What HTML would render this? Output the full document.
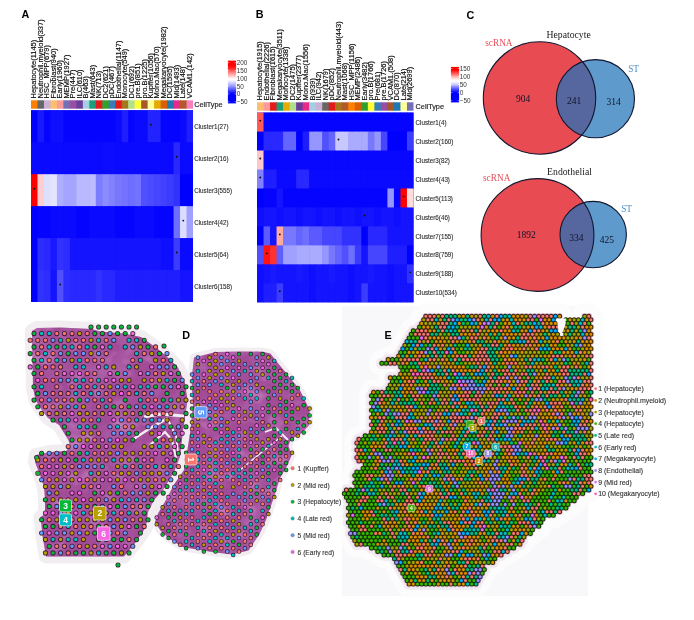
<!DOCTYPE html>
<html><head><meta charset="utf-8"><title>Figure</title><style>
html,body{margin:0;padding:0;background:#fff;}
body{width:694px;height:620px;overflow:hidden;}
svg{display:block;}
text{font-family:'Liberation Sans',Arial,sans-serif;}
.pl{font-size:10.8px;font-weight:bold;fill:#000;}
.cl{font-size:7.45px;fill:#111;stroke:#111;stroke-width:0.18px;}
.rl{font-size:6.8px;fill:#2a2a2a;stroke:#2a2a2a;stroke-width:0.1px;}
.ct{font-size:7.3px;fill:#222;stroke:#222;stroke-width:0.15px;}
.lg{font-size:6.4px;fill:#333;}
.vt{font-family:'Liberation Serif','Times New Roman',serif;font-size:10.8px;fill:#1a1a1a;}
.vs{font-family:'Liberation Serif','Times New Roman',serif;font-size:9.3px;fill:#e8505a;}
.vst{font-family:'Liberation Serif','Times New Roman',serif;font-size:9.3px;fill:#4f8fc6;}
.vn{font-family:'Liberation Serif','Times New Roman',serif;font-size:10.6px;fill:#10142a;}
.bx{font-weight:bold;fill:#fff;}
.lgd{font-size:7.4px;fill:#333;stroke:#333;stroke-width:0.12px;}
.lge{font-size:7.4px;fill:#333;stroke:#333;stroke-width:0.12px;}
</style></head>
<body><svg width="694" height="620" viewBox="0 0 694 620">
<rect width="694" height="620" fill="#fff"/>
<text x="21.6" y="18.4" class="pl">A</text>
<text transform="translate(36.34 98.40) rotate(-90) scale(1 0.93)" class="cl">Hepatocyte(1145)</text>
<text transform="translate(42.82 98.40) rotate(-90) scale(1 0.93)" class="cl">Neutrophil.myeloid(337)</text>
<text transform="translate(49.30 98.40) rotate(-90) scale(1 0.93)" class="cl">HSC_MPP(679)</text>
<text transform="translate(55.78 98.40) rotate(-90) scale(1 0.93)" class="cl">Fibroblast(940)</text>
<text transform="translate(62.26 98.40) rotate(-90) scale(1 0.93)" class="cl">Early(1960)</text>
<text transform="translate(68.74 98.40) rotate(-90) scale(1 0.93)" class="cl">MEMP(1927)</text>
<text transform="translate(75.22 98.40) rotate(-90) scale(1 0.93)" class="cl">Pre(447)</text>
<text transform="translate(81.70 98.40) rotate(-90) scale(1 0.93)" class="cl">ILC(610)</text>
<text transform="translate(88.18 98.40) rotate(-90) scale(1 0.93)" class="cl">B(463)</text>
<text transform="translate(94.66 98.40) rotate(-90) scale(1 0.93)" class="cl">Mast(643)</text>
<text transform="translate(101.14 98.40) rotate(-90) scale(1 0.93)" class="cl">NK(713)</text>
<text transform="translate(107.62 98.40) rotate(-90) scale(1 0.93)" class="cl">DC2(621)</text>
<text transform="translate(114.10 98.40) rotate(-90) scale(1 0.93)" class="cl">pDC(467)</text>
<text transform="translate(120.58 98.40) rotate(-90) scale(1 0.93)" class="cl">Endothelial(1147)</text>
<text transform="translate(127.06 98.40) rotate(-90) scale(1 0.93)" class="cl">Monocyte(549)</text>
<text transform="translate(133.54 98.40) rotate(-90) scale(1 0.93)" class="cl">DC1(692)</text>
<text transform="translate(140.02 98.40) rotate(-90) scale(1 0.93)" class="cl">pre.B(851)</text>
<text transform="translate(146.50 98.40) rotate(-90) scale(1 0.93)" class="cl">pro.B(1225)</text>
<text transform="translate(152.98 98.40) rotate(-90) scale(1 0.93)" class="cl">Kupffer(1056)</text>
<text transform="translate(159.46 98.40) rotate(-90) scale(1 0.93)" class="cl">Mono.Mac(570)</text>
<text transform="translate(165.94 98.40) rotate(-90) scale(1 0.93)" class="cl">Megakaryocyte(1982)</text>
<text transform="translate(172.42 98.40) rotate(-90) scale(1 0.93)" class="cl">DC(1595)</text>
<text transform="translate(178.90 98.40) rotate(-90) scale(1 0.93)" class="cl">Mid(1493)</text>
<text transform="translate(185.38 98.40) rotate(-90) scale(1 0.93)" class="cl">Late(148)</text>
<text transform="translate(191.86 98.40) rotate(-90) scale(1 0.93)" class="cl">VCAM1.(142)</text>
<rect x="31.00" y="100.30" width="7.08" height="8.40" fill="#FF7F00"/>
<rect x="37.48" y="100.30" width="7.08" height="8.40" fill="#666666"/>
<rect x="43.96" y="100.30" width="7.08" height="8.40" fill="#CAB2D6"/>
<rect x="50.44" y="100.30" width="7.08" height="8.40" fill="#FDBF6F"/>
<rect x="56.92" y="100.30" width="7.08" height="8.40" fill="#FB9A99"/>
<rect x="63.40" y="100.30" width="7.08" height="8.40" fill="#7570B3"/>
<rect x="69.88" y="100.30" width="7.08" height="8.40" fill="#984EA3"/>
<rect x="76.36" y="100.30" width="7.08" height="8.40" fill="#6A3D9A"/>
<rect x="82.84" y="100.30" width="7.08" height="8.40" fill="#A6CEE3"/>
<rect x="89.32" y="100.30" width="7.08" height="8.40" fill="#1B9E77"/>
<rect x="95.80" y="100.30" width="7.08" height="8.40" fill="#E31A1C"/>
<rect x="102.28" y="100.30" width="7.08" height="8.40" fill="#33A02C"/>
<rect x="108.76" y="100.30" width="7.08" height="8.40" fill="#377EB8"/>
<rect x="115.24" y="100.30" width="7.08" height="8.40" fill="#E31A1C"/>
<rect x="121.72" y="100.30" width="7.08" height="8.40" fill="#A6761D"/>
<rect x="128.20" y="100.30" width="7.08" height="8.40" fill="#B2DF8A"/>
<rect x="134.68" y="100.30" width="7.08" height="8.40" fill="#FFFF33"/>
<rect x="141.16" y="100.30" width="7.08" height="8.40" fill="#A65628"/>
<rect x="147.64" y="100.30" width="7.08" height="8.40" fill="#FFFF99"/>
<rect x="154.12" y="100.30" width="7.08" height="8.40" fill="#E6AB02"/>
<rect x="160.60" y="100.30" width="7.08" height="8.40" fill="#D95F02"/>
<rect x="167.08" y="100.30" width="7.08" height="8.40" fill="#1F78B4"/>
<rect x="173.56" y="100.30" width="7.08" height="8.40" fill="#E7298A"/>
<rect x="180.04" y="100.30" width="7.08" height="8.40" fill="#B15928"/>
<rect x="186.52" y="100.30" width="6.48" height="8.40" fill="#F781BF"/>
<rect x="31.00" y="110.30" width="162.00" height="191.70" fill="#0000ff"/>
<rect x="31.00" y="110.30" width="7.08" height="32.55" fill="#0000ff"/>
<rect x="37.48" y="110.30" width="7.08" height="32.55" fill="#1919ff"/>
<rect x="43.96" y="110.30" width="7.08" height="32.55" fill="#0505ff"/>
<rect x="50.44" y="110.30" width="7.08" height="32.55" fill="#0f0fff"/>
<rect x="56.92" y="110.30" width="7.08" height="32.55" fill="#0f0fff"/>
<rect x="63.40" y="110.30" width="7.08" height="32.55" fill="#0505ff"/>
<rect x="69.88" y="110.30" width="7.08" height="32.55" fill="#0505ff"/>
<rect x="76.36" y="110.30" width="7.08" height="32.55" fill="#0505ff"/>
<rect x="82.84" y="110.30" width="7.08" height="32.55" fill="#0505ff"/>
<rect x="89.32" y="110.30" width="7.08" height="32.55" fill="#0505ff"/>
<rect x="95.80" y="110.30" width="7.08" height="32.55" fill="#0505ff"/>
<rect x="102.28" y="110.30" width="7.08" height="32.55" fill="#0505ff"/>
<rect x="108.76" y="110.30" width="7.08" height="32.55" fill="#0505ff"/>
<rect x="115.24" y="110.30" width="7.08" height="32.55" fill="#0a0aff"/>
<rect x="121.72" y="110.30" width="7.08" height="32.55" fill="#1e1eff"/>
<rect x="128.20" y="110.30" width="7.08" height="32.55" fill="#0505ff"/>
<rect x="134.68" y="110.30" width="7.08" height="32.55" fill="#0a0aff"/>
<rect x="141.16" y="110.30" width="7.08" height="32.55" fill="#0a0aff"/>
<rect x="147.64" y="110.30" width="7.08" height="32.55" fill="#2323ff"/>
<rect x="154.12" y="110.30" width="7.08" height="32.55" fill="#2323ff"/>
<rect x="160.60" y="110.30" width="7.08" height="32.55" fill="#0505ff"/>
<rect x="167.08" y="110.30" width="7.08" height="32.55" fill="#0505ff"/>
<rect x="173.56" y="110.30" width="7.08" height="32.55" fill="#0505ff"/>
<rect x="180.04" y="110.30" width="7.08" height="32.55" fill="#0a0aff"/>
<rect x="186.52" y="110.30" width="6.48" height="32.55" fill="#1e1eff"/>
<rect x="31.00" y="142.25" width="7.08" height="32.55" fill="#0a0aff"/>
<rect x="37.48" y="142.25" width="7.08" height="32.55" fill="#0a0aff"/>
<rect x="43.96" y="142.25" width="7.08" height="32.55" fill="#0a0aff"/>
<rect x="50.44" y="142.25" width="7.08" height="32.55" fill="#0a0aff"/>
<rect x="56.92" y="142.25" width="7.08" height="32.55" fill="#0a0aff"/>
<rect x="63.40" y="142.25" width="7.08" height="32.55" fill="#0a0aff"/>
<rect x="69.88" y="142.25" width="7.08" height="32.55" fill="#0a0aff"/>
<rect x="76.36" y="142.25" width="7.08" height="32.55" fill="#0a0aff"/>
<rect x="82.84" y="142.25" width="7.08" height="32.55" fill="#0a0aff"/>
<rect x="89.32" y="142.25" width="7.08" height="32.55" fill="#0a0aff"/>
<rect x="95.80" y="142.25" width="7.08" height="32.55" fill="#0a0aff"/>
<rect x="102.28" y="142.25" width="7.08" height="32.55" fill="#0c0cff"/>
<rect x="108.76" y="142.25" width="7.08" height="32.55" fill="#0c0cff"/>
<rect x="115.24" y="142.25" width="7.08" height="32.55" fill="#0a0aff"/>
<rect x="121.72" y="142.25" width="7.08" height="32.55" fill="#0a0aff"/>
<rect x="128.20" y="142.25" width="7.08" height="32.55" fill="#0a0aff"/>
<rect x="134.68" y="142.25" width="7.08" height="32.55" fill="#0a0aff"/>
<rect x="141.16" y="142.25" width="7.08" height="32.55" fill="#0a0aff"/>
<rect x="147.64" y="142.25" width="7.08" height="32.55" fill="#0a0aff"/>
<rect x="154.12" y="142.25" width="7.08" height="32.55" fill="#0a0aff"/>
<rect x="160.60" y="142.25" width="7.08" height="32.55" fill="#0a0aff"/>
<rect x="167.08" y="142.25" width="7.08" height="32.55" fill="#0a0aff"/>
<rect x="173.56" y="142.25" width="7.08" height="32.55" fill="#2828ff"/>
<rect x="180.04" y="142.25" width="7.08" height="32.55" fill="#0a0aff"/>
<rect x="186.52" y="142.25" width="6.48" height="32.55" fill="#0a0aff"/>
<rect x="31.00" y="174.20" width="7.08" height="32.55" fill="#ff0000"/>
<rect x="37.48" y="174.20" width="7.08" height="32.55" fill="#ffcdcd"/>
<rect x="43.96" y="174.20" width="7.08" height="32.55" fill="#dedeff"/>
<rect x="50.44" y="174.20" width="7.08" height="32.55" fill="#e4e4ff"/>
<rect x="56.92" y="174.20" width="7.08" height="32.55" fill="#afafff"/>
<rect x="63.40" y="174.20" width="7.08" height="32.55" fill="#a5a5ff"/>
<rect x="69.88" y="174.20" width="7.08" height="32.55" fill="#a5a5ff"/>
<rect x="76.36" y="174.20" width="7.08" height="32.55" fill="#b9b9ff"/>
<rect x="82.84" y="174.20" width="7.08" height="32.55" fill="#b9b9ff"/>
<rect x="89.32" y="174.20" width="7.08" height="32.55" fill="#bcbcff"/>
<rect x="95.80" y="174.20" width="7.08" height="32.55" fill="#7d7dff"/>
<rect x="102.28" y="174.20" width="7.08" height="32.55" fill="#8c8cff"/>
<rect x="108.76" y="174.20" width="7.08" height="32.55" fill="#8282ff"/>
<rect x="115.24" y="174.20" width="7.08" height="32.55" fill="#7878ff"/>
<rect x="121.72" y="174.20" width="7.08" height="32.55" fill="#7373ff"/>
<rect x="128.20" y="174.20" width="7.08" height="32.55" fill="#6e6eff"/>
<rect x="134.68" y="174.20" width="7.08" height="32.55" fill="#7373ff"/>
<rect x="141.16" y="174.20" width="7.08" height="32.55" fill="#5050ff"/>
<rect x="147.64" y="174.20" width="7.08" height="32.55" fill="#4b4bff"/>
<rect x="154.12" y="174.20" width="7.08" height="32.55" fill="#4646ff"/>
<rect x="160.60" y="174.20" width="7.08" height="32.55" fill="#4141ff"/>
<rect x="167.08" y="174.20" width="7.08" height="32.55" fill="#3c3cff"/>
<rect x="173.56" y="174.20" width="7.08" height="32.55" fill="#3232ff"/>
<rect x="180.04" y="174.20" width="7.08" height="32.55" fill="#0000ff"/>
<rect x="186.52" y="174.20" width="6.48" height="32.55" fill="#0000ff"/>
<rect x="31.00" y="206.15" width="7.08" height="32.55" fill="#0000ff"/>
<rect x="37.48" y="206.15" width="7.08" height="32.55" fill="#0505ff"/>
<rect x="43.96" y="206.15" width="7.08" height="32.55" fill="#0505ff"/>
<rect x="50.44" y="206.15" width="7.08" height="32.55" fill="#0a0aff"/>
<rect x="56.92" y="206.15" width="7.08" height="32.55" fill="#0a0aff"/>
<rect x="63.40" y="206.15" width="7.08" height="32.55" fill="#0a0aff"/>
<rect x="69.88" y="206.15" width="7.08" height="32.55" fill="#0a0aff"/>
<rect x="76.36" y="206.15" width="7.08" height="32.55" fill="#0505ff"/>
<rect x="82.84" y="206.15" width="7.08" height="32.55" fill="#0505ff"/>
<rect x="89.32" y="206.15" width="7.08" height="32.55" fill="#0a0aff"/>
<rect x="95.80" y="206.15" width="7.08" height="32.55" fill="#0a0aff"/>
<rect x="102.28" y="206.15" width="7.08" height="32.55" fill="#0a0aff"/>
<rect x="108.76" y="206.15" width="7.08" height="32.55" fill="#0a0aff"/>
<rect x="115.24" y="206.15" width="7.08" height="32.55" fill="#0505ff"/>
<rect x="121.72" y="206.15" width="7.08" height="32.55" fill="#0505ff"/>
<rect x="128.20" y="206.15" width="7.08" height="32.55" fill="#0505ff"/>
<rect x="134.68" y="206.15" width="7.08" height="32.55" fill="#0a0aff"/>
<rect x="141.16" y="206.15" width="7.08" height="32.55" fill="#0a0aff"/>
<rect x="147.64" y="206.15" width="7.08" height="32.55" fill="#0a0aff"/>
<rect x="154.12" y="206.15" width="7.08" height="32.55" fill="#0505ff"/>
<rect x="160.60" y="206.15" width="7.08" height="32.55" fill="#0505ff"/>
<rect x="167.08" y="206.15" width="7.08" height="32.55" fill="#0505ff"/>
<rect x="173.56" y="206.15" width="7.08" height="32.55" fill="#6e6eff"/>
<rect x="180.04" y="206.15" width="7.08" height="32.55" fill="#dcdcff"/>
<rect x="186.52" y="206.15" width="6.48" height="32.55" fill="#a0a0ff"/>
<rect x="31.00" y="238.10" width="7.08" height="32.55" fill="#0000ff"/>
<rect x="37.48" y="238.10" width="7.08" height="32.55" fill="#2d2dff"/>
<rect x="43.96" y="238.10" width="7.08" height="32.55" fill="#2828ff"/>
<rect x="50.44" y="238.10" width="7.08" height="32.55" fill="#1919ff"/>
<rect x="56.92" y="238.10" width="7.08" height="32.55" fill="#3232ff"/>
<rect x="63.40" y="238.10" width="7.08" height="32.55" fill="#2d2dff"/>
<rect x="69.88" y="238.10" width="7.08" height="32.55" fill="#1414ff"/>
<rect x="76.36" y="238.10" width="7.08" height="32.55" fill="#1414ff"/>
<rect x="82.84" y="238.10" width="7.08" height="32.55" fill="#1414ff"/>
<rect x="89.32" y="238.10" width="7.08" height="32.55" fill="#1414ff"/>
<rect x="95.80" y="238.10" width="7.08" height="32.55" fill="#1414ff"/>
<rect x="102.28" y="238.10" width="7.08" height="32.55" fill="#1414ff"/>
<rect x="108.76" y="238.10" width="7.08" height="32.55" fill="#1414ff"/>
<rect x="115.24" y="238.10" width="7.08" height="32.55" fill="#1414ff"/>
<rect x="121.72" y="238.10" width="7.08" height="32.55" fill="#1414ff"/>
<rect x="128.20" y="238.10" width="7.08" height="32.55" fill="#1414ff"/>
<rect x="134.68" y="238.10" width="7.08" height="32.55" fill="#1414ff"/>
<rect x="141.16" y="238.10" width="7.08" height="32.55" fill="#1414ff"/>
<rect x="147.64" y="238.10" width="7.08" height="32.55" fill="#1414ff"/>
<rect x="154.12" y="238.10" width="7.08" height="32.55" fill="#1414ff"/>
<rect x="160.60" y="238.10" width="7.08" height="32.55" fill="#0f0fff"/>
<rect x="167.08" y="238.10" width="7.08" height="32.55" fill="#0f0fff"/>
<rect x="173.56" y="238.10" width="7.08" height="32.55" fill="#3c3cff"/>
<rect x="180.04" y="238.10" width="7.08" height="32.55" fill="#0a0aff"/>
<rect x="186.52" y="238.10" width="6.48" height="32.55" fill="#0a0aff"/>
<rect x="31.00" y="270.05" width="7.08" height="31.95" fill="#0000ff"/>
<rect x="37.48" y="270.05" width="7.08" height="31.95" fill="#3232ff"/>
<rect x="43.96" y="270.05" width="7.08" height="31.95" fill="#2d2dff"/>
<rect x="50.44" y="270.05" width="7.08" height="31.95" fill="#1414ff"/>
<rect x="56.92" y="270.05" width="7.08" height="31.95" fill="#5050ff"/>
<rect x="63.40" y="270.05" width="7.08" height="31.95" fill="#2d2dff"/>
<rect x="69.88" y="270.05" width="7.08" height="31.95" fill="#2828ff"/>
<rect x="76.36" y="270.05" width="7.08" height="31.95" fill="#2828ff"/>
<rect x="82.84" y="270.05" width="7.08" height="31.95" fill="#2828ff"/>
<rect x="89.32" y="270.05" width="7.08" height="31.95" fill="#2828ff"/>
<rect x="95.80" y="270.05" width="7.08" height="31.95" fill="#3232ff"/>
<rect x="102.28" y="270.05" width="7.08" height="31.95" fill="#2828ff"/>
<rect x="108.76" y="270.05" width="7.08" height="31.95" fill="#2828ff"/>
<rect x="115.24" y="270.05" width="7.08" height="31.95" fill="#1e1eff"/>
<rect x="121.72" y="270.05" width="7.08" height="31.95" fill="#1e1eff"/>
<rect x="128.20" y="270.05" width="7.08" height="31.95" fill="#1e1eff"/>
<rect x="134.68" y="270.05" width="7.08" height="31.95" fill="#1e1eff"/>
<rect x="141.16" y="270.05" width="7.08" height="31.95" fill="#1e1eff"/>
<rect x="147.64" y="270.05" width="7.08" height="31.95" fill="#1e1eff"/>
<rect x="154.12" y="270.05" width="7.08" height="31.95" fill="#1e1eff"/>
<rect x="160.60" y="270.05" width="7.08" height="31.95" fill="#1e1eff"/>
<rect x="167.08" y="270.05" width="7.08" height="31.95" fill="#1e1eff"/>
<rect x="173.56" y="270.05" width="7.08" height="31.95" fill="#1e1eff"/>
<rect x="180.04" y="270.05" width="7.08" height="31.95" fill="#1414ff"/>
<rect x="186.52" y="270.05" width="6.48" height="31.95" fill="#1414ff"/>
<circle cx="150.88" cy="124.77" r="0.95" fill="#111"/>
<circle cx="176.80" cy="156.72" r="0.95" fill="#111"/>
<circle cx="34.24" cy="188.68" r="0.95" fill="#111"/>
<circle cx="183.28" cy="220.62" r="0.95" fill="#111"/>
<circle cx="176.80" cy="252.57" r="0.95" fill="#111"/>
<circle cx="60.16" cy="284.52" r="0.95" fill="#111"/>
<text transform="translate(194.20 128.88) scale(0.92 1)" class="rl">Cluster1(27)</text>
<text transform="translate(194.20 160.82) scale(0.92 1)" class="rl">Cluster2(16)</text>
<text transform="translate(194.20 192.78) scale(0.92 1)" class="rl">Cluster3(555)</text>
<text transform="translate(194.20 224.72) scale(0.92 1)" class="rl">Cluster4(42)</text>
<text transform="translate(194.20 256.68) scale(0.92 1)" class="rl">Cluster5(64)</text>
<text transform="translate(194.20 288.62) scale(0.92 1)" class="rl">Cluster6(158)</text>
<text x="194.2" y="106.9" class="ct">CellType</text>
<text x="255.8" y="18.4" class="pl">B</text>
<text transform="translate(262.36 100.40) rotate(-90) scale(1 0.93)" class="cl">Hepatocyte(1915)</text>
<text transform="translate(268.88 100.40) rotate(-90) scale(1 0.93)" class="cl">Endothelial(2226)</text>
<text transform="translate(275.40 100.40) rotate(-90) scale(1 0.93)" class="cl">Fibroblast(1615)</text>
<text transform="translate(281.92 100.40) rotate(-90) scale(1 0.93)" class="cl">Megakaryocyte(3511)</text>
<text transform="translate(288.44 100.40) rotate(-90) scale(1 0.93)" class="cl">Monocyte(1338)</text>
<text transform="translate(294.96 100.40) rotate(-90) scale(1 0.93)" class="cl">DC2(1475)</text>
<text transform="translate(301.48 100.40) rotate(-90) scale(1 0.93)" class="cl">Kupffer(2377)</text>
<text transform="translate(308.00 100.40) rotate(-90) scale(1 0.93)" class="cl">Mono.Mac(1556)</text>
<text transform="translate(314.52 100.40) rotate(-90) scale(1 0.93)" class="cl">B(939)</text>
<text transform="translate(321.04 100.40) rotate(-90) scale(1 0.93)" class="cl">ILC(942)</text>
<text transform="translate(327.56 100.40) rotate(-90) scale(1 0.93)" class="cl">NK(1679)</text>
<text transform="translate(334.08 100.40) rotate(-90) scale(1 0.93)" class="cl">pDC(852)</text>
<text transform="translate(340.60 100.40) rotate(-90) scale(1 0.93)" class="cl">Neutrophil.myeloid(443)</text>
<text transform="translate(347.12 100.40) rotate(-90) scale(1 0.93)" class="cl">Mast(1068)</text>
<text transform="translate(353.64 100.40) rotate(-90) scale(1 0.93)" class="cl">HSC_MPP(1156)</text>
<text transform="translate(360.16 100.40) rotate(-90) scale(1 0.93)" class="cl">MEMP(2486)</text>
<text transform="translate(366.68 100.40) rotate(-90) scale(1 0.93)" class="cl">Early(3482)</text>
<text transform="translate(373.20 100.40) rotate(-90) scale(1 0.93)" class="cl">pro.B(1766)</text>
<text transform="translate(379.72 100.40) rotate(-90) scale(1 0.93)" class="cl">Pre(681)</text>
<text transform="translate(386.24 100.40) rotate(-90) scale(1 0.93)" class="cl">pre.B(1726)</text>
<text transform="translate(392.76 100.40) rotate(-90) scale(1 0.93)" class="cl">VCAM1.(508)</text>
<text transform="translate(399.28 100.40) rotate(-90) scale(1 0.93)" class="cl">DC(870)</text>
<text transform="translate(405.80 100.40) rotate(-90) scale(1 0.93)" class="cl">Late(214)</text>
<text transform="translate(412.32 100.40) rotate(-90) scale(1 0.93)" class="cl">Mid(2699)</text>
<rect x="257.00" y="102.30" width="7.12" height="8.40" fill="#FDBF6F"/>
<rect x="263.52" y="102.30" width="7.12" height="8.40" fill="#FB9A99"/>
<rect x="270.04" y="102.30" width="7.12" height="8.40" fill="#E31A1C"/>
<rect x="276.56" y="102.30" width="7.12" height="8.40" fill="#1B9E77"/>
<rect x="283.08" y="102.30" width="7.12" height="8.40" fill="#E6AB02"/>
<rect x="289.60" y="102.30" width="7.12" height="8.40" fill="#B2DF8A"/>
<rect x="296.12" y="102.30" width="7.12" height="8.40" fill="#6A3D9A"/>
<rect x="302.64" y="102.30" width="7.12" height="8.40" fill="#E7298A"/>
<rect x="309.16" y="102.30" width="7.12" height="8.40" fill="#A6CEE3"/>
<rect x="315.68" y="102.30" width="7.12" height="8.40" fill="#CAB2D6"/>
<rect x="322.20" y="102.30" width="7.12" height="8.40" fill="#666666"/>
<rect x="328.72" y="102.30" width="7.12" height="8.40" fill="#E31A1C"/>
<rect x="335.24" y="102.30" width="7.12" height="8.40" fill="#A6761D"/>
<rect x="341.76" y="102.30" width="7.12" height="8.40" fill="#B15928"/>
<rect x="348.28" y="102.30" width="7.12" height="8.40" fill="#FF7F00"/>
<rect x="354.80" y="102.30" width="7.12" height="8.40" fill="#D95F02"/>
<rect x="361.32" y="102.30" width="7.12" height="8.40" fill="#33A02C"/>
<rect x="367.84" y="102.30" width="7.12" height="8.40" fill="#FFFF33"/>
<rect x="374.36" y="102.30" width="7.12" height="8.40" fill="#377EB8"/>
<rect x="380.88" y="102.30" width="7.12" height="8.40" fill="#984EA3"/>
<rect x="387.40" y="102.30" width="7.12" height="8.40" fill="#A65628"/>
<rect x="393.92" y="102.30" width="7.12" height="8.40" fill="#1F78B4"/>
<rect x="400.44" y="102.30" width="7.12" height="8.40" fill="#FFFF99"/>
<rect x="406.96" y="102.30" width="6.52" height="8.40" fill="#7570B3"/>
<rect x="257.00" y="112.60" width="156.48" height="189.70" fill="#0000ff"/>
<rect x="257.00" y="112.60" width="7.12" height="19.57" fill="#ff5a5a"/>
<rect x="263.52" y="112.60" width="7.12" height="19.57" fill="#0505ff"/>
<rect x="270.04" y="112.60" width="7.12" height="19.57" fill="#0505ff"/>
<rect x="276.56" y="112.60" width="7.12" height="19.57" fill="#0505ff"/>
<rect x="283.08" y="112.60" width="7.12" height="19.57" fill="#0505ff"/>
<rect x="289.60" y="112.60" width="7.12" height="19.57" fill="#0505ff"/>
<rect x="296.12" y="112.60" width="7.12" height="19.57" fill="#0505ff"/>
<rect x="302.64" y="112.60" width="7.12" height="19.57" fill="#0505ff"/>
<rect x="309.16" y="112.60" width="7.12" height="19.57" fill="#0505ff"/>
<rect x="315.68" y="112.60" width="7.12" height="19.57" fill="#0505ff"/>
<rect x="322.20" y="112.60" width="7.12" height="19.57" fill="#0505ff"/>
<rect x="328.72" y="112.60" width="7.12" height="19.57" fill="#0505ff"/>
<rect x="335.24" y="112.60" width="7.12" height="19.57" fill="#0505ff"/>
<rect x="341.76" y="112.60" width="7.12" height="19.57" fill="#0505ff"/>
<rect x="348.28" y="112.60" width="7.12" height="19.57" fill="#0505ff"/>
<rect x="354.80" y="112.60" width="7.12" height="19.57" fill="#0505ff"/>
<rect x="361.32" y="112.60" width="7.12" height="19.57" fill="#0505ff"/>
<rect x="367.84" y="112.60" width="7.12" height="19.57" fill="#0505ff"/>
<rect x="374.36" y="112.60" width="7.12" height="19.57" fill="#0505ff"/>
<rect x="380.88" y="112.60" width="7.12" height="19.57" fill="#0505ff"/>
<rect x="387.40" y="112.60" width="7.12" height="19.57" fill="#0505ff"/>
<rect x="393.92" y="112.60" width="7.12" height="19.57" fill="#0505ff"/>
<rect x="400.44" y="112.60" width="7.12" height="19.57" fill="#0505ff"/>
<rect x="406.96" y="112.60" width="6.52" height="19.57" fill="#0505ff"/>
<rect x="257.00" y="131.57" width="7.12" height="19.57" fill="#0000ff"/>
<rect x="263.52" y="131.57" width="7.12" height="19.57" fill="#2828ff"/>
<rect x="270.04" y="131.57" width="7.12" height="19.57" fill="#2828ff"/>
<rect x="276.56" y="131.57" width="7.12" height="19.57" fill="#2828ff"/>
<rect x="283.08" y="131.57" width="7.12" height="19.57" fill="#6464ff"/>
<rect x="289.60" y="131.57" width="7.12" height="19.57" fill="#6464ff"/>
<rect x="296.12" y="131.57" width="7.12" height="19.57" fill="#0000ff"/>
<rect x="302.64" y="131.57" width="7.12" height="19.57" fill="#1e1eff"/>
<rect x="309.16" y="131.57" width="7.12" height="19.57" fill="#9696ff"/>
<rect x="315.68" y="131.57" width="7.12" height="19.57" fill="#9696ff"/>
<rect x="322.20" y="131.57" width="7.12" height="19.57" fill="#5050ff"/>
<rect x="328.72" y="131.57" width="7.12" height="19.57" fill="#6464ff"/>
<rect x="335.24" y="131.57" width="7.12" height="19.57" fill="#c8c8ff"/>
<rect x="341.76" y="131.57" width="7.12" height="19.57" fill="#c8c8ff"/>
<rect x="348.28" y="131.57" width="7.12" height="19.57" fill="#aaaaff"/>
<rect x="354.80" y="131.57" width="7.12" height="19.57" fill="#aaaaff"/>
<rect x="361.32" y="131.57" width="7.12" height="19.57" fill="#aaaaff"/>
<rect x="367.84" y="131.57" width="7.12" height="19.57" fill="#7878ff"/>
<rect x="374.36" y="131.57" width="7.12" height="19.57" fill="#9696ff"/>
<rect x="380.88" y="131.57" width="7.12" height="19.57" fill="#4646ff"/>
<rect x="387.40" y="131.57" width="7.12" height="19.57" fill="#0000ff"/>
<rect x="393.92" y="131.57" width="7.12" height="19.57" fill="#0000ff"/>
<rect x="400.44" y="131.57" width="7.12" height="19.57" fill="#0000ff"/>
<rect x="406.96" y="131.57" width="6.52" height="19.57" fill="#3c3cff"/>
<rect x="257.00" y="150.54" width="7.12" height="19.57" fill="#ffc8c8"/>
<rect x="263.52" y="150.54" width="7.12" height="19.57" fill="#0808ff"/>
<rect x="270.04" y="150.54" width="7.12" height="19.57" fill="#0808ff"/>
<rect x="276.56" y="150.54" width="7.12" height="19.57" fill="#0808ff"/>
<rect x="283.08" y="150.54" width="7.12" height="19.57" fill="#0808ff"/>
<rect x="289.60" y="150.54" width="7.12" height="19.57" fill="#0808ff"/>
<rect x="296.12" y="150.54" width="7.12" height="19.57" fill="#0808ff"/>
<rect x="302.64" y="150.54" width="7.12" height="19.57" fill="#0808ff"/>
<rect x="309.16" y="150.54" width="7.12" height="19.57" fill="#0808ff"/>
<rect x="315.68" y="150.54" width="7.12" height="19.57" fill="#0808ff"/>
<rect x="322.20" y="150.54" width="7.12" height="19.57" fill="#0808ff"/>
<rect x="328.72" y="150.54" width="7.12" height="19.57" fill="#0808ff"/>
<rect x="335.24" y="150.54" width="7.12" height="19.57" fill="#0808ff"/>
<rect x="341.76" y="150.54" width="7.12" height="19.57" fill="#0808ff"/>
<rect x="348.28" y="150.54" width="7.12" height="19.57" fill="#0808ff"/>
<rect x="354.80" y="150.54" width="7.12" height="19.57" fill="#0808ff"/>
<rect x="361.32" y="150.54" width="7.12" height="19.57" fill="#0808ff"/>
<rect x="367.84" y="150.54" width="7.12" height="19.57" fill="#0808ff"/>
<rect x="374.36" y="150.54" width="7.12" height="19.57" fill="#0808ff"/>
<rect x="380.88" y="150.54" width="7.12" height="19.57" fill="#0808ff"/>
<rect x="387.40" y="150.54" width="7.12" height="19.57" fill="#0808ff"/>
<rect x="393.92" y="150.54" width="7.12" height="19.57" fill="#0808ff"/>
<rect x="400.44" y="150.54" width="7.12" height="19.57" fill="#0808ff"/>
<rect x="406.96" y="150.54" width="6.52" height="19.57" fill="#0808ff"/>
<rect x="257.00" y="169.51" width="7.12" height="19.57" fill="#8282ff"/>
<rect x="263.52" y="169.51" width="7.12" height="19.57" fill="#1e1eff"/>
<rect x="270.04" y="169.51" width="7.12" height="19.57" fill="#1e1eff"/>
<rect x="276.56" y="169.51" width="7.12" height="19.57" fill="#0a0aff"/>
<rect x="283.08" y="169.51" width="7.12" height="19.57" fill="#0a0aff"/>
<rect x="289.60" y="169.51" width="7.12" height="19.57" fill="#0a0aff"/>
<rect x="296.12" y="169.51" width="7.12" height="19.57" fill="#2828ff"/>
<rect x="302.64" y="169.51" width="7.12" height="19.57" fill="#2828ff"/>
<rect x="309.16" y="169.51" width="7.12" height="19.57" fill="#0a0aff"/>
<rect x="315.68" y="169.51" width="7.12" height="19.57" fill="#0a0aff"/>
<rect x="322.20" y="169.51" width="7.12" height="19.57" fill="#0a0aff"/>
<rect x="328.72" y="169.51" width="7.12" height="19.57" fill="#0a0aff"/>
<rect x="335.24" y="169.51" width="7.12" height="19.57" fill="#0a0aff"/>
<rect x="341.76" y="169.51" width="7.12" height="19.57" fill="#0a0aff"/>
<rect x="348.28" y="169.51" width="7.12" height="19.57" fill="#0a0aff"/>
<rect x="354.80" y="169.51" width="7.12" height="19.57" fill="#0a0aff"/>
<rect x="361.32" y="169.51" width="7.12" height="19.57" fill="#0a0aff"/>
<rect x="367.84" y="169.51" width="7.12" height="19.57" fill="#0a0aff"/>
<rect x="374.36" y="169.51" width="7.12" height="19.57" fill="#0a0aff"/>
<rect x="380.88" y="169.51" width="7.12" height="19.57" fill="#0a0aff"/>
<rect x="387.40" y="169.51" width="7.12" height="19.57" fill="#0a0aff"/>
<rect x="393.92" y="169.51" width="7.12" height="19.57" fill="#0a0aff"/>
<rect x="400.44" y="169.51" width="7.12" height="19.57" fill="#0a0aff"/>
<rect x="406.96" y="169.51" width="6.52" height="19.57" fill="#0a0aff"/>
<rect x="257.00" y="188.48" width="7.12" height="19.57" fill="#0000ff"/>
<rect x="263.52" y="188.48" width="7.12" height="19.57" fill="#0505ff"/>
<rect x="270.04" y="188.48" width="7.12" height="19.57" fill="#0505ff"/>
<rect x="276.56" y="188.48" width="7.12" height="19.57" fill="#1414ff"/>
<rect x="283.08" y="188.48" width="7.12" height="19.57" fill="#0505ff"/>
<rect x="289.60" y="188.48" width="7.12" height="19.57" fill="#0505ff"/>
<rect x="296.12" y="188.48" width="7.12" height="19.57" fill="#0505ff"/>
<rect x="302.64" y="188.48" width="7.12" height="19.57" fill="#0505ff"/>
<rect x="309.16" y="188.48" width="7.12" height="19.57" fill="#0505ff"/>
<rect x="315.68" y="188.48" width="7.12" height="19.57" fill="#0505ff"/>
<rect x="322.20" y="188.48" width="7.12" height="19.57" fill="#0505ff"/>
<rect x="328.72" y="188.48" width="7.12" height="19.57" fill="#0505ff"/>
<rect x="335.24" y="188.48" width="7.12" height="19.57" fill="#0505ff"/>
<rect x="341.76" y="188.48" width="7.12" height="19.57" fill="#0505ff"/>
<rect x="348.28" y="188.48" width="7.12" height="19.57" fill="#0505ff"/>
<rect x="354.80" y="188.48" width="7.12" height="19.57" fill="#0505ff"/>
<rect x="361.32" y="188.48" width="7.12" height="19.57" fill="#0505ff"/>
<rect x="367.84" y="188.48" width="7.12" height="19.57" fill="#0505ff"/>
<rect x="374.36" y="188.48" width="7.12" height="19.57" fill="#0505ff"/>
<rect x="380.88" y="188.48" width="7.12" height="19.57" fill="#0505ff"/>
<rect x="387.40" y="188.48" width="7.12" height="19.57" fill="#9696ff"/>
<rect x="393.92" y="188.48" width="7.12" height="19.57" fill="#0505ff"/>
<rect x="400.44" y="188.48" width="7.12" height="19.57" fill="#ff0000"/>
<rect x="406.96" y="188.48" width="6.52" height="19.57" fill="#ffdcdc"/>
<rect x="257.00" y="207.45" width="7.12" height="19.57" fill="#0f0fff"/>
<rect x="263.52" y="207.45" width="7.12" height="19.57" fill="#1414ff"/>
<rect x="270.04" y="207.45" width="7.12" height="19.57" fill="#1414ff"/>
<rect x="276.56" y="207.45" width="7.12" height="19.57" fill="#0f0fff"/>
<rect x="283.08" y="207.45" width="7.12" height="19.57" fill="#1414ff"/>
<rect x="289.60" y="207.45" width="7.12" height="19.57" fill="#1414ff"/>
<rect x="296.12" y="207.45" width="7.12" height="19.57" fill="#0f0fff"/>
<rect x="302.64" y="207.45" width="7.12" height="19.57" fill="#1414ff"/>
<rect x="309.16" y="207.45" width="7.12" height="19.57" fill="#1414ff"/>
<rect x="315.68" y="207.45" width="7.12" height="19.57" fill="#0f0fff"/>
<rect x="322.20" y="207.45" width="7.12" height="19.57" fill="#1414ff"/>
<rect x="328.72" y="207.45" width="7.12" height="19.57" fill="#1414ff"/>
<rect x="335.24" y="207.45" width="7.12" height="19.57" fill="#0f0fff"/>
<rect x="341.76" y="207.45" width="7.12" height="19.57" fill="#1414ff"/>
<rect x="348.28" y="207.45" width="7.12" height="19.57" fill="#1414ff"/>
<rect x="354.80" y="207.45" width="7.12" height="19.57" fill="#0f0fff"/>
<rect x="361.32" y="207.45" width="7.12" height="19.57" fill="#1414ff"/>
<rect x="367.84" y="207.45" width="7.12" height="19.57" fill="#1414ff"/>
<rect x="374.36" y="207.45" width="7.12" height="19.57" fill="#0f0fff"/>
<rect x="380.88" y="207.45" width="7.12" height="19.57" fill="#1414ff"/>
<rect x="387.40" y="207.45" width="7.12" height="19.57" fill="#1414ff"/>
<rect x="393.92" y="207.45" width="7.12" height="19.57" fill="#0f0fff"/>
<rect x="400.44" y="207.45" width="7.12" height="19.57" fill="#1414ff"/>
<rect x="406.96" y="207.45" width="6.52" height="19.57" fill="#1414ff"/>
<rect x="257.00" y="226.42" width="7.12" height="19.57" fill="#0000ff"/>
<rect x="263.52" y="226.42" width="7.12" height="19.57" fill="#5a5aff"/>
<rect x="270.04" y="226.42" width="7.12" height="19.57" fill="#1414ff"/>
<rect x="276.56" y="226.42" width="7.12" height="19.57" fill="#ffaaa0"/>
<rect x="283.08" y="226.42" width="7.12" height="19.57" fill="#7878ff"/>
<rect x="289.60" y="226.42" width="7.12" height="19.57" fill="#7878ff"/>
<rect x="296.12" y="226.42" width="7.12" height="19.57" fill="#6464ff"/>
<rect x="302.64" y="226.42" width="7.12" height="19.57" fill="#6e6eff"/>
<rect x="309.16" y="226.42" width="7.12" height="19.57" fill="#5a5aff"/>
<rect x="315.68" y="226.42" width="7.12" height="19.57" fill="#5a5aff"/>
<rect x="322.20" y="226.42" width="7.12" height="19.57" fill="#4646ff"/>
<rect x="328.72" y="226.42" width="7.12" height="19.57" fill="#4646ff"/>
<rect x="335.24" y="226.42" width="7.12" height="19.57" fill="#4646ff"/>
<rect x="341.76" y="226.42" width="7.12" height="19.57" fill="#3232ff"/>
<rect x="348.28" y="226.42" width="7.12" height="19.57" fill="#3232ff"/>
<rect x="354.80" y="226.42" width="7.12" height="19.57" fill="#3232ff"/>
<rect x="361.32" y="226.42" width="7.12" height="19.57" fill="#0000ff"/>
<rect x="367.84" y="226.42" width="7.12" height="19.57" fill="#2828ff"/>
<rect x="374.36" y="226.42" width="7.12" height="19.57" fill="#2828ff"/>
<rect x="380.88" y="226.42" width="7.12" height="19.57" fill="#2828ff"/>
<rect x="387.40" y="226.42" width="7.12" height="19.57" fill="#1414ff"/>
<rect x="393.92" y="226.42" width="7.12" height="19.57" fill="#1414ff"/>
<rect x="400.44" y="226.42" width="7.12" height="19.57" fill="#1414ff"/>
<rect x="406.96" y="226.42" width="6.52" height="19.57" fill="#1414ff"/>
<rect x="257.00" y="245.39" width="7.12" height="19.57" fill="#5050ff"/>
<rect x="263.52" y="245.39" width="7.12" height="19.57" fill="#ff1414"/>
<rect x="270.04" y="245.39" width="7.12" height="19.57" fill="#ff3232"/>
<rect x="276.56" y="245.39" width="7.12" height="19.57" fill="#5f5fff"/>
<rect x="283.08" y="245.39" width="7.12" height="19.57" fill="#a0a0ff"/>
<rect x="289.60" y="245.39" width="7.12" height="19.57" fill="#a0a0ff"/>
<rect x="296.12" y="245.39" width="7.12" height="19.57" fill="#aaaaff"/>
<rect x="302.64" y="245.39" width="7.12" height="19.57" fill="#aaaaff"/>
<rect x="309.16" y="245.39" width="7.12" height="19.57" fill="#aaaaff"/>
<rect x="315.68" y="245.39" width="7.12" height="19.57" fill="#aaaaff"/>
<rect x="322.20" y="245.39" width="7.12" height="19.57" fill="#9696ff"/>
<rect x="328.72" y="245.39" width="7.12" height="19.57" fill="#7878ff"/>
<rect x="335.24" y="245.39" width="7.12" height="19.57" fill="#6464ff"/>
<rect x="341.76" y="245.39" width="7.12" height="19.57" fill="#5050ff"/>
<rect x="348.28" y="245.39" width="7.12" height="19.57" fill="#6e6eff"/>
<rect x="354.80" y="245.39" width="7.12" height="19.57" fill="#3c3cff"/>
<rect x="361.32" y="245.39" width="7.12" height="19.57" fill="#1414ff"/>
<rect x="367.84" y="245.39" width="7.12" height="19.57" fill="#4646ff"/>
<rect x="374.36" y="245.39" width="7.12" height="19.57" fill="#4646ff"/>
<rect x="380.88" y="245.39" width="7.12" height="19.57" fill="#4646ff"/>
<rect x="387.40" y="245.39" width="7.12" height="19.57" fill="#1e1eff"/>
<rect x="393.92" y="245.39" width="7.12" height="19.57" fill="#1e1eff"/>
<rect x="400.44" y="245.39" width="7.12" height="19.57" fill="#1e1eff"/>
<rect x="406.96" y="245.39" width="6.52" height="19.57" fill="#0000ff"/>
<rect x="257.00" y="264.36" width="7.12" height="19.57" fill="#0f0fff"/>
<rect x="263.52" y="264.36" width="7.12" height="19.57" fill="#1414ff"/>
<rect x="270.04" y="264.36" width="7.12" height="19.57" fill="#1919ff"/>
<rect x="276.56" y="264.36" width="7.12" height="19.57" fill="#1414ff"/>
<rect x="283.08" y="264.36" width="7.12" height="19.57" fill="#1414ff"/>
<rect x="289.60" y="264.36" width="7.12" height="19.57" fill="#1414ff"/>
<rect x="296.12" y="264.36" width="7.12" height="19.57" fill="#1919ff"/>
<rect x="302.64" y="264.36" width="7.12" height="19.57" fill="#1414ff"/>
<rect x="309.16" y="264.36" width="7.12" height="19.57" fill="#0f0fff"/>
<rect x="315.68" y="264.36" width="7.12" height="19.57" fill="#1414ff"/>
<rect x="322.20" y="264.36" width="7.12" height="19.57" fill="#1414ff"/>
<rect x="328.72" y="264.36" width="7.12" height="19.57" fill="#1919ff"/>
<rect x="335.24" y="264.36" width="7.12" height="19.57" fill="#1414ff"/>
<rect x="341.76" y="264.36" width="7.12" height="19.57" fill="#1414ff"/>
<rect x="348.28" y="264.36" width="7.12" height="19.57" fill="#0f0fff"/>
<rect x="354.80" y="264.36" width="7.12" height="19.57" fill="#1414ff"/>
<rect x="361.32" y="264.36" width="7.12" height="19.57" fill="#1414ff"/>
<rect x="367.84" y="264.36" width="7.12" height="19.57" fill="#1919ff"/>
<rect x="374.36" y="264.36" width="7.12" height="19.57" fill="#1414ff"/>
<rect x="380.88" y="264.36" width="7.12" height="19.57" fill="#1414ff"/>
<rect x="387.40" y="264.36" width="7.12" height="19.57" fill="#0f0fff"/>
<rect x="393.92" y="264.36" width="7.12" height="19.57" fill="#1414ff"/>
<rect x="400.44" y="264.36" width="7.12" height="19.57" fill="#1414ff"/>
<rect x="406.96" y="264.36" width="6.52" height="19.57" fill="#3232ff"/>
<rect x="257.00" y="283.33" width="7.12" height="18.97" fill="#0f0fff"/>
<rect x="263.52" y="283.33" width="7.12" height="18.97" fill="#1e1eff"/>
<rect x="270.04" y="283.33" width="7.12" height="18.97" fill="#1e1eff"/>
<rect x="276.56" y="283.33" width="7.12" height="18.97" fill="#3c3cff"/>
<rect x="283.08" y="283.33" width="7.12" height="18.97" fill="#1414ff"/>
<rect x="289.60" y="283.33" width="7.12" height="18.97" fill="#1414ff"/>
<rect x="296.12" y="283.33" width="7.12" height="18.97" fill="#1414ff"/>
<rect x="302.64" y="283.33" width="7.12" height="18.97" fill="#1414ff"/>
<rect x="309.16" y="283.33" width="7.12" height="18.97" fill="#0f0fff"/>
<rect x="315.68" y="283.33" width="7.12" height="18.97" fill="#1414ff"/>
<rect x="322.20" y="283.33" width="7.12" height="18.97" fill="#1414ff"/>
<rect x="328.72" y="283.33" width="7.12" height="18.97" fill="#1414ff"/>
<rect x="335.24" y="283.33" width="7.12" height="18.97" fill="#1414ff"/>
<rect x="341.76" y="283.33" width="7.12" height="18.97" fill="#1414ff"/>
<rect x="348.28" y="283.33" width="7.12" height="18.97" fill="#0f0fff"/>
<rect x="354.80" y="283.33" width="7.12" height="18.97" fill="#1414ff"/>
<rect x="361.32" y="283.33" width="7.12" height="18.97" fill="#3c3cff"/>
<rect x="367.84" y="283.33" width="7.12" height="18.97" fill="#1414ff"/>
<rect x="374.36" y="283.33" width="7.12" height="18.97" fill="#1414ff"/>
<rect x="380.88" y="283.33" width="7.12" height="18.97" fill="#1414ff"/>
<rect x="387.40" y="283.33" width="7.12" height="18.97" fill="#0f0fff"/>
<rect x="393.92" y="283.33" width="7.12" height="18.97" fill="#1414ff"/>
<rect x="400.44" y="283.33" width="7.12" height="18.97" fill="#1414ff"/>
<rect x="406.96" y="283.33" width="6.52" height="18.97" fill="#1414ff"/>
<circle cx="260.26" cy="120.58" r="0.95" fill="#111"/>
<circle cx="338.50" cy="139.56" r="0.95" fill="#111"/>
<circle cx="260.26" cy="158.52" r="0.95" fill="#111"/>
<circle cx="260.26" cy="177.50" r="0.95" fill="#111"/>
<circle cx="403.70" cy="196.46" r="0.95" fill="#111"/>
<circle cx="364.58" cy="215.44" r="0.95" fill="#111"/>
<circle cx="279.82" cy="234.40" r="0.95" fill="#111"/>
<circle cx="266.78" cy="253.37" r="0.95" fill="#111"/>
<circle cx="410.22" cy="272.35" r="0.95" fill="#111"/>
<circle cx="279.82" cy="291.31" r="0.95" fill="#111"/>
<text transform="translate(415.60 124.68) scale(0.92 1)" class="rl">Cluster1(4)</text>
<text transform="translate(415.60 143.66) scale(0.92 1)" class="rl">Cluster2(160)</text>
<text transform="translate(415.60 162.62) scale(0.92 1)" class="rl">Cluster3(82)</text>
<text transform="translate(415.60 181.59) scale(0.92 1)" class="rl">Cluster4(43)</text>
<text transform="translate(415.60 200.56) scale(0.92 1)" class="rl">Cluster5(113)</text>
<text transform="translate(415.60 219.53) scale(0.92 1)" class="rl">Cluster6(46)</text>
<text transform="translate(415.60 238.50) scale(0.92 1)" class="rl">Cluster7(155)</text>
<text transform="translate(415.60 257.47) scale(0.92 1)" class="rl">Cluster8(759)</text>
<text transform="translate(415.60 276.45) scale(0.92 1)" class="rl">Cluster9(188)</text>
<text transform="translate(415.60 295.41) scale(0.92 1)" class="rl">Cluster10(534)</text>
<text x="415.6" y="109.2" class="ct">CellType</text>
<defs><linearGradient id="g227" x1="0" y1="1" x2="0" y2="0">
<stop offset="0.220" stop-color="#0000ff"/>
<stop offset="0.330" stop-color="#5a5aff"/>
<stop offset="0.439" stop-color="#b4b4ff"/>
<stop offset="0.549" stop-color="#ffffff"/>
<stop offset="0.586" stop-color="#fff4f4"/>
<stop offset="0.695" stop-color="#ff9a9a"/>
<stop offset="0.805" stop-color="#ff3030"/>
<stop offset="0.896" stop-color="#ff0000"/>
</linearGradient></defs>
<rect x="227.90" y="60.60" width="8.2" height="42.80" fill="url(#g227)"/>
<line x1="227.90" x2="229.30" y1="62.70" y2="62.70" stroke="#fff" stroke-width="0.5"/>
<line x1="234.70" x2="236.10" y1="62.70" y2="62.70" stroke="#fff" stroke-width="0.5"/>
<text x="236.70" y="65.10" class="lg">200</text>
<line x1="227.90" x2="229.30" y1="70.52" y2="70.52" stroke="#fff" stroke-width="0.5"/>
<line x1="234.70" x2="236.10" y1="70.52" y2="70.52" stroke="#fff" stroke-width="0.5"/>
<text x="236.70" y="72.92" class="lg">150</text>
<line x1="227.90" x2="229.30" y1="78.34" y2="78.34" stroke="#fff" stroke-width="0.5"/>
<line x1="234.70" x2="236.10" y1="78.34" y2="78.34" stroke="#fff" stroke-width="0.5"/>
<text x="236.70" y="80.74" class="lg">100</text>
<line x1="227.90" x2="229.30" y1="86.16" y2="86.16" stroke="#fff" stroke-width="0.5"/>
<line x1="234.70" x2="236.10" y1="86.16" y2="86.16" stroke="#fff" stroke-width="0.5"/>
<text x="236.70" y="88.56" class="lg">50</text>
<line x1="227.90" x2="229.30" y1="93.98" y2="93.98" stroke="#fff" stroke-width="0.5"/>
<line x1="234.70" x2="236.10" y1="93.98" y2="93.98" stroke="#fff" stroke-width="0.5"/>
<text x="236.70" y="96.38" class="lg">0</text>
<line x1="227.90" x2="229.30" y1="101.80" y2="101.80" stroke="#fff" stroke-width="0.5"/>
<line x1="234.70" x2="236.10" y1="101.80" y2="101.80" stroke="#fff" stroke-width="0.5"/>
<text x="236.70" y="104.20" class="lg">−50</text>
<defs><linearGradient id="g450" x1="0" y1="1" x2="0" y2="0">
<stop offset="0.275" stop-color="#0000ff"/>
<stop offset="0.388" stop-color="#5a5aff"/>
<stop offset="0.501" stop-color="#c8c8ff"/>
<stop offset="0.592" stop-color="#ffffff"/>
<stop offset="0.660" stop-color="#ffeaea"/>
<stop offset="0.774" stop-color="#ff8080"/>
<stop offset="0.910" stop-color="#ff0000"/>
</linearGradient></defs>
<rect x="450.90" y="66.90" width="8.2" height="35.50" fill="url(#g450)"/>
<line x1="450.90" x2="452.30" y1="68.50" y2="68.50" stroke="#fff" stroke-width="0.5"/>
<line x1="457.70" x2="459.10" y1="68.50" y2="68.50" stroke="#fff" stroke-width="0.5"/>
<text x="459.70" y="70.90" class="lg">150</text>
<line x1="450.90" x2="452.30" y1="76.55" y2="76.55" stroke="#fff" stroke-width="0.5"/>
<line x1="457.70" x2="459.10" y1="76.55" y2="76.55" stroke="#fff" stroke-width="0.5"/>
<text x="459.70" y="78.95" class="lg">100</text>
<line x1="450.90" x2="452.30" y1="84.60" y2="84.60" stroke="#fff" stroke-width="0.5"/>
<line x1="457.70" x2="459.10" y1="84.60" y2="84.60" stroke="#fff" stroke-width="0.5"/>
<text x="459.70" y="87.00" class="lg">50</text>
<line x1="450.90" x2="452.30" y1="92.65" y2="92.65" stroke="#fff" stroke-width="0.5"/>
<line x1="457.70" x2="459.10" y1="92.65" y2="92.65" stroke="#fff" stroke-width="0.5"/>
<text x="459.70" y="95.05" class="lg">0</text>
<line x1="450.90" x2="452.30" y1="100.70" y2="100.70" stroke="#fff" stroke-width="0.5"/>
<line x1="457.70" x2="459.10" y1="100.70" y2="100.70" stroke="#fff" stroke-width="0.5"/>
<text x="459.70" y="103.10" class="lg">−50</text>
<text x="466.4" y="18.6" class="pl">C</text>
<defs><clipPath id="c1"><circle cx="539.50" cy="98.00" r="56.20"/></clipPath></defs>
<circle cx="539.50" cy="98.00" r="56.20" fill="#e94b52"/>
<circle cx="595.40" cy="98.70" r="39.10" fill="#5e9acc"/>
<circle cx="595.40" cy="98.70" r="39.10" fill="#56679f" clip-path="url(#c1)"/>
<circle cx="539.50" cy="98.00" r="56.20" fill="none" stroke="#121730" stroke-width="1.1"/>
<circle cx="595.40" cy="98.70" r="39.10" fill="none" stroke="#121730" stroke-width="1.1"/>
<text transform="translate(568.60 37.50) scale(0.9 1)" class="vt" text-anchor="middle">Hepatocyte</text>
<text x="485.20" y="45.80" class="vs">scRNA</text>
<text x="628.20" y="72.00" class="vst">ST</text>
<text transform="translate(523.20 101.50) scale(0.9 1)" class="vn" text-anchor="middle">904</text>
<text transform="translate(574.20 103.60) scale(0.9 1)" class="vn" text-anchor="middle">241</text>
<text transform="translate(613.70 105.00) scale(0.9 1)" class="vn" text-anchor="middle">314</text>
<defs><clipPath id="c2"><circle cx="537.50" cy="235.00" r="56.40"/></clipPath></defs>
<circle cx="537.50" cy="235.00" r="56.40" fill="#e94b52"/>
<circle cx="593.20" cy="234.60" r="33.20" fill="#5e9acc"/>
<circle cx="593.20" cy="234.60" r="33.20" fill="#56679f" clip-path="url(#c2)"/>
<circle cx="537.50" cy="235.00" r="56.40" fill="none" stroke="#121730" stroke-width="1.1"/>
<circle cx="593.20" cy="234.60" r="33.20" fill="none" stroke="#121730" stroke-width="1.1"/>
<text transform="translate(569.50 174.50) scale(0.9 1)" class="vt" text-anchor="middle">Endothelial</text>
<text x="483.00" y="181.20" class="vs">scRNA</text>
<text x="621.20" y="211.60" class="vst">ST</text>
<text transform="translate(526.30 237.50) scale(0.9 1)" class="vn" text-anchor="middle">1892</text>
<text transform="translate(576.30 241.30) scale(0.9 1)" class="vn" text-anchor="middle">334</text>
<text transform="translate(606.90 242.60) scale(0.9 1)" class="vn" text-anchor="middle">425</text>
<defs>
<clipPath id="dclip"><rect x="0" y="305" width="341" height="315"/></clipPath>
<clipPath id="dtis"><polygon points="32.0,331.0 37.0,328.0 60.0,327.5 92.0,329.0 100.0,331.5 124.0,333.6 141.0,337.0 158.0,349.0 169.5,359.0 178.0,367.5 185.0,383.0 187.5,400.0 186.0,410.0 183.0,431.0 180.0,457.0 174.0,472.0 163.0,490.0 154.0,500.0 148.0,512.0 146.0,527.0 136.0,542.0 124.0,556.5 46.0,556.5 42.5,536.0 40.6,517.0 45.0,514.0 45.0,499.0 44.0,487.0 40.0,475.0 35.0,462.0 36.0,455.0 50.0,452.0 66.0,451.0 70.5,447.0 68.5,440.6 64.0,433.0 59.0,425.0 48.0,418.0 41.0,409.0 35.5,400.0 33.0,388.0"/><polygon points="194.0,357.5 216.0,352.0 242.0,351.5 262.6,351.7 270.3,353.5 279.3,364.8 290.6,378.4 299.7,389.7 306.4,403.2 309.8,410.0 308.7,425.8 299.7,434.8 290.6,439.3 288.4,446.0 291.8,455.0 287.0,466.0 280.0,478.0 273.0,500.0 266.0,520.0 259.5,534.0 248.5,550.4 232.0,554.6 212.0,552.0 191.0,548.5 182.4,547.0 170.8,539.7 160.7,531.0 155.0,522.0 158.0,513.6 166.5,499.0 174.0,484.5 184.0,470.0 186.0,458.0 190.3,431.6 193.0,405.8 191.6,380.0"/></clipPath>
<filter id="mot" x="0" y="0" width="100%" height="100%"><feTurbulence type="fractalNoise" baseFrequency="0.045" numOctaves="3" seed="4"/><feColorMatrix type="matrix" values="0 0 0 0 0.45  0 0 0 0 0.15  0 0 0 0 0.45  1.8 0 0 0 -0.8"/></filter>
<filter id="mot2" x="0" y="0" width="100%" height="100%"><feTurbulence type="fractalNoise" baseFrequency="0.06" numOctaves="2" seed="11"/><feColorMatrix type="matrix" values="0 0 0 0 0.80  0 0 0 0 0.42  0 0 0 0 0.76  1.5 0 0 0 -0.85"/></filter>
</defs>
<g clip-path="url(#dclip)">
<polygon points="32.0,331.0 37.0,328.0 60.0,327.5 92.0,329.0 100.0,331.5 124.0,333.6 141.0,337.0 158.0,349.0 169.5,359.0 178.0,367.5 185.0,383.0 187.5,400.0 186.0,410.0 183.0,431.0 180.0,457.0 174.0,472.0 163.0,490.0 154.0,500.0 148.0,512.0 146.0,527.0 136.0,542.0 124.0,556.5 46.0,556.5 42.5,536.0 40.6,517.0 45.0,514.0 45.0,499.0 44.0,487.0 40.0,475.0 35.0,462.0 36.0,455.0 50.0,452.0 66.0,451.0 70.5,447.0 68.5,440.6 64.0,433.0 59.0,425.0 48.0,418.0 41.0,409.0 35.5,400.0 33.0,388.0" fill="#f1edf1" stroke="#f1edf1" stroke-width="14" stroke-linejoin="round"/>
<polygon points="194.0,357.5 216.0,352.0 242.0,351.5 262.6,351.7 270.3,353.5 279.3,364.8 290.6,378.4 299.7,389.7 306.4,403.2 309.8,410.0 308.7,425.8 299.7,434.8 290.6,439.3 288.4,446.0 291.8,455.0 287.0,466.0 280.0,478.0 273.0,500.0 266.0,520.0 259.5,534.0 248.5,550.4 232.0,554.6 212.0,552.0 191.0,548.5 182.4,547.0 170.8,539.7 160.7,531.0 155.0,522.0 158.0,513.6 166.5,499.0 174.0,484.5 184.0,470.0 186.0,458.0 190.3,431.6 193.0,405.8 191.6,380.0" fill="#f1edf1" stroke="#f1edf1" stroke-width="8" stroke-linejoin="round"/>
<g clip-path="url(#dtis)">
<rect x="25" y="320" width="295" height="245" fill="#a24c98"/>
<rect x="25" y="320" width="295" height="245" filter="url(#mot)"/>
<rect x="25" y="320" width="295" height="245" filter="url(#mot2)"/>
</g>
<polyline points="144,417 160,414 184,416" fill="none" stroke="#f4eef4" stroke-width="3"/>
<polyline points="132,440 152,427 168,418" fill="none" stroke="#f4eef4" stroke-width="2.6"/>
<polyline points="150,445 165,432 172,440 176,458" fill="none" stroke="#f4eef4" stroke-width="2.2"/>
<polyline points="168,420 176,436 178,452" fill="none" stroke="#f4eef4" stroke-width="1.8"/>
<polyline points="265,432 276,428 288,440" fill="none" stroke="#f4eef4" stroke-width="1.8"/>
<polyline points="240,470 262,452 282,436" fill="none" stroke="#f4eef4" stroke-width="1.4"/>
<path d="M91.0 327.0h0M98.6 327.0h0M106.2 327.0h0M113.8 327.0h0M121.4 327.0h0M129.0 327.0h0M136.6 327.0h0M34.0 333.6h0M41.6 333.6h0M49.2 333.6h0M56.8 333.6h0M64.4 333.6h0M72.0 333.6h0M79.6 333.6h0M87.2 333.6h0M94.8 333.6h0M102.4 333.6h0M110.0 333.6h0M117.6 333.6h0M125.2 333.6h0M132.8 333.6h0M30.2 340.3h0M37.8 340.3h0M45.4 340.3h0M53.0 340.3h0M60.6 340.3h0M68.2 340.3h0M75.8 340.3h0M83.4 340.3h0M91.0 340.3h0M98.6 340.3h0M106.2 340.3h0M113.8 340.3h0M129.0 340.3h0M136.6 340.3h0M144.2 340.3h0M34.0 346.9h0M41.6 346.9h0M49.2 346.9h0M56.8 346.9h0M64.4 346.9h0M72.0 346.9h0M79.6 346.9h0M87.2 346.9h0M94.8 346.9h0M102.4 346.9h0M110.0 346.9h0M125.2 346.9h0M132.8 346.9h0M140.4 346.9h0M148.0 346.9h0M155.6 346.9h0M30.2 353.6h0M37.8 353.6h0M45.4 353.6h0M53.0 353.6h0M60.6 353.6h0M68.2 353.6h0M75.8 353.6h0M83.4 353.6h0M91.0 353.6h0M98.6 353.6h0M106.2 353.6h0M136.6 353.6h0M144.2 353.6h0M151.8 353.6h0M159.4 353.6h0M167.0 353.6h0M34.0 360.2h0M41.6 360.2h0M49.2 360.2h0M56.8 360.2h0M64.4 360.2h0M72.0 360.2h0M79.6 360.2h0M87.2 360.2h0M94.8 360.2h0M102.4 360.2h0M132.8 360.2h0M140.4 360.2h0M155.6 360.2h0M163.2 360.2h0M170.8 360.2h0M30.2 366.9h0M37.8 366.9h0M45.4 366.9h0M53.0 366.9h0M60.6 366.9h0M75.8 366.9h0M83.4 366.9h0M98.6 366.9h0M106.2 366.9h0M113.8 366.9h0M129.0 366.9h0M136.6 366.9h0M151.8 366.9h0M159.4 366.9h0M167.0 366.9h0M174.6 366.9h0M34.0 373.5h0M41.6 373.5h0M56.8 373.5h0M64.4 373.5h0M72.0 373.5h0M79.6 373.5h0M87.2 373.5h0M94.8 373.5h0M110.0 373.5h0M117.6 373.5h0M125.2 373.5h0M140.4 373.5h0M148.0 373.5h0M155.6 373.5h0M163.2 373.5h0M170.8 373.5h0M178.4 373.5h0M37.8 380.2h0M45.4 380.2h0M53.0 380.2h0M60.6 380.2h0M68.2 380.2h0M75.8 380.2h0M83.4 380.2h0M91.0 380.2h0M98.6 380.2h0M106.2 380.2h0M113.8 380.2h0M121.4 380.2h0M129.0 380.2h0M144.2 380.2h0M151.8 380.2h0M159.4 380.2h0M167.0 380.2h0M174.6 380.2h0M182.2 380.2h0M34.0 386.8h0M41.6 386.8h0M56.8 386.8h0M72.0 386.8h0M79.6 386.8h0M87.2 386.8h0M94.8 386.8h0M102.4 386.8h0M110.0 386.8h0M117.6 386.8h0M125.2 386.8h0M132.8 386.8h0M140.4 386.8h0M148.0 386.8h0M155.6 386.8h0M163.2 386.8h0M170.8 386.8h0M178.4 386.8h0M186.0 386.8h0M37.8 393.4h0M45.4 393.4h0M53.0 393.4h0M60.6 393.4h0M68.2 393.4h0M75.8 393.4h0M83.4 393.4h0M91.0 393.4h0M98.6 393.4h0M106.2 393.4h0M113.8 393.4h0M121.4 393.4h0M129.0 393.4h0M136.6 393.4h0M144.2 393.4h0M151.8 393.4h0M167.0 393.4h0M182.2 393.4h0M34.0 400.1h0M41.6 400.1h0M49.2 400.1h0M56.8 400.1h0M64.4 400.1h0M72.0 400.1h0M79.6 400.1h0M87.2 400.1h0M94.8 400.1h0M102.4 400.1h0M110.0 400.1h0M125.2 400.1h0M140.4 400.1h0M148.0 400.1h0M155.6 400.1h0M163.2 400.1h0M170.8 400.1h0M178.4 400.1h0M186.0 400.1h0M37.8 406.7h0M45.4 406.7h0M53.0 406.7h0M60.6 406.7h0M68.2 406.7h0M75.8 406.7h0M83.4 406.7h0M98.6 406.7h0M106.2 406.7h0M113.8 406.7h0M121.4 406.7h0M129.0 406.7h0M136.6 406.7h0M144.2 406.7h0M151.8 406.7h0M159.4 406.7h0M167.0 406.7h0M174.6 406.7h0M182.2 406.7h0M41.6 413.4h0M49.2 413.4h0M56.8 413.4h0M64.4 413.4h0M72.0 413.4h0M79.6 413.4h0M87.2 413.4h0M94.8 413.4h0M102.4 413.4h0M110.0 413.4h0M117.6 413.4h0M125.2 413.4h0M132.8 413.4h0M140.4 413.4h0M148.0 413.4h0M155.6 413.4h0M163.2 413.4h0M170.8 413.4h0M186.0 413.4h0M53.0 420.0h0M60.6 420.0h0M68.2 420.0h0M75.8 420.0h0M83.4 420.0h0M91.0 420.0h0M98.6 420.0h0M113.8 420.0h0M121.4 420.0h0M129.0 420.0h0M136.6 420.0h0M144.2 420.0h0M151.8 420.0h0M159.4 420.0h0M167.0 420.0h0M182.2 420.0h0M64.4 426.7h0M79.6 426.7h0M87.2 426.7h0M94.8 426.7h0M110.0 426.7h0M117.6 426.7h0M125.2 426.7h0M132.8 426.7h0M148.0 426.7h0M155.6 426.7h0M163.2 426.7h0M170.8 426.7h0M178.4 426.7h0M186.0 426.7h0M68.2 433.3h0M83.4 433.3h0M91.0 433.3h0M98.6 433.3h0M113.8 433.3h0M121.4 433.3h0M129.0 433.3h0M136.6 433.3h0M151.8 433.3h0M159.4 433.3h0M174.6 433.3h0M182.2 433.3h0M72.0 440.0h0M79.6 440.0h0M87.2 440.0h0M94.8 440.0h0M102.4 440.0h0M110.0 440.0h0M117.6 440.0h0M125.2 440.0h0M132.8 440.0h0M155.6 440.0h0M163.2 440.0h0M170.8 440.0h0M178.4 440.0h0M68.2 446.6h0M75.8 446.6h0M83.4 446.6h0M91.0 446.6h0M98.6 446.6h0M106.2 446.6h0M113.8 446.6h0M121.4 446.6h0M144.2 446.6h0M151.8 446.6h0M159.4 446.6h0M167.0 446.6h0M174.6 446.6h0M182.2 446.6h0M41.6 453.3h0M49.2 453.3h0M56.8 453.3h0M64.4 453.3h0M72.0 453.3h0M79.6 453.3h0M87.2 453.3h0M94.8 453.3h0M102.4 453.3h0M110.0 453.3h0M117.6 453.3h0M125.2 453.3h0M132.8 453.3h0M140.4 453.3h0M148.0 453.3h0M155.6 453.3h0M163.2 453.3h0M170.8 453.3h0M178.4 453.3h0M37.8 459.9h0M45.4 459.9h0M53.0 459.9h0M60.6 459.9h0M68.2 459.9h0M75.8 459.9h0M83.4 459.9h0M91.0 459.9h0M98.6 459.9h0M106.2 459.9h0M113.8 459.9h0M121.4 459.9h0M129.0 459.9h0M136.6 459.9h0M144.2 459.9h0M151.8 459.9h0M167.0 459.9h0M174.6 459.9h0M41.6 466.5h0M49.2 466.5h0M56.8 466.5h0M64.4 466.5h0M72.0 466.5h0M79.6 466.5h0M87.2 466.5h0M94.8 466.5h0M102.4 466.5h0M117.6 466.5h0M125.2 466.5h0M132.8 466.5h0M140.4 466.5h0M148.0 466.5h0M155.6 466.5h0M163.2 466.5h0M170.8 466.5h0M178.4 466.5h0M37.8 473.2h0M45.4 473.2h0M53.0 473.2h0M60.6 473.2h0M68.2 473.2h0M75.8 473.2h0M91.0 473.2h0M98.6 473.2h0M106.2 473.2h0M113.8 473.2h0M121.4 473.2h0M129.0 473.2h0M136.6 473.2h0M144.2 473.2h0M151.8 473.2h0M159.4 473.2h0M167.0 473.2h0M174.6 473.2h0M41.6 479.8h0M49.2 479.8h0M56.8 479.8h0M64.4 479.8h0M72.0 479.8h0M79.6 479.8h0M87.2 479.8h0M94.8 479.8h0M102.4 479.8h0M110.0 479.8h0M117.6 479.8h0M125.2 479.8h0M132.8 479.8h0M140.4 479.8h0M148.0 479.8h0M155.6 479.8h0M163.2 479.8h0M170.8 479.8h0M45.4 486.5h0M53.0 486.5h0M60.6 486.5h0M68.2 486.5h0M83.4 486.5h0M91.0 486.5h0M98.6 486.5h0M113.8 486.5h0M121.4 486.5h0M136.6 486.5h0M144.2 486.5h0M151.8 486.5h0M159.4 486.5h0M167.0 486.5h0M49.2 493.1h0M56.8 493.1h0M72.0 493.1h0M79.6 493.1h0M94.8 493.1h0M102.4 493.1h0M110.0 493.1h0M117.6 493.1h0M125.2 493.1h0M132.8 493.1h0M140.4 493.1h0M148.0 493.1h0M155.6 493.1h0M163.2 493.1h0M45.4 499.8h0M53.0 499.8h0M60.6 499.8h0M68.2 499.8h0M75.8 499.8h0M83.4 499.8h0M91.0 499.8h0M98.6 499.8h0M106.2 499.8h0M113.8 499.8h0M121.4 499.8h0M129.0 499.8h0M136.6 499.8h0M144.2 499.8h0M151.8 499.8h0M49.2 506.4h0M56.8 506.4h0M64.4 506.4h0M72.0 506.4h0M79.6 506.4h0M87.2 506.4h0M94.8 506.4h0M102.4 506.4h0M110.0 506.4h0M117.6 506.4h0M125.2 506.4h0M132.8 506.4h0M140.4 506.4h0M148.0 506.4h0M45.4 513.1h0M53.0 513.1h0M60.6 513.1h0M68.2 513.1h0M75.8 513.1h0M83.4 513.1h0M91.0 513.1h0M98.6 513.1h0M106.2 513.1h0M113.8 513.1h0M121.4 513.1h0M129.0 513.1h0M136.6 513.1h0M144.2 513.1h0M41.6 519.7h0M49.2 519.7h0M56.8 519.7h0M64.4 519.7h0M72.0 519.7h0M79.6 519.7h0M87.2 519.7h0M94.8 519.7h0M102.4 519.7h0M110.0 519.7h0M117.6 519.7h0M125.2 519.7h0M132.8 519.7h0M140.4 519.7h0M148.0 519.7h0M45.4 526.4h0M53.0 526.4h0M60.6 526.4h0M68.2 526.4h0M75.8 526.4h0M83.4 526.4h0M91.0 526.4h0M98.6 526.4h0M106.2 526.4h0M113.8 526.4h0M121.4 526.4h0M129.0 526.4h0M136.6 526.4h0M144.2 526.4h0M41.6 533.0h0M49.2 533.0h0M56.8 533.0h0M64.4 533.0h0M72.0 533.0h0M79.6 533.0h0M87.2 533.0h0M94.8 533.0h0M102.4 533.0h0M110.0 533.0h0M117.6 533.0h0M125.2 533.0h0M140.4 533.0h0M45.4 539.6h0M53.0 539.6h0M60.6 539.6h0M68.2 539.6h0M75.8 539.6h0M83.4 539.6h0M98.6 539.6h0M106.2 539.6h0M113.8 539.6h0M121.4 539.6h0M129.0 539.6h0M136.6 539.6h0M49.2 546.3h0M56.8 546.3h0M64.4 546.3h0M72.0 546.3h0M79.6 546.3h0M87.2 546.3h0M94.8 546.3h0M102.4 546.3h0M110.0 546.3h0M117.6 546.3h0M125.2 546.3h0M132.8 546.3h0M45.4 552.9h0M53.0 552.9h0M60.6 552.9h0M68.2 552.9h0M75.8 552.9h0M83.4 552.9h0M91.0 552.9h0M98.6 552.9h0M106.2 552.9h0M113.8 552.9h0M121.4 552.9h0M129.0 552.9h0M38.0 473.3h0M36.6 457.6h0M118.0 565.0h0M164.0 346.0h0" stroke="#2e1226" stroke-width="5.1" stroke-linecap="round" fill="none" opacity="0.9"/>
<path d="M156.7 517.5h0M156.7 524.3h0M162.6 507.3h0M162.6 514.1h0M162.6 527.8h0M162.6 534.6h0M168.5 497.1h0M168.5 503.9h0M168.5 510.7h0M168.5 517.5h0M168.5 524.3h0M168.5 531.1h0M168.5 538.0h0M174.4 486.9h0M174.4 493.7h0M174.4 500.5h0M174.4 507.3h0M174.4 514.1h0M174.4 520.9h0M174.4 527.8h0M174.4 534.6h0M174.4 541.4h0M180.2 476.7h0M180.2 483.5h0M180.2 490.3h0M180.2 497.1h0M180.2 510.7h0M180.2 517.5h0M180.2 524.3h0M180.2 531.1h0M180.2 544.8h0M186.1 452.8h0M186.1 459.6h0M186.1 466.5h0M186.1 473.3h0M186.1 480.1h0M186.1 486.9h0M186.1 493.7h0M186.1 500.5h0M186.1 507.3h0M186.1 514.1h0M186.1 520.9h0M186.1 527.8h0M186.1 534.6h0M186.1 541.4h0M186.1 548.2h0M192.0 374.5h0M192.0 381.3h0M192.0 388.1h0M192.0 394.9h0M192.0 401.8h0M192.0 408.6h0M192.0 415.4h0M192.0 422.2h0M192.0 429.0h0M192.0 435.8h0M192.0 442.6h0M192.0 449.4h0M192.0 456.2h0M192.0 463.0h0M192.0 469.9h0M192.0 476.7h0M192.0 483.5h0M192.0 490.3h0M192.0 497.1h0M192.0 503.9h0M192.0 510.7h0M192.0 517.5h0M192.0 524.3h0M192.0 538.0h0M192.0 544.8h0M197.9 357.5h0M197.9 364.3h0M197.9 371.1h0M197.9 377.9h0M197.9 384.7h0M197.9 391.6h0M197.9 398.4h0M197.9 405.2h0M197.9 412.0h0M197.9 418.8h0M197.9 425.6h0M197.9 432.4h0M197.9 439.2h0M197.9 446.0h0M197.9 452.8h0M197.9 459.6h0M197.9 466.5h0M197.9 473.3h0M197.9 480.1h0M197.9 486.9h0M197.9 493.7h0M197.9 500.5h0M197.9 507.3h0M197.9 520.9h0M197.9 527.8h0M197.9 534.6h0M197.9 541.4h0M197.9 548.2h0M203.8 360.9h0M203.8 374.5h0M203.8 381.3h0M203.8 388.1h0M203.8 401.8h0M203.8 408.6h0M203.8 415.4h0M203.8 435.8h0M203.8 442.6h0M203.8 456.2h0M203.8 463.0h0M203.8 469.9h0M203.8 476.7h0M203.8 483.5h0M203.8 490.3h0M203.8 497.1h0M203.8 503.9h0M203.8 510.7h0M203.8 517.5h0M203.8 524.3h0M203.8 531.1h0M203.8 538.0h0M203.8 544.8h0M203.8 551.6h0M209.6 357.5h0M209.6 364.3h0M209.6 371.1h0M209.6 377.9h0M209.6 384.7h0M209.6 391.6h0M209.6 398.4h0M209.6 405.2h0M209.6 412.0h0M209.6 418.8h0M209.6 425.6h0M209.6 439.2h0M209.6 446.0h0M209.6 452.8h0M209.6 459.6h0M209.6 466.5h0M209.6 473.3h0M209.6 480.1h0M209.6 486.9h0M209.6 493.7h0M209.6 500.5h0M209.6 507.3h0M209.6 514.1h0M209.6 520.9h0M209.6 527.8h0M209.6 534.6h0M209.6 541.4h0M209.6 548.2h0M215.5 354.1h0M215.5 360.9h0M215.5 367.7h0M215.5 374.5h0M215.5 381.3h0M215.5 394.9h0M215.5 401.8h0M215.5 408.6h0M215.5 415.4h0M215.5 422.2h0M215.5 429.0h0M215.5 442.6h0M215.5 449.4h0M215.5 456.2h0M215.5 463.0h0M215.5 469.9h0M215.5 476.7h0M215.5 483.5h0M215.5 490.3h0M215.5 497.1h0M215.5 503.9h0M215.5 510.7h0M215.5 517.5h0M215.5 524.3h0M215.5 531.1h0M215.5 538.0h0M215.5 544.8h0M215.5 551.6h0M221.4 357.5h0M221.4 364.3h0M221.4 371.1h0M221.4 377.9h0M221.4 384.7h0M221.4 391.6h0M221.4 398.4h0M221.4 405.2h0M221.4 412.0h0M221.4 418.8h0M221.4 425.6h0M221.4 432.4h0M221.4 439.2h0M221.4 446.0h0M221.4 452.8h0M221.4 459.6h0M221.4 466.5h0M221.4 473.3h0M221.4 480.1h0M221.4 486.9h0M221.4 493.7h0M221.4 500.5h0M221.4 507.3h0M221.4 514.1h0M221.4 520.9h0M221.4 527.8h0M221.4 534.6h0M221.4 541.4h0M221.4 548.2h0M227.3 354.1h0M227.3 360.9h0M227.3 367.7h0M227.3 374.5h0M227.3 381.3h0M227.3 388.1h0M227.3 394.9h0M227.3 401.8h0M227.3 408.6h0M227.3 422.2h0M227.3 429.0h0M227.3 435.8h0M227.3 442.6h0M227.3 449.4h0M227.3 456.2h0M227.3 463.0h0M227.3 469.9h0M227.3 476.7h0M227.3 497.1h0M227.3 503.9h0M227.3 510.7h0M227.3 517.5h0M227.3 524.3h0M227.3 531.1h0M227.3 538.0h0M227.3 544.8h0M227.3 551.6h0M233.2 357.5h0M233.2 364.3h0M233.2 371.1h0M233.2 377.9h0M233.2 384.7h0M233.2 391.6h0M233.2 398.4h0M233.2 405.2h0M233.2 412.0h0M233.2 418.8h0M233.2 432.4h0M233.2 439.2h0M233.2 446.0h0M233.2 452.8h0M233.2 459.6h0M233.2 466.5h0M233.2 473.3h0M233.2 480.1h0M233.2 486.9h0M233.2 493.7h0M233.2 507.3h0M233.2 514.1h0M233.2 520.9h0M233.2 527.8h0M233.2 534.6h0M233.2 541.4h0M233.2 548.2h0M233.2 555.0h0M239.0 354.1h0M239.0 360.9h0M239.0 367.7h0M239.0 374.5h0M239.0 381.3h0M239.0 388.1h0M239.0 394.9h0M239.0 408.6h0M239.0 415.4h0M239.0 422.2h0M239.0 429.0h0M239.0 435.8h0M239.0 442.6h0M239.0 449.4h0M239.0 456.2h0M239.0 463.0h0M239.0 469.9h0M239.0 476.7h0M239.0 483.5h0M239.0 497.1h0M239.0 503.9h0M239.0 510.7h0M239.0 517.5h0M239.0 524.3h0M239.0 531.1h0M239.0 538.0h0M239.0 544.8h0M239.0 551.6h0M244.9 364.3h0M244.9 371.1h0M244.9 384.7h0M244.9 391.6h0M244.9 398.4h0M244.9 412.0h0M244.9 418.8h0M244.9 432.4h0M244.9 439.2h0M244.9 446.0h0M244.9 459.6h0M244.9 466.5h0M244.9 473.3h0M244.9 480.1h0M244.9 486.9h0M244.9 493.7h0M244.9 500.5h0M244.9 507.3h0M244.9 514.1h0M244.9 527.8h0M244.9 534.6h0M244.9 541.4h0M244.9 548.2h0M250.8 354.1h0M250.8 367.7h0M250.8 374.5h0M250.8 381.3h0M250.8 388.1h0M250.8 394.9h0M250.8 401.8h0M250.8 408.6h0M250.8 415.4h0M250.8 429.0h0M250.8 435.8h0M250.8 442.6h0M250.8 449.4h0M250.8 456.2h0M250.8 463.0h0M250.8 469.9h0M250.8 476.7h0M250.8 483.5h0M250.8 490.3h0M250.8 497.1h0M250.8 503.9h0M250.8 510.7h0M250.8 517.5h0M250.8 524.3h0M250.8 531.1h0M250.8 538.0h0M250.8 544.8h0M256.7 357.5h0M256.7 364.3h0M256.7 371.1h0M256.7 377.9h0M256.7 384.7h0M256.7 391.6h0M256.7 398.4h0M256.7 412.0h0M256.7 418.8h0M256.7 425.6h0M256.7 432.4h0M256.7 439.2h0M256.7 446.0h0M256.7 452.8h0M256.7 459.6h0M256.7 466.5h0M256.7 473.3h0M256.7 480.1h0M256.7 486.9h0M256.7 493.7h0M256.7 500.5h0M256.7 520.9h0M256.7 527.8h0M256.7 534.6h0M262.6 354.1h0M262.6 360.9h0M262.6 367.7h0M262.6 374.5h0M262.6 388.1h0M262.6 408.6h0M262.6 415.4h0M262.6 422.2h0M262.6 429.0h0M262.6 442.6h0M262.6 449.4h0M262.6 456.2h0M262.6 463.0h0M262.6 469.9h0M262.6 476.7h0M262.6 490.3h0M262.6 497.1h0M262.6 503.9h0M262.6 510.7h0M262.6 517.5h0M262.6 524.3h0M268.4 357.5h0M268.4 364.3h0M268.4 371.1h0M268.4 377.9h0M268.4 391.6h0M268.4 398.4h0M268.4 405.2h0M268.4 412.0h0M268.4 425.6h0M268.4 439.2h0M268.4 446.0h0M268.4 452.8h0M268.4 459.6h0M268.4 466.5h0M268.4 473.3h0M268.4 480.1h0M268.4 486.9h0M268.4 493.7h0M268.4 500.5h0M268.4 507.3h0M268.4 514.1h0M274.3 360.9h0M274.3 367.7h0M274.3 374.5h0M274.3 381.3h0M274.3 388.1h0M274.3 394.9h0M274.3 408.6h0M274.3 415.4h0M274.3 422.2h0M274.3 429.0h0M274.3 435.8h0M274.3 442.6h0M274.3 449.4h0M274.3 456.2h0M274.3 463.0h0M274.3 469.9h0M274.3 483.5h0M274.3 490.3h0M274.3 497.1h0M280.2 371.1h0M280.2 377.9h0M280.2 384.7h0M280.2 391.6h0M280.2 398.4h0M280.2 405.2h0M280.2 412.0h0M280.2 432.4h0M280.2 439.2h0M280.2 446.0h0M280.2 452.8h0M280.2 459.6h0M280.2 466.5h0M280.2 473.3h0M280.2 480.1h0M286.1 374.5h0M286.1 381.3h0M286.1 388.1h0M286.1 401.8h0M286.1 408.6h0M286.1 415.4h0M286.1 422.2h0M286.1 429.0h0M286.1 442.6h0M286.1 449.4h0M286.1 456.2h0M286.1 463.0h0M286.1 469.9h0M292.0 377.9h0M292.0 384.7h0M292.0 391.6h0M292.0 398.4h0M292.0 405.2h0M292.0 412.0h0M292.0 418.8h0M292.0 432.4h0M292.0 439.2h0M292.0 452.8h0M297.8 388.1h0M297.8 394.9h0M297.8 408.6h0M297.8 422.2h0M297.8 429.0h0M297.8 435.8h0M303.7 398.4h0M303.7 405.2h0M303.7 418.8h0M303.7 425.6h0M303.7 432.4h0M309.6 408.6h0M309.6 415.4h0M309.6 422.2h0" stroke="#2e1226" stroke-width="4.5" stroke-linecap="round" fill="none" opacity="0.9"/>
<path d="M56.8 333.6h0M64.4 333.6h0M72.0 333.6h0M87.2 333.6h0M30.2 340.3h0M37.8 340.3h0M45.4 340.3h0M75.8 340.3h0M83.4 340.3h0M106.2 340.3h0M41.6 346.9h0M79.6 346.9h0M155.6 346.9h0M37.8 353.6h0M53.0 353.6h0M106.2 353.6h0M144.2 353.6h0M49.2 360.2h0M87.2 360.2h0M94.8 360.2h0M102.4 360.2h0M132.8 360.2h0M163.2 360.2h0M45.4 366.9h0M53.0 366.9h0M60.6 366.9h0M41.6 373.5h0M56.8 373.5h0M87.2 373.5h0M94.8 373.5h0M155.6 373.5h0M45.4 380.2h0M53.0 380.2h0M91.0 380.2h0M151.8 380.2h0M56.8 386.8h0M72.0 386.8h0M87.2 386.8h0M102.4 386.8h0M53.0 393.4h0M60.6 393.4h0M68.2 393.4h0M83.4 393.4h0M106.2 393.4h0M129.0 393.4h0M144.2 393.4h0M41.6 400.1h0M56.8 400.1h0M64.4 400.1h0M94.8 400.1h0M110.0 400.1h0M148.0 400.1h0M155.6 400.1h0M45.4 406.7h0M53.0 406.7h0M98.6 406.7h0M121.4 406.7h0M182.2 406.7h0M49.2 413.4h0M64.4 413.4h0M94.8 413.4h0M132.8 413.4h0M155.6 413.4h0M163.2 413.4h0M170.8 413.4h0M91.0 420.0h0M129.0 420.0h0M125.2 426.7h0M98.6 433.3h0M94.8 440.0h0M163.2 440.0h0M68.2 446.6h0M72.0 453.3h0M94.8 453.3h0M102.4 453.3h0M148.0 453.3h0M45.4 459.9h0M53.0 459.9h0M106.2 459.9h0M151.8 459.9h0M41.6 466.5h0M72.0 466.5h0M132.8 466.5h0M148.0 466.5h0M178.4 466.5h0M113.8 473.2h0M49.2 479.8h0M87.2 479.8h0M132.8 479.8h0M155.6 479.8h0M91.0 486.5h0M121.4 486.5h0M125.2 493.1h0M68.2 499.8h0M98.6 499.8h0M72.0 506.4h0M132.8 506.4h0M140.4 506.4h0M98.6 513.1h0M121.4 513.1h0M49.2 519.7h0M72.0 519.7h0M132.8 519.7h0M60.6 526.4h0M75.8 526.4h0M91.0 526.4h0M106.2 526.4h0M144.2 526.4h0M102.4 533.0h0M117.6 533.0h0M129.0 539.6h0M56.8 546.3h0M64.4 546.3h0M79.6 546.3h0M94.8 546.3h0M68.2 552.9h0M38.0 473.3h0" stroke="#F8766D" stroke-width="3.5" stroke-linecap="round" fill="none"/>
<path d="M162.6 514.1h0M168.5 524.3h0M174.4 500.5h0M174.4 507.3h0M174.4 527.8h0M174.4 534.6h0M180.2 497.1h0M180.2 524.3h0M180.2 544.8h0M186.1 459.6h0M186.1 493.7h0M186.1 500.5h0M186.1 507.3h0M186.1 520.9h0M186.1 527.8h0M192.0 401.8h0M192.0 429.0h0M192.0 442.6h0M192.0 456.2h0M192.0 476.7h0M192.0 483.5h0M192.0 497.1h0M192.0 517.5h0M192.0 524.3h0M197.9 398.4h0M197.9 473.3h0M197.9 493.7h0M197.9 507.3h0M197.9 534.6h0M197.9 541.4h0M203.8 381.3h0M203.8 388.1h0M203.8 456.2h0M203.8 463.0h0M203.8 483.5h0M203.8 497.1h0M203.8 524.3h0M203.8 538.0h0M209.6 391.6h0M209.6 398.4h0M209.6 439.2h0M209.6 446.0h0M209.6 486.9h0M209.6 527.8h0M209.6 534.6h0M209.6 548.2h0M215.5 354.1h0M215.5 394.9h0M215.5 422.2h0M215.5 490.3h0M215.5 544.8h0M221.4 391.6h0M221.4 412.0h0M221.4 446.0h0M221.4 452.8h0M221.4 459.6h0M221.4 466.5h0M221.4 473.3h0M221.4 480.1h0M221.4 493.7h0M221.4 500.5h0M221.4 514.1h0M221.4 520.9h0M221.4 527.8h0M221.4 548.2h0M227.3 456.2h0M227.3 469.9h0M227.3 503.9h0M227.3 510.7h0M227.3 517.5h0M227.3 531.1h0M233.2 398.4h0M233.2 446.0h0M233.2 466.5h0M233.2 480.1h0M233.2 548.2h0M239.0 415.4h0M239.0 422.2h0M239.0 483.5h0M239.0 503.9h0M239.0 517.5h0M239.0 551.6h0M244.9 418.8h0M244.9 439.2h0M244.9 446.0h0M244.9 459.6h0M244.9 466.5h0M244.9 486.9h0M244.9 514.1h0M244.9 534.6h0M244.9 541.4h0M250.8 463.0h0M250.8 483.5h0M250.8 503.9h0M250.8 538.0h0M250.8 544.8h0M256.7 446.0h0M256.7 452.8h0M256.7 459.6h0M256.7 466.5h0M256.7 480.1h0M262.6 422.2h0M262.6 490.3h0M262.6 503.9h0M262.6 524.3h0M268.4 452.8h0M268.4 459.6h0M268.4 493.7h0M274.3 408.6h0M274.3 449.4h0M280.2 371.1h0M280.2 459.6h0M280.2 480.1h0M286.1 456.2h0M292.0 398.4h0M297.8 394.9h0" stroke="#F8766D" stroke-width="3.1" stroke-linecap="round" fill="none"/>
<path d="M79.6 333.6h0M68.2 340.3h0M91.0 340.3h0M140.4 346.9h0M91.0 353.6h0M151.8 353.6h0M72.0 360.2h0M155.6 360.2h0M113.8 366.9h0M136.6 366.9h0M163.2 373.5h0M121.4 380.2h0M129.0 380.2h0M144.2 380.2h0M159.4 380.2h0M110.0 386.8h0M113.8 393.4h0M72.0 400.1h0M178.4 400.1h0M186.0 400.1h0M60.6 406.7h0M83.4 406.7h0M174.6 406.7h0M41.6 413.4h0M56.8 413.4h0M79.6 413.4h0M87.2 413.4h0M102.4 413.4h0M117.6 413.4h0M125.2 413.4h0M148.0 413.4h0M83.4 420.0h0M167.0 420.0h0M182.2 420.0h0M132.8 426.7h0M83.4 433.3h0M91.0 433.3h0M151.8 433.3h0M79.6 440.0h0M87.2 440.0h0M125.2 440.0h0M170.8 440.0h0M98.6 446.6h0M113.8 446.6h0M121.4 446.6h0M144.2 446.6h0M151.8 446.6h0M167.0 446.6h0M110.0 453.3h0M125.2 453.3h0M132.8 453.3h0M140.4 453.3h0M163.2 453.3h0M37.8 459.9h0M60.6 459.9h0M91.0 459.9h0M98.6 459.9h0M121.4 459.9h0M129.0 459.9h0M64.4 466.5h0M117.6 466.5h0M163.2 466.5h0M60.6 473.2h0M75.8 473.2h0M98.6 473.2h0M121.4 473.2h0M129.0 473.2h0M144.2 473.2h0M151.8 473.2h0M159.4 473.2h0M56.8 479.8h0M72.0 479.8h0M94.8 479.8h0M117.6 479.8h0M140.4 479.8h0M148.0 479.8h0M163.2 479.8h0M45.4 486.5h0M53.0 486.5h0M68.2 486.5h0M83.4 486.5h0M151.8 486.5h0M56.8 493.1h0M110.0 493.1h0M148.0 493.1h0M53.0 499.8h0M60.6 499.8h0M75.8 499.8h0M91.0 499.8h0M113.8 499.8h0M64.4 506.4h0M87.2 506.4h0M68.2 513.1h0M91.0 513.1h0M106.2 513.1h0M136.6 513.1h0M56.8 519.7h0M79.6 519.7h0M87.2 519.7h0M94.8 519.7h0M102.4 519.7h0M117.6 519.7h0M140.4 519.7h0M83.4 526.4h0M121.4 526.4h0M72.0 533.0h0M87.2 533.0h0M45.4 539.6h0M60.6 539.6h0M83.4 539.6h0M87.2 546.3h0M45.4 552.9h0M91.0 552.9h0M121.4 552.9h0" stroke="#B79F00" stroke-width="3.5" stroke-linecap="round" fill="none"/>
<path d="M156.7 524.3h0M162.6 507.3h0M162.6 527.8h0M180.2 476.7h0M180.2 517.5h0M186.1 473.3h0M192.0 422.2h0M192.0 463.0h0M197.9 364.3h0M197.9 391.6h0M197.9 405.2h0M197.9 418.8h0M197.9 425.6h0M203.8 415.4h0M203.8 435.8h0M203.8 442.6h0M203.8 490.3h0M203.8 544.8h0M209.6 357.5h0M209.6 364.3h0M209.6 371.1h0M209.6 377.9h0M209.6 452.8h0M209.6 466.5h0M209.6 507.3h0M209.6 520.9h0M215.5 360.9h0M215.5 367.7h0M215.5 374.5h0M215.5 415.4h0M215.5 449.4h0M215.5 456.2h0M215.5 476.7h0M215.5 517.5h0M215.5 531.1h0M221.4 371.1h0M221.4 398.4h0M221.4 486.9h0M221.4 541.4h0M227.3 374.5h0M227.3 381.3h0M227.3 394.9h0M227.3 401.8h0M227.3 408.6h0M227.3 422.2h0M227.3 429.0h0M233.2 384.7h0M233.2 391.6h0M233.2 405.2h0M233.2 486.9h0M233.2 520.9h0M233.2 534.6h0M239.0 360.9h0M239.0 381.3h0M239.0 524.3h0M239.0 531.1h0M244.9 412.0h0M244.9 432.4h0M250.8 415.4h0M250.8 435.8h0M250.8 456.2h0M250.8 490.3h0M256.7 371.1h0M256.7 384.7h0M256.7 439.2h0M256.7 500.5h0M262.6 374.5h0M262.6 388.1h0M262.6 442.6h0M262.6 476.7h0M268.4 357.5h0M268.4 425.6h0M268.4 439.2h0M268.4 514.1h0M274.3 497.1h0M280.2 391.6h0M280.2 398.4h0M280.2 412.0h0M280.2 439.2h0M286.1 422.2h0M292.0 432.4h0M292.0 452.8h0M297.8 408.6h0M297.8 435.8h0M309.6 408.6h0M309.6 422.2h0" stroke="#B79F00" stroke-width="3.1" stroke-linecap="round" fill="none"/>
<path d="M91.0 327.0h0M98.6 327.0h0M106.2 327.0h0M113.8 327.0h0M121.4 327.0h0M129.0 327.0h0M136.6 327.0h0M34.0 333.6h0M94.8 333.6h0M102.4 333.6h0M117.6 333.6h0M125.2 333.6h0M144.2 340.3h0M34.0 346.9h0M56.8 346.9h0M94.8 346.9h0M148.0 346.9h0M30.2 353.6h0M68.2 353.6h0M159.4 353.6h0M34.0 360.2h0M37.8 366.9h0M174.6 366.9h0M34.0 373.5h0M117.6 373.5h0M178.4 373.5h0M174.6 380.2h0M34.0 386.8h0M155.6 386.8h0M163.2 386.8h0M186.0 386.8h0M37.8 393.4h0M167.0 393.4h0M182.2 393.4h0M34.0 400.1h0M79.6 400.1h0M125.2 400.1h0M163.2 400.1h0M37.8 406.7h0M113.8 406.7h0M129.0 406.7h0M140.4 413.4h0M186.0 413.4h0M53.0 420.0h0M64.4 426.7h0M94.8 426.7h0M170.8 426.7h0M186.0 426.7h0M68.2 433.3h0M136.6 433.3h0M72.0 440.0h0M132.8 440.0h0M155.6 440.0h0M178.4 440.0h0M182.2 446.6h0M41.6 453.3h0M64.4 453.3h0M79.6 453.3h0M178.4 453.3h0M75.8 459.9h0M136.6 459.9h0M174.6 459.9h0M37.8 473.2h0M174.6 473.2h0M167.0 486.5h0M94.8 493.1h0M117.6 493.1h0M155.6 493.1h0M163.2 493.1h0M45.4 499.8h0M151.8 499.8h0M49.2 506.4h0M94.8 506.4h0M117.6 506.4h0M148.0 506.4h0M144.2 513.1h0M41.6 519.7h0M148.0 519.7h0M45.4 526.4h0M53.0 526.4h0M98.6 526.4h0M136.6 526.4h0M94.8 533.0h0M140.4 533.0h0M98.6 539.6h0M113.8 539.6h0M121.4 539.6h0M136.6 539.6h0M49.2 546.3h0M53.0 552.9h0M75.8 552.9h0M83.4 552.9h0M106.2 552.9h0M113.8 552.9h0M129.0 552.9h0M36.6 457.6h0M118.0 565.0h0M164.0 346.0h0" stroke="#00BA38" stroke-width="3.5" stroke-linecap="round" fill="none"/>
<path d="M162.6 534.6h0M168.5 517.5h0M168.5 531.1h0M168.5 538.0h0M174.4 514.1h0M186.1 452.8h0M186.1 466.5h0M186.1 480.1h0M186.1 534.6h0M186.1 548.2h0M192.0 388.1h0M192.0 408.6h0M192.0 415.4h0M203.8 503.9h0M203.8 551.6h0M209.6 514.1h0M215.5 429.0h0M215.5 551.6h0M227.3 388.1h0M233.2 541.4h0M239.0 354.1h0M239.0 544.8h0M250.8 354.1h0M250.8 449.4h0M250.8 469.9h0M250.8 517.5h0M256.7 493.7h0M256.7 527.8h0M256.7 534.6h0M262.6 354.1h0M262.6 449.4h0M262.6 456.2h0M262.6 463.0h0M268.4 371.1h0M268.4 391.6h0M268.4 398.4h0M268.4 405.2h0M268.4 412.0h0M268.4 473.3h0M268.4 507.3h0M274.3 367.7h0M274.3 374.5h0M274.3 381.3h0M274.3 388.1h0M274.3 415.4h0M274.3 422.2h0M274.3 429.0h0M274.3 435.8h0M274.3 463.0h0M274.3 483.5h0M274.3 490.3h0M280.2 377.9h0M280.2 384.7h0M280.2 446.0h0M280.2 452.8h0M280.2 466.5h0M280.2 473.3h0M286.1 374.5h0M286.1 388.1h0M286.1 401.8h0M286.1 408.6h0M286.1 429.0h0M286.1 442.6h0M286.1 449.4h0M286.1 463.0h0M286.1 469.9h0M292.0 384.7h0M292.0 391.6h0M292.0 412.0h0M292.0 418.8h0M292.0 439.2h0M297.8 388.1h0M297.8 422.2h0M303.7 405.2h0M303.7 418.8h0M303.7 425.6h0M303.7 432.4h0M309.6 415.4h0" stroke="#00BA38" stroke-width="3.1" stroke-linecap="round" fill="none"/>
<path d="M41.6 333.6h0M49.2 333.6h0M60.6 340.3h0M98.6 340.3h0M129.0 340.3h0M136.6 340.3h0M49.2 346.9h0M64.4 346.9h0M72.0 346.9h0M87.2 346.9h0M110.0 346.9h0M125.2 346.9h0M45.4 353.6h0M136.6 353.6h0M41.6 360.2h0M56.8 360.2h0M79.6 360.2h0M140.4 360.2h0M170.8 360.2h0M75.8 366.9h0M83.4 366.9h0M106.2 366.9h0M129.0 366.9h0M75.8 380.2h0M83.4 380.2h0M98.6 380.2h0M167.0 380.2h0M41.6 386.8h0M79.6 386.8h0M94.8 386.8h0M125.2 386.8h0M140.4 386.8h0M148.0 386.8h0M75.8 393.4h0M91.0 393.4h0M136.6 393.4h0M102.4 400.1h0M140.4 400.1h0M170.8 400.1h0M75.8 406.7h0M106.2 406.7h0M144.2 406.7h0M167.0 406.7h0M60.6 420.0h0M68.2 420.0h0M98.6 420.0h0M136.6 420.0h0M151.8 420.0h0M79.6 426.7h0M87.2 426.7h0M117.6 426.7h0M163.2 426.7h0M129.0 433.3h0M159.4 446.6h0M87.2 453.3h0M83.4 459.9h0M113.8 459.9h0M102.4 466.5h0M125.2 466.5h0M140.4 466.5h0M155.6 466.5h0M170.8 466.5h0M91.0 473.2h0M121.4 499.8h0M136.6 499.8h0M79.6 506.4h0M83.4 513.1h0M113.8 513.1h0M129.0 513.1h0M64.4 519.7h0M68.2 526.4h0M53.0 539.6h0M68.2 539.6h0M75.8 539.6h0M98.6 552.9h0" stroke="#00BFC4" stroke-width="3.5" stroke-linecap="round" fill="none"/>
<path d="M168.5 510.7h0M174.4 520.9h0M180.2 490.3h0M180.2 510.7h0M180.2 531.1h0M186.1 486.9h0M186.1 514.1h0M186.1 541.4h0M192.0 381.3h0M192.0 394.9h0M192.0 435.8h0M192.0 469.9h0M192.0 490.3h0M192.0 503.9h0M192.0 510.7h0M192.0 538.0h0M192.0 544.8h0M197.9 371.1h0M197.9 452.8h0M197.9 459.6h0M197.9 466.5h0M197.9 480.1h0M197.9 520.9h0M197.9 527.8h0M203.8 476.7h0M203.8 510.7h0M203.8 517.5h0M203.8 531.1h0M209.6 418.8h0M209.6 459.6h0M209.6 473.3h0M209.6 480.1h0M209.6 493.7h0M209.6 500.5h0M209.6 541.4h0M215.5 442.6h0M215.5 463.0h0M215.5 469.9h0M215.5 483.5h0M215.5 497.1h0M215.5 503.9h0M215.5 510.7h0M215.5 524.3h0M215.5 538.0h0M221.4 384.7h0M221.4 439.2h0M221.4 534.6h0M227.3 435.8h0M227.3 442.6h0M227.3 476.7h0M227.3 497.1h0M227.3 538.0h0M227.3 544.8h0M233.2 412.0h0M233.2 432.4h0M233.2 459.6h0M233.2 473.3h0M233.2 507.3h0M233.2 514.1h0M233.2 527.8h0M233.2 555.0h0M239.0 449.4h0M239.0 456.2h0M239.0 463.0h0M239.0 469.9h0M239.0 476.7h0M239.0 510.7h0M244.9 371.1h0M244.9 398.4h0M244.9 473.3h0M244.9 480.1h0M244.9 493.7h0M244.9 527.8h0M250.8 394.9h0M250.8 476.7h0M250.8 497.1h0M250.8 510.7h0M250.8 524.3h0M250.8 531.1h0M256.7 398.4h0M256.7 432.4h0M256.7 486.9h0M256.7 520.9h0M262.6 429.0h0M262.6 510.7h0M268.4 377.9h0M268.4 446.0h0M268.4 466.5h0M268.4 480.1h0M268.4 486.9h0M268.4 500.5h0M274.3 360.9h0M274.3 456.2h0M280.2 405.2h0M280.2 432.4h0M286.1 381.3h0M286.1 415.4h0M292.0 377.9h0M297.8 429.0h0M303.7 398.4h0" stroke="#00BFC4" stroke-width="3.1" stroke-linecap="round" fill="none"/>
<path d="M110.0 333.6h0M53.0 340.3h0M113.8 340.3h0M132.8 346.9h0M60.6 353.6h0M75.8 353.6h0M83.4 353.6h0M98.6 353.6h0M167.0 353.6h0M64.4 360.2h0M159.4 366.9h0M167.0 366.9h0M125.2 373.5h0M148.0 373.5h0M60.6 380.2h0M68.2 380.2h0M182.2 380.2h0M117.6 386.8h0M170.8 386.8h0M45.4 393.4h0M98.6 393.4h0M151.8 393.4h0M49.2 400.1h0M87.2 400.1h0M68.2 406.7h0M136.6 406.7h0M159.4 406.7h0M121.4 420.0h0M144.2 420.0h0M159.4 420.0h0M110.0 426.7h0M148.0 426.7h0M155.6 426.7h0M178.4 426.7h0M113.8 433.3h0M121.4 433.3h0M174.6 433.3h0M110.0 440.0h0M75.8 446.6h0M49.2 453.3h0M56.8 453.3h0M117.6 453.3h0M79.6 466.5h0M87.2 466.5h0M94.8 466.5h0M136.6 473.2h0M167.0 473.2h0M41.6 479.8h0M170.8 479.8h0M60.6 486.5h0M113.8 486.5h0M144.2 486.5h0M49.2 493.1h0M132.8 493.1h0M140.4 493.1h0M106.2 499.8h0M129.0 499.8h0M144.2 499.8h0M56.8 506.4h0M102.4 506.4h0M125.2 506.4h0M60.6 513.1h0M110.0 519.7h0M125.2 519.7h0M113.8 526.4h0M41.6 533.0h0M56.8 533.0h0M64.4 533.0h0M79.6 533.0h0M110.0 533.0h0M125.2 533.0h0M106.2 539.6h0M72.0 546.3h0M110.0 546.3h0M132.8 546.3h0M60.6 552.9h0" stroke="#619CFF" stroke-width="3.5" stroke-linecap="round" fill="none"/>
<path d="M168.5 503.9h0M174.4 486.9h0M174.4 541.4h0M192.0 374.5h0M192.0 449.4h0M197.9 357.5h0M197.9 377.9h0M197.9 384.7h0M197.9 439.2h0M197.9 486.9h0M197.9 500.5h0M197.9 548.2h0M209.6 384.7h0M209.6 405.2h0M209.6 412.0h0M215.5 381.3h0M215.5 408.6h0M221.4 357.5h0M221.4 364.3h0M221.4 377.9h0M221.4 418.8h0M221.4 425.6h0M221.4 507.3h0M227.3 360.9h0M227.3 449.4h0M227.3 463.0h0M227.3 524.3h0M227.3 551.6h0M233.2 364.3h0M233.2 371.1h0M233.2 439.2h0M233.2 493.7h0M239.0 374.5h0M239.0 388.1h0M239.0 394.9h0M239.0 435.8h0M239.0 442.6h0M239.0 497.1h0M239.0 538.0h0M244.9 364.3h0M244.9 384.7h0M244.9 500.5h0M244.9 548.2h0M250.8 367.7h0M250.8 374.5h0M250.8 381.3h0M250.8 388.1h0M250.8 401.8h0M250.8 408.6h0M250.8 429.0h0M256.7 357.5h0M256.7 364.3h0M256.7 377.9h0M256.7 391.6h0M256.7 412.0h0M256.7 418.8h0M262.6 469.9h0M262.6 497.1h0M274.3 394.9h0" stroke="#619CFF" stroke-width="3.1" stroke-linecap="round" fill="none"/>
<path d="M132.8 333.6h0M102.4 346.9h0M30.2 366.9h0M98.6 366.9h0M151.8 366.9h0M64.4 373.5h0M72.0 373.5h0M79.6 373.5h0M110.0 373.5h0M140.4 373.5h0M170.8 373.5h0M37.8 380.2h0M106.2 380.2h0M113.8 380.2h0M132.8 386.8h0M178.4 386.8h0M121.4 393.4h0M151.8 406.7h0M72.0 413.4h0M110.0 413.4h0M75.8 420.0h0M113.8 420.0h0M159.4 433.3h0M182.2 433.3h0M102.4 440.0h0M117.6 440.0h0M83.4 446.6h0M91.0 446.6h0M106.2 446.6h0M174.6 446.6h0M155.6 453.3h0M170.8 453.3h0M68.2 459.9h0M144.2 459.9h0M167.0 459.9h0M49.2 466.5h0M56.8 466.5h0M45.4 473.2h0M53.0 473.2h0M68.2 473.2h0M106.2 473.2h0M64.4 479.8h0M79.6 479.8h0M102.4 479.8h0M110.0 479.8h0M125.2 479.8h0M98.6 486.5h0M136.6 486.5h0M159.4 486.5h0M72.0 493.1h0M79.6 493.1h0M102.4 493.1h0M83.4 499.8h0M110.0 506.4h0M45.4 513.1h0M53.0 513.1h0M75.8 513.1h0M129.0 526.4h0M49.2 533.0h0M102.4 546.3h0M117.6 546.3h0M125.2 546.3h0" stroke="#F564E3" stroke-width="3.5" stroke-linecap="round" fill="none"/>
<path d="M156.7 517.5h0M168.5 497.1h0M174.4 493.7h0M180.2 483.5h0M197.9 412.0h0M197.9 432.4h0M197.9 446.0h0M203.8 360.9h0M203.8 374.5h0M203.8 401.8h0M203.8 408.6h0M203.8 469.9h0M209.6 425.6h0M215.5 401.8h0M221.4 405.2h0M221.4 432.4h0M227.3 354.1h0M227.3 367.7h0M233.2 357.5h0M233.2 377.9h0M233.2 418.8h0M233.2 452.8h0M239.0 367.7h0M239.0 408.6h0M239.0 429.0h0M244.9 391.6h0M244.9 507.3h0M250.8 442.6h0M256.7 425.6h0M256.7 473.3h0M262.6 360.9h0M262.6 367.7h0M262.6 408.6h0M262.6 415.4h0M262.6 517.5h0M268.4 364.3h0M274.3 442.6h0M274.3 469.9h0M292.0 405.2h0" stroke="#F564E3" stroke-width="3.1" stroke-linecap="round" fill="none"/>
<rect x="59.5" y="499.8" width="12.0" height="12.0" rx="1.6" fill="#00BA38" stroke="#fff" stroke-width="0.6"/>
<text x="65.5" y="508.9" text-anchor="middle" class="bx" style="font-size:8.5px">3</text>
<rect x="59.5" y="513.8" width="12.0" height="12.0" rx="1.6" fill="#00BFC4" stroke="#fff" stroke-width="0.6"/>
<text x="65.5" y="522.9" text-anchor="middle" class="bx" style="font-size:8.5px">4</text>
<rect x="93.5" y="506.5" width="12.5" height="13.5" rx="1.6" fill="#B79F00" stroke="#fff" stroke-width="0.6"/>
<text x="99.8" y="516.3" text-anchor="middle" class="bx" style="font-size:8.5px">2</text>
<rect x="97.5" y="526.8" width="12.5" height="13.5" rx="1.6" fill="#F564E3" stroke="#fff" stroke-width="0.6"/>
<text x="103.7" y="536.6" text-anchor="middle" class="bx" style="font-size:8.5px">6</text>
<rect x="194.7" y="406.6" width="12.3" height="11.4" rx="1.8" fill="#619CFF" stroke="#fff" stroke-width="0.6"/>
<text transform="translate(198.2 412.3) rotate(90)" text-anchor="middle" class="bx" style="font-size:8.5px">5</text>
<rect x="184.5" y="454" width="12.5" height="11" rx="1.8" fill="#F8766D" stroke="#fff" stroke-width="0.6"/>
<text transform="translate(188 459.5) rotate(90)" text-anchor="middle" class="bx" style="font-size:8.5px">1</text>
<text x="182.3" y="338.7" class="pl">D</text>
<circle cx="292.6" cy="468.2" r="1.75" fill="#F8766D" stroke="#555" stroke-width="0.3"/>
<text transform="translate(297.6 470.8) scale(0.9 1)" class="lgd">1 (Kupffer)</text>
<circle cx="292.6" cy="485.0" r="1.75" fill="#B79F00" stroke="#555" stroke-width="0.3"/>
<text transform="translate(297.6 487.6) scale(0.9 1)" class="lgd">2 (Mid red)</text>
<circle cx="292.6" cy="501.8" r="1.75" fill="#00BA38" stroke="#555" stroke-width="0.3"/>
<text transform="translate(297.6 504.4) scale(0.9 1)" class="lgd">3 (Hepatocyte)</text>
<circle cx="292.6" cy="518.4" r="1.75" fill="#00BFC4" stroke="#555" stroke-width="0.3"/>
<text transform="translate(297.6 521.0) scale(0.9 1)" class="lgd">4 (Late red)</text>
<circle cx="292.6" cy="535.2" r="1.75" fill="#619CFF" stroke="#555" stroke-width="0.3"/>
<text transform="translate(297.6 537.8) scale(0.9 1)" class="lgd">5 (Mid red)</text>
<circle cx="292.6" cy="551.9" r="1.75" fill="#F564E3" stroke="#555" stroke-width="0.3"/>
<text transform="translate(297.6 554.5) scale(0.9 1)" class="lgd">6 (Early red)</text>
</g>
<defs><clipPath id="eclip"><rect x="342" y="300" width="352" height="320"/></clipPath></defs><g clip-path="url(#eclip)">
<rect x="342" y="306" width="246" height="290" fill="#f8f7f9"/>
<path d="M425.8 316.2h0M430.0 316.2h0M434.2 316.2h0M438.4 316.2h0M442.5 316.2h0M446.7 316.2h0M450.9 316.2h0M455.1 316.2h0M459.3 316.2h0M463.4 316.2h0M467.6 316.2h0M471.8 316.2h0M476.0 316.2h0M480.2 316.2h0M484.3 316.2h0M488.5 316.2h0M492.7 316.2h0M496.9 316.2h0M501.1 316.2h0M505.2 316.2h0M509.4 316.2h0M513.6 316.2h0M517.8 316.2h0M522.0 316.2h0M526.1 316.2h0M530.3 316.2h0M534.5 316.2h0M538.7 316.2h0M542.9 316.2h0M547.0 316.2h0M551.2 316.2h0M555.4 316.2h0M559.6 316.2h0M584.7 316.2h0M588.8 316.2h0M423.7 319.8h0M427.9 319.8h0M590.9 319.8h0M421.6 323.4h0M588.8 323.4h0M419.6 327.1h0M423.7 327.1h0M590.9 327.1h0M413.3 330.7h0M417.5 330.7h0M421.6 330.7h0M588.8 330.7h0M411.2 334.3h0M415.4 334.3h0M590.9 334.3h0M409.1 337.9h0M413.3 337.9h0M588.8 337.9h0M407.0 341.5h0M411.2 341.5h0M590.9 341.5h0M404.9 345.2h0M409.1 345.2h0M588.8 345.2h0M402.8 348.8h0M407.0 348.8h0M590.9 348.8h0M400.7 352.4h0M404.9 352.4h0M588.8 352.4h0M398.7 356.0h0M402.8 356.0h0M590.9 356.0h0M388.2 359.6h0M392.4 359.6h0M396.6 359.6h0M588.8 359.6h0M381.9 363.3h0M386.1 363.3h0M390.3 363.3h0M394.5 363.3h0M398.7 363.3h0M402.8 363.3h0M590.9 363.3h0M400.7 366.9h0M404.9 366.9h0M588.8 366.9h0M402.8 370.5h0M407.0 370.5h0M590.9 370.5h0M400.7 374.1h0M404.9 374.1h0M588.8 374.1h0M390.3 377.7h0M394.5 377.7h0M398.7 377.7h0M590.9 377.7h0M392.4 381.4h0M588.8 381.4h0M390.3 385.0h0M590.9 385.0h0M388.2 388.6h0M588.8 388.6h0M373.6 392.2h0M377.8 392.2h0M381.9 392.2h0M386.1 392.2h0M390.3 392.2h0M590.9 392.2h0M371.5 395.8h0M375.7 395.8h0M588.8 395.8h0M373.6 399.5h0M590.9 399.5h0M371.5 403.1h0M375.7 403.1h0M588.8 403.1h0M373.6 406.7h0M590.9 406.7h0M371.5 410.3h0M375.7 410.3h0M588.8 410.3h0M373.6 413.9h0M590.9 413.9h0M371.5 417.6h0M375.7 417.6h0M588.8 417.6h0M373.6 421.2h0M590.9 421.2h0M371.5 424.8h0M375.7 424.8h0M588.8 424.8h0M373.6 428.4h0M590.9 428.4h0M371.5 432.0h0M375.7 432.0h0M588.8 432.0h0M365.2 435.7h0M369.4 435.7h0M373.6 435.7h0M590.9 435.7h0M358.9 439.3h0M363.1 439.3h0M588.8 439.3h0M356.9 442.9h0M590.9 442.9h0M358.9 446.5h0M588.8 446.5h0M356.9 450.1h0M590.9 450.1h0M358.9 453.8h0M588.8 453.8h0M356.9 457.4h0M590.9 457.4h0M358.9 461.0h0M363.1 461.0h0M588.8 461.0h0M365.2 464.6h0M590.9 464.6h0M363.1 468.2h0M367.3 468.2h0M588.8 468.2h0M356.9 471.9h0M361.0 471.9h0M365.2 471.9h0M590.9 471.9h0M354.8 475.5h0M358.9 475.5h0M588.8 475.5h0M356.9 479.1h0M590.9 479.1h0M354.8 482.7h0M358.9 482.7h0M588.8 482.7h0M356.9 486.3h0M586.8 486.3h0M590.9 486.3h0M346.4 490.0h0M350.6 490.0h0M354.8 490.0h0M584.7 490.0h0M588.8 490.0h0M344.3 493.6h0M348.5 493.6h0M578.4 493.6h0M582.6 493.6h0M346.4 497.2h0M572.1 497.2h0M576.3 497.2h0M348.5 500.8h0M570.0 500.8h0M574.2 500.8h0M350.6 504.4h0M563.8 504.4h0M567.9 504.4h0M348.5 508.1h0M561.7 508.1h0M565.9 508.1h0M350.6 511.7h0M551.2 511.7h0M555.4 511.7h0M559.6 511.7h0M348.5 515.3h0M545.0 515.3h0M549.1 515.3h0M553.3 515.3h0M350.6 518.9h0M542.9 518.9h0M348.5 522.5h0M352.7 522.5h0M536.6 522.5h0M540.8 522.5h0M350.6 526.2h0M534.5 526.2h0M538.7 526.2h0M352.7 529.8h0M528.2 529.8h0M532.4 529.8h0M350.6 533.4h0M354.8 533.4h0M526.1 533.4h0M530.3 533.4h0M352.7 537.0h0M524.0 537.0h0M354.8 540.6h0M358.9 540.6h0M517.8 540.6h0M522.0 540.6h0M356.9 544.3h0M361.0 544.3h0M365.2 544.3h0M369.4 544.3h0M373.6 544.3h0M515.7 544.3h0M519.9 544.3h0M371.5 547.9h0M375.7 547.9h0M379.8 547.9h0M509.4 547.9h0M513.6 547.9h0M377.8 551.5h0M381.9 551.5h0M386.1 551.5h0M499.0 551.5h0M503.2 551.5h0M507.3 551.5h0M384.0 555.1h0M388.2 555.1h0M392.4 555.1h0M496.9 555.1h0M501.1 555.1h0M394.5 558.7h0M490.6 558.7h0M494.8 558.7h0M396.6 562.4h0M400.7 562.4h0M484.3 562.4h0M488.5 562.4h0M492.7 562.4h0M398.7 566.0h0M402.8 566.0h0M482.2 566.0h0M400.7 569.6h0M404.9 569.6h0M480.2 569.6h0M484.3 569.6h0M402.8 573.2h0M407.0 573.2h0M482.2 573.2h0M404.9 576.8h0M480.2 576.8h0M407.0 580.5h0M473.9 580.5h0M478.1 580.5h0M409.1 584.1h0M413.3 584.1h0M417.5 584.1h0M421.6 584.1h0M425.8 584.1h0M430.0 584.1h0M434.2 584.1h0M438.4 584.1h0M442.5 584.1h0M446.7 584.1h0M450.9 584.1h0M455.1 584.1h0M459.3 584.1h0M463.4 584.1h0M467.6 584.1h0M471.8 584.1h0M476.0 584.1h0" stroke="#fdfcfd" stroke-width="26" stroke-linecap="round" fill="none"/>
<path d="M419.6 327.1h0M413.3 330.7h0M417.5 330.7h0M411.2 334.3h0M415.4 334.3h0M409.1 337.9h0M413.3 337.9h0M407.0 341.5h0M411.2 341.5h0M404.9 345.2h0M409.1 345.2h0M402.8 348.8h0M407.0 348.8h0M400.7 352.4h0M404.9 352.4h0M398.7 356.0h0M402.8 356.0h0M388.2 359.6h0M392.4 359.6h0M396.6 359.6h0M381.9 363.3h0M386.1 363.3h0M390.3 363.3h0M394.5 363.3h0M398.7 363.3h0M402.8 363.3h0M400.7 366.9h0M404.9 366.9h0M402.8 370.5h0M407.0 370.5h0M400.7 374.1h0M404.9 374.1h0M390.3 377.7h0M394.5 377.7h0M398.7 377.7h0M392.4 381.4h0M390.3 385.0h0M388.2 388.6h0M373.6 392.2h0M377.8 392.2h0M381.9 392.2h0M386.1 392.2h0M390.3 392.2h0M371.5 395.8h0M375.7 395.8h0M373.6 399.5h0M371.5 403.1h0M375.7 403.1h0M373.6 406.7h0M371.5 410.3h0M375.7 410.3h0M373.6 413.9h0M371.5 417.6h0M375.7 417.6h0M373.6 421.2h0M371.5 424.8h0M375.7 424.8h0M373.6 428.4h0M371.5 432.0h0M375.7 432.0h0M365.2 435.7h0M369.4 435.7h0M373.6 435.7h0M358.9 439.3h0M363.1 439.3h0M356.9 442.9h0M358.9 446.5h0M356.9 450.1h0M358.9 453.8h0M356.9 457.4h0M358.9 461.0h0M363.1 461.0h0M365.2 464.6h0M363.1 468.2h0M367.3 468.2h0M356.9 471.9h0M361.0 471.9h0M365.2 471.9h0M354.8 475.5h0M358.9 475.5h0M356.9 479.1h0M354.8 482.7h0M358.9 482.7h0M356.9 486.3h0M346.4 490.0h0M350.6 490.0h0M354.8 490.0h0M344.3 493.6h0M348.5 493.6h0M346.4 497.2h0M348.5 500.8h0M350.6 504.4h0M348.5 508.1h0M350.6 511.7h0M348.5 515.3h0M350.6 518.9h0M348.5 522.5h0M352.7 522.5h0M350.6 526.2h0M352.7 529.8h0M350.6 533.4h0M354.8 533.4h0M352.7 537.0h0M354.8 540.6h0M358.9 540.6h0M517.8 540.6h0M522.0 540.6h0M356.9 544.3h0M361.0 544.3h0M365.2 544.3h0M369.4 544.3h0M373.6 544.3h0M515.7 544.3h0M519.9 544.3h0M371.5 547.9h0M375.7 547.9h0M379.8 547.9h0M509.4 547.9h0M513.6 547.9h0M377.8 551.5h0M381.9 551.5h0M386.1 551.5h0M499.0 551.5h0M503.2 551.5h0M507.3 551.5h0M384.0 555.1h0M388.2 555.1h0M392.4 555.1h0M496.9 555.1h0M501.1 555.1h0M394.5 558.7h0M490.6 558.7h0M494.8 558.7h0M396.6 562.4h0M400.7 562.4h0M484.3 562.4h0M488.5 562.4h0M492.7 562.4h0M398.7 566.0h0M402.8 566.0h0M482.2 566.0h0M400.7 569.6h0M404.9 569.6h0M480.2 569.6h0M484.3 569.6h0M402.8 573.2h0M407.0 573.2h0M482.2 573.2h0M404.9 576.8h0M480.2 576.8h0M407.0 580.5h0M473.9 580.5h0M478.1 580.5h0M409.1 584.1h0M413.3 584.1h0M417.5 584.1h0M421.6 584.1h0M425.8 584.1h0M430.0 584.1h0M434.2 584.1h0M438.4 584.1h0M442.5 584.1h0M446.7 584.1h0M450.9 584.1h0M455.1 584.1h0M459.3 584.1h0M463.4 584.1h0M467.6 584.1h0M471.8 584.1h0M476.0 584.1h0" stroke="#f1ecf1" stroke-width="12" stroke-linecap="round" fill="none"/>
<path d="M425.8 316.2h0M430.0 316.2h0M434.2 316.2h0M438.4 316.2h0M442.5 316.2h0M446.7 316.2h0M450.9 316.2h0M455.1 316.2h0M459.3 316.2h0M463.4 316.2h0M467.6 316.2h0M471.8 316.2h0M476.0 316.2h0M480.2 316.2h0M484.3 316.2h0M488.5 316.2h0M492.7 316.2h0M496.9 316.2h0M501.1 316.2h0M505.2 316.2h0M509.4 316.2h0M513.6 316.2h0M517.8 316.2h0M522.0 316.2h0M526.1 316.2h0M530.3 316.2h0M534.5 316.2h0M538.7 316.2h0M542.9 316.2h0M547.0 316.2h0M551.2 316.2h0M555.4 316.2h0M559.6 316.2h0M584.7 316.2h0M588.8 316.2h0M423.7 319.8h0M427.9 319.8h0M590.9 319.8h0M421.6 323.4h0M588.8 323.4h0M419.6 327.1h0M423.7 327.1h0M590.9 327.1h0M413.3 330.7h0M417.5 330.7h0M421.6 330.7h0M588.8 330.7h0M411.2 334.3h0M415.4 334.3h0M590.9 334.3h0M409.1 337.9h0M413.3 337.9h0M588.8 337.9h0M407.0 341.5h0M411.2 341.5h0M590.9 341.5h0M404.9 345.2h0M409.1 345.2h0M588.8 345.2h0M402.8 348.8h0M407.0 348.8h0M590.9 348.8h0M400.7 352.4h0M404.9 352.4h0M588.8 352.4h0M398.7 356.0h0M402.8 356.0h0M590.9 356.0h0M388.2 359.6h0M392.4 359.6h0M396.6 359.6h0M588.8 359.6h0M381.9 363.3h0M386.1 363.3h0M390.3 363.3h0M394.5 363.3h0M398.7 363.3h0M402.8 363.3h0M590.9 363.3h0M400.7 366.9h0M404.9 366.9h0M588.8 366.9h0M402.8 370.5h0M407.0 370.5h0M590.9 370.5h0M400.7 374.1h0M404.9 374.1h0M588.8 374.1h0M390.3 377.7h0M394.5 377.7h0M398.7 377.7h0M590.9 377.7h0M392.4 381.4h0M588.8 381.4h0M390.3 385.0h0M590.9 385.0h0M388.2 388.6h0M588.8 388.6h0M373.6 392.2h0M377.8 392.2h0M381.9 392.2h0M386.1 392.2h0M390.3 392.2h0M590.9 392.2h0M371.5 395.8h0M375.7 395.8h0M588.8 395.8h0M373.6 399.5h0M590.9 399.5h0M371.5 403.1h0M375.7 403.1h0M588.8 403.1h0M373.6 406.7h0M590.9 406.7h0M371.5 410.3h0M375.7 410.3h0M588.8 410.3h0M373.6 413.9h0M590.9 413.9h0M371.5 417.6h0M375.7 417.6h0M588.8 417.6h0M373.6 421.2h0M590.9 421.2h0M371.5 424.8h0M375.7 424.8h0M588.8 424.8h0M373.6 428.4h0M590.9 428.4h0M371.5 432.0h0M375.7 432.0h0M588.8 432.0h0M365.2 435.7h0M369.4 435.7h0M373.6 435.7h0M590.9 435.7h0M358.9 439.3h0M363.1 439.3h0M588.8 439.3h0M356.9 442.9h0M590.9 442.9h0M358.9 446.5h0M588.8 446.5h0M356.9 450.1h0M590.9 450.1h0M358.9 453.8h0M588.8 453.8h0M356.9 457.4h0M590.9 457.4h0M358.9 461.0h0M363.1 461.0h0M588.8 461.0h0M365.2 464.6h0M590.9 464.6h0M363.1 468.2h0M367.3 468.2h0M588.8 468.2h0M356.9 471.9h0M361.0 471.9h0M365.2 471.9h0M590.9 471.9h0M354.8 475.5h0M358.9 475.5h0M588.8 475.5h0M356.9 479.1h0M590.9 479.1h0M354.8 482.7h0M358.9 482.7h0M588.8 482.7h0M356.9 486.3h0M586.8 486.3h0M590.9 486.3h0M346.4 490.0h0M350.6 490.0h0M354.8 490.0h0M584.7 490.0h0M588.8 490.0h0M344.3 493.6h0M348.5 493.6h0M578.4 493.6h0M582.6 493.6h0M346.4 497.2h0M572.1 497.2h0M576.3 497.2h0M348.5 500.8h0M570.0 500.8h0M574.2 500.8h0M350.6 504.4h0M563.8 504.4h0M567.9 504.4h0M348.5 508.1h0M561.7 508.1h0M565.9 508.1h0M350.6 511.7h0M551.2 511.7h0M555.4 511.7h0M559.6 511.7h0M348.5 515.3h0M545.0 515.3h0M549.1 515.3h0M553.3 515.3h0M350.6 518.9h0M542.9 518.9h0M348.5 522.5h0M352.7 522.5h0M536.6 522.5h0M540.8 522.5h0M350.6 526.2h0M534.5 526.2h0M538.7 526.2h0M352.7 529.8h0M528.2 529.8h0M532.4 529.8h0M350.6 533.4h0M354.8 533.4h0M526.1 533.4h0M530.3 533.4h0M352.7 537.0h0M524.0 537.0h0M354.8 540.6h0M358.9 540.6h0M517.8 540.6h0M522.0 540.6h0M356.9 544.3h0M361.0 544.3h0M365.2 544.3h0M369.4 544.3h0M373.6 544.3h0M515.7 544.3h0M519.9 544.3h0M371.5 547.9h0M375.7 547.9h0M379.8 547.9h0M509.4 547.9h0M513.6 547.9h0M377.8 551.5h0M381.9 551.5h0M386.1 551.5h0M499.0 551.5h0M503.2 551.5h0M507.3 551.5h0M384.0 555.1h0M388.2 555.1h0M392.4 555.1h0M496.9 555.1h0M501.1 555.1h0M394.5 558.7h0M490.6 558.7h0M494.8 558.7h0M396.6 562.4h0M400.7 562.4h0M484.3 562.4h0M488.5 562.4h0M492.7 562.4h0M398.7 566.0h0M402.8 566.0h0M482.2 566.0h0M400.7 569.6h0M404.9 569.6h0M480.2 569.6h0M484.3 569.6h0M402.8 573.2h0M407.0 573.2h0M482.2 573.2h0M404.9 576.8h0M480.2 576.8h0M407.0 580.5h0M473.9 580.5h0M478.1 580.5h0M409.1 584.1h0M413.3 584.1h0M417.5 584.1h0M421.6 584.1h0M425.8 584.1h0M430.0 584.1h0M434.2 584.1h0M438.4 584.1h0M442.5 584.1h0M446.7 584.1h0M450.9 584.1h0M455.1 584.1h0M459.3 584.1h0M463.4 584.1h0M467.6 584.1h0M471.8 584.1h0M476.0 584.1h0" stroke="#e9c6df" stroke-width="6.6" stroke-linecap="round" fill="none"/>
</g>
<path d="M425.8 316.2h0M430.0 316.2h0M434.2 316.2h0M442.5 316.2h0M480.2 316.2h0M496.9 316.2h0M530.3 316.2h0M538.7 316.2h0M542.9 316.2h0M547.0 316.2h0M551.2 316.2h0M588.8 316.2h0M427.9 319.8h0M432.1 319.8h0M448.8 319.8h0M478.1 319.8h0M490.6 319.8h0M528.2 319.8h0M532.4 319.8h0M590.9 319.8h0M442.5 323.4h0M446.7 323.4h0M496.9 323.4h0M517.8 323.4h0M542.9 323.4h0M572.1 323.4h0M584.7 323.4h0M440.5 327.1h0M444.6 327.1h0M494.8 327.1h0M507.3 327.1h0M549.1 327.1h0M553.3 327.1h0M557.5 327.1h0M582.6 327.1h0M417.5 330.7h0M421.6 330.7h0M425.8 330.7h0M442.5 330.7h0M463.4 330.7h0M471.8 330.7h0M480.2 330.7h0M501.1 330.7h0M534.5 330.7h0M538.7 330.7h0M415.4 334.3h0M419.6 334.3h0M423.7 334.3h0M427.9 334.3h0M478.1 334.3h0M524.0 334.3h0M528.2 334.3h0M532.4 334.3h0M425.8 337.9h0M450.9 337.9h0M455.1 337.9h0M471.8 337.9h0M476.0 337.9h0M484.3 337.9h0M522.0 337.9h0M526.1 337.9h0M534.5 337.9h0M588.8 337.9h0M419.6 341.5h0M427.9 341.5h0M453.0 341.5h0M473.9 341.5h0M494.8 341.5h0M528.2 341.5h0M536.6 341.5h0M557.5 341.5h0M417.5 345.2h0M434.2 345.2h0M442.5 345.2h0M492.7 345.2h0M496.9 345.2h0M509.4 345.2h0M526.1 345.2h0M530.3 345.2h0M432.1 348.8h0M453.0 348.8h0M482.2 348.8h0M486.4 348.8h0M507.3 348.8h0M511.5 348.8h0M524.0 348.8h0M536.6 348.8h0M421.6 352.4h0M434.2 352.4h0M480.2 352.4h0M484.3 352.4h0M501.1 352.4h0M580.5 352.4h0M419.6 356.0h0M436.3 356.0h0M457.2 356.0h0M461.4 356.0h0M465.5 356.0h0M478.1 356.0h0M482.2 356.0h0M486.4 356.0h0M553.3 356.0h0M557.5 356.0h0M561.7 356.0h0M574.2 356.0h0M586.8 356.0h0M590.9 356.0h0M404.9 359.6h0M409.1 359.6h0M413.3 359.6h0M417.5 359.6h0M430.0 359.6h0M434.2 359.6h0M442.5 359.6h0M455.1 359.6h0M463.4 359.6h0M467.6 359.6h0M471.8 359.6h0M476.0 359.6h0M480.2 359.6h0M484.3 359.6h0M488.5 359.6h0M505.2 359.6h0M530.3 359.6h0M551.2 359.6h0M390.3 363.3h0M394.5 363.3h0M402.8 363.3h0M419.6 363.3h0M478.1 363.3h0M486.4 363.3h0M507.3 363.3h0M511.5 363.3h0M515.7 363.3h0M590.9 363.3h0M480.2 366.9h0M488.5 366.9h0M526.1 366.9h0M530.3 366.9h0M542.9 366.9h0M547.0 366.9h0M563.8 366.9h0M567.9 366.9h0M576.3 366.9h0M411.2 370.5h0M444.6 370.5h0M453.0 370.5h0M478.1 370.5h0M486.4 370.5h0M503.2 370.5h0M507.3 370.5h0M515.7 370.5h0M561.7 370.5h0M565.9 370.5h0M590.9 370.5h0M421.6 374.1h0M425.8 374.1h0M430.0 374.1h0M446.7 374.1h0M463.4 374.1h0M492.7 374.1h0M505.2 374.1h0M509.4 374.1h0M513.6 374.1h0M522.0 374.1h0M526.1 374.1h0M547.0 374.1h0M563.8 374.1h0M567.9 374.1h0M584.7 374.1h0M415.4 377.7h0M423.7 377.7h0M427.9 377.7h0M432.1 377.7h0M490.6 377.7h0M499.0 377.7h0M503.2 377.7h0M519.9 377.7h0M528.2 377.7h0M545.0 377.7h0M549.1 377.7h0M578.4 377.7h0M590.9 377.7h0M409.1 381.4h0M413.3 381.4h0M434.2 381.4h0M438.4 381.4h0M492.7 381.4h0M496.9 381.4h0M501.1 381.4h0M509.4 381.4h0M522.0 381.4h0M526.1 381.4h0M538.7 381.4h0M547.0 381.4h0M559.6 381.4h0M563.8 381.4h0M584.7 381.4h0M588.8 381.4h0M402.8 385.0h0M411.2 385.0h0M444.6 385.0h0M453.0 385.0h0M457.2 385.0h0M465.5 385.0h0M490.6 385.0h0M499.0 385.0h0M519.9 385.0h0M532.4 385.0h0M536.6 385.0h0M557.5 385.0h0M570.0 385.0h0M582.6 385.0h0M590.9 385.0h0M425.8 388.6h0M488.5 388.6h0M492.7 388.6h0M496.9 388.6h0M501.1 388.6h0M505.2 388.6h0M517.8 388.6h0M526.1 388.6h0M534.5 388.6h0M538.7 388.6h0M551.2 388.6h0M559.6 388.6h0M580.5 388.6h0M584.7 388.6h0M588.8 388.6h0M381.9 392.2h0M411.2 392.2h0M465.5 392.2h0M469.7 392.2h0M478.1 392.2h0M494.8 392.2h0M499.0 392.2h0M507.3 392.2h0M515.7 392.2h0M519.9 392.2h0M524.0 392.2h0M532.4 392.2h0M540.8 392.2h0M549.1 392.2h0M553.3 392.2h0M557.5 392.2h0M582.6 392.2h0M384.0 395.8h0M388.2 395.8h0M413.3 395.8h0M417.5 395.8h0M438.4 395.8h0M450.9 395.8h0M459.3 395.8h0M463.4 395.8h0M467.6 395.8h0M476.0 395.8h0M480.2 395.8h0M492.7 395.8h0M505.2 395.8h0M517.8 395.8h0M530.3 395.8h0M538.7 395.8h0M547.0 395.8h0M381.9 399.5h0M398.7 399.5h0M415.4 399.5h0M432.1 399.5h0M444.6 399.5h0M465.5 399.5h0M469.7 399.5h0M473.9 399.5h0M478.1 399.5h0M499.0 399.5h0M503.2 399.5h0M511.5 399.5h0M565.9 399.5h0M379.8 403.1h0M421.6 403.1h0M430.0 403.1h0M442.5 403.1h0M446.7 403.1h0M455.1 403.1h0M459.3 403.1h0M480.2 403.1h0M488.5 403.1h0M492.7 403.1h0M496.9 403.1h0M513.6 403.1h0M526.1 403.1h0M551.2 403.1h0M555.4 403.1h0M559.6 403.1h0M407.0 406.7h0M411.2 406.7h0M453.0 406.7h0M482.2 406.7h0M490.6 406.7h0M515.7 406.7h0M536.6 406.7h0M545.0 406.7h0M553.3 406.7h0M561.7 406.7h0M574.2 406.7h0M409.1 410.3h0M446.7 410.3h0M476.0 410.3h0M484.3 410.3h0M488.5 410.3h0M517.8 410.3h0M526.1 410.3h0M530.3 410.3h0M547.0 410.3h0M555.4 410.3h0M576.3 410.3h0M580.5 410.3h0M402.8 413.9h0M407.0 413.9h0M436.3 413.9h0M440.5 413.9h0M453.0 413.9h0M482.2 413.9h0M494.8 413.9h0M499.0 413.9h0M532.4 413.9h0M536.6 413.9h0M553.3 413.9h0M561.7 413.9h0M379.8 417.6h0M384.0 417.6h0M396.6 417.6h0M400.7 417.6h0M404.9 417.6h0M421.6 417.6h0M430.0 417.6h0M438.4 417.6h0M450.9 417.6h0M455.1 417.6h0M459.3 417.6h0M463.4 417.6h0M467.6 417.6h0M476.0 417.6h0M484.3 417.6h0M492.7 417.6h0M496.9 417.6h0M559.6 417.6h0M381.9 421.2h0M411.2 421.2h0M427.9 421.2h0M432.1 421.2h0M440.5 421.2h0M453.0 421.2h0M457.2 421.2h0M461.4 421.2h0M473.9 421.2h0M494.8 421.2h0M503.2 421.2h0M586.8 421.2h0M371.5 424.8h0M379.8 424.8h0M392.4 424.8h0M434.2 424.8h0M438.4 424.8h0M442.5 424.8h0M450.9 424.8h0M492.7 424.8h0M517.8 424.8h0M526.1 424.8h0M530.3 424.8h0M534.5 424.8h0M547.0 424.8h0M580.5 424.8h0M584.7 424.8h0M377.8 428.4h0M381.9 428.4h0M398.7 428.4h0M407.0 428.4h0M411.2 428.4h0M415.4 428.4h0M423.7 428.4h0M436.3 428.4h0M453.0 428.4h0M473.9 428.4h0M486.4 428.4h0M515.7 428.4h0M519.9 428.4h0M524.0 428.4h0M532.4 428.4h0M557.5 428.4h0M379.8 432.0h0M384.0 432.0h0M409.1 432.0h0M413.3 432.0h0M417.5 432.0h0M425.8 432.0h0M430.0 432.0h0M434.2 432.0h0M442.5 432.0h0M446.7 432.0h0M450.9 432.0h0M467.6 432.0h0M484.3 432.0h0M492.7 432.0h0M513.6 432.0h0M522.0 432.0h0M547.0 432.0h0M563.8 432.0h0M584.7 432.0h0M419.6 435.7h0M427.9 435.7h0M432.1 435.7h0M453.0 435.7h0M465.5 435.7h0M478.1 435.7h0M482.2 435.7h0M490.6 435.7h0M570.0 435.7h0M358.9 439.3h0M392.4 439.3h0M396.6 439.3h0M400.7 439.3h0M413.3 439.3h0M425.8 439.3h0M430.0 439.3h0M434.2 439.3h0M446.7 439.3h0M450.9 439.3h0M455.1 439.3h0M488.5 439.3h0M492.7 439.3h0M534.5 439.3h0M547.0 439.3h0M551.2 439.3h0M555.4 439.3h0M356.9 442.9h0M386.1 442.9h0M402.8 442.9h0M423.7 442.9h0M436.3 442.9h0M494.8 442.9h0M532.4 442.9h0M586.8 442.9h0M590.9 442.9h0M384.0 446.5h0M438.4 446.5h0M496.9 446.5h0M501.1 446.5h0M505.2 446.5h0M509.4 446.5h0M526.1 446.5h0M356.9 450.1h0M361.0 450.1h0M373.6 450.1h0M386.1 450.1h0M390.3 450.1h0M432.1 450.1h0M440.5 450.1h0M465.5 450.1h0M507.3 450.1h0M511.5 450.1h0M574.2 450.1h0M582.6 450.1h0M409.1 453.8h0M438.4 453.8h0M442.5 453.8h0M446.7 453.8h0M455.1 453.8h0M463.4 453.8h0M467.6 453.8h0M488.5 453.8h0M492.7 453.8h0M509.4 453.8h0M534.5 453.8h0M547.0 453.8h0M551.2 453.8h0M580.5 453.8h0M584.7 453.8h0M356.9 457.4h0M427.9 457.4h0M440.5 457.4h0M448.8 457.4h0M469.7 457.4h0M482.2 457.4h0M486.4 457.4h0M528.2 457.4h0M545.0 457.4h0M565.9 457.4h0M574.2 457.4h0M582.6 457.4h0M358.9 461.0h0M379.8 461.0h0M392.4 461.0h0M400.7 461.0h0M438.4 461.0h0M450.9 461.0h0M455.1 461.0h0M459.3 461.0h0M463.4 461.0h0M471.8 461.0h0M476.0 461.0h0M509.4 461.0h0M551.2 461.0h0M402.8 464.6h0M436.3 464.6h0M465.5 464.6h0M473.9 464.6h0M511.5 464.6h0M524.0 464.6h0M578.4 464.6h0M375.7 468.2h0M421.6 468.2h0M430.0 468.2h0M476.0 468.2h0M522.0 468.2h0M534.5 468.2h0M559.6 468.2h0M580.5 468.2h0M427.9 471.9h0M499.0 471.9h0M524.0 471.9h0M561.7 471.9h0M367.3 475.5h0M371.5 475.5h0M384.0 475.5h0M400.7 475.5h0M446.7 475.5h0M450.9 475.5h0M471.8 475.5h0M522.0 475.5h0M526.1 475.5h0M534.5 475.5h0M584.7 475.5h0M588.8 475.5h0M369.4 479.1h0M386.1 479.1h0M411.2 479.1h0M419.6 479.1h0M448.8 479.1h0M461.4 479.1h0M486.4 479.1h0M528.2 479.1h0M545.0 479.1h0M553.3 479.1h0M574.2 479.1h0M586.8 479.1h0M590.9 479.1h0M388.2 482.7h0M480.2 482.7h0M522.0 482.7h0M563.8 482.7h0M580.5 482.7h0M588.8 482.7h0M394.5 486.3h0M402.8 486.3h0M423.7 486.3h0M499.0 486.3h0M549.1 486.3h0M582.6 486.3h0M346.4 490.0h0M392.4 490.0h0M400.7 490.0h0M404.9 490.0h0M534.5 490.0h0M580.5 490.0h0M386.1 493.6h0M407.0 493.6h0M440.5 493.6h0M448.8 493.6h0M461.4 493.6h0M519.9 493.6h0M532.4 493.6h0M574.2 493.6h0M578.4 493.6h0M363.1 497.2h0M367.3 497.2h0M379.8 497.2h0M388.2 497.2h0M392.4 497.2h0M409.1 497.2h0M417.5 497.2h0M442.5 497.2h0M446.7 497.2h0M492.7 497.2h0M513.6 497.2h0M361.0 500.8h0M365.2 500.8h0M377.8 500.8h0M381.9 500.8h0M407.0 500.8h0M411.2 500.8h0M465.5 500.8h0M482.2 500.8h0M511.5 500.8h0M524.0 500.8h0M528.2 500.8h0M549.1 500.8h0M358.9 504.4h0M404.9 504.4h0M409.1 504.4h0M413.3 504.4h0M417.5 504.4h0M488.5 504.4h0M538.7 504.4h0M390.3 508.1h0M407.0 508.1h0M469.7 508.1h0M511.5 508.1h0M532.4 508.1h0M536.6 508.1h0M371.5 511.7h0M404.9 511.7h0M421.6 511.7h0M455.1 511.7h0M463.4 511.7h0M471.8 511.7h0M492.7 511.7h0M526.1 511.7h0M534.5 511.7h0M547.0 511.7h0M551.2 511.7h0M559.6 511.7h0M373.6 515.3h0M432.1 515.3h0M461.4 515.3h0M473.9 515.3h0M490.6 515.3h0M507.3 515.3h0M519.9 515.3h0M384.0 518.9h0M392.4 518.9h0M404.9 518.9h0M409.1 518.9h0M463.4 518.9h0M501.1 518.9h0M534.5 518.9h0M386.1 522.5h0M407.0 522.5h0M415.4 522.5h0M444.6 522.5h0M448.8 522.5h0M465.5 522.5h0M469.7 522.5h0M478.1 522.5h0M482.2 522.5h0M519.9 522.5h0M524.0 522.5h0M528.2 522.5h0M363.1 526.2h0M371.5 526.2h0M409.1 526.2h0M450.9 526.2h0M480.2 526.2h0M530.3 526.2h0M361.0 529.8h0M365.2 529.8h0M390.3 529.8h0M402.8 529.8h0M411.2 529.8h0M453.0 529.8h0M375.7 533.4h0M392.4 533.4h0M413.3 533.4h0M421.6 533.4h0M496.9 533.4h0M513.6 533.4h0M517.8 533.4h0M394.5 537.0h0M427.9 537.0h0M465.5 537.0h0M494.8 537.0h0M511.5 537.0h0M434.2 540.6h0M442.5 540.6h0M455.1 540.6h0M471.8 540.6h0M492.7 540.6h0M496.9 540.6h0M501.1 540.6h0M522.0 540.6h0M361.0 544.3h0M402.8 544.3h0M407.0 544.3h0M423.7 544.3h0M444.6 544.3h0M469.7 544.3h0M486.4 544.3h0M507.3 544.3h0M511.5 544.3h0M417.5 547.9h0M421.6 547.9h0M434.2 547.9h0M463.4 547.9h0M484.3 547.9h0M505.2 547.9h0M398.7 551.5h0M423.7 551.5h0M432.1 551.5h0M453.0 551.5h0M457.2 551.5h0M494.8 551.5h0M499.0 551.5h0M507.3 551.5h0M396.6 555.1h0M400.7 555.1h0M404.9 555.1h0M425.8 555.1h0M430.0 555.1h0M501.1 555.1h0M398.7 558.7h0M440.5 558.7h0M465.5 558.7h0M469.7 558.7h0M478.1 558.7h0M421.6 562.4h0M467.6 562.4h0M448.8 566.0h0M465.5 566.0h0M482.2 566.0h0M400.7 569.6h0M438.4 569.6h0M455.1 569.6h0M457.2 573.2h0M473.9 573.2h0M446.7 576.8h0M463.4 576.8h0M471.8 576.8h0M465.5 580.5h0M450.9 584.1h0" stroke="#421f1d" stroke-width="5.0" stroke-linecap="round" fill="none"/>
<path d="M463.4 316.2h0M471.8 316.2h0M492.7 316.2h0M513.6 316.2h0M517.8 316.2h0M522.0 316.2h0M559.6 316.2h0M440.5 319.8h0M503.2 319.8h0M507.3 319.8h0M515.7 319.8h0M519.9 319.8h0M524.0 319.8h0M545.0 319.8h0M549.1 319.8h0M570.0 319.8h0M586.8 319.8h0M421.6 323.4h0M438.4 323.4h0M459.3 323.4h0M480.2 323.4h0M505.2 323.4h0M509.4 323.4h0M547.0 323.4h0M551.2 323.4h0M555.4 323.4h0M423.7 327.1h0M427.9 327.1h0M478.1 327.1h0M486.4 327.1h0M503.2 327.1h0M528.2 327.1h0M532.4 327.1h0M545.0 327.1h0M565.9 327.1h0M586.8 327.1h0M590.9 327.1h0M430.0 330.7h0M434.2 330.7h0M488.5 330.7h0M492.7 330.7h0M496.9 330.7h0M505.2 330.7h0M509.4 330.7h0M522.0 330.7h0M526.1 330.7h0M542.9 330.7h0M567.9 330.7h0M588.8 330.7h0M461.4 334.3h0M465.5 334.3h0M469.7 334.3h0M473.9 334.3h0M486.4 334.3h0M494.8 334.3h0M503.2 334.3h0M507.3 334.3h0M511.5 334.3h0M515.7 334.3h0M536.6 334.3h0M553.3 334.3h0M586.8 334.3h0M590.9 334.3h0M430.0 337.9h0M434.2 337.9h0M438.4 337.9h0M442.5 337.9h0M488.5 337.9h0M501.1 337.9h0M509.4 337.9h0M513.6 337.9h0M530.3 337.9h0M538.7 337.9h0M542.9 337.9h0M551.2 337.9h0M555.4 337.9h0M559.6 337.9h0M563.8 337.9h0M576.3 337.9h0M580.5 337.9h0M436.3 341.5h0M440.5 341.5h0M444.6 341.5h0M457.2 341.5h0M469.7 341.5h0M499.0 341.5h0M507.3 341.5h0M532.4 341.5h0M553.3 341.5h0M565.9 341.5h0M574.2 341.5h0M582.6 341.5h0M586.8 341.5h0M590.9 341.5h0M438.4 345.2h0M480.2 345.2h0M505.2 345.2h0M513.6 345.2h0M517.8 345.2h0M534.5 345.2h0M538.7 345.2h0M551.2 345.2h0M555.4 345.2h0M567.9 345.2h0M584.7 345.2h0M588.8 345.2h0M440.5 348.8h0M478.1 348.8h0M503.2 348.8h0M515.7 348.8h0M519.9 348.8h0M532.4 348.8h0M553.3 348.8h0M557.5 348.8h0M561.7 348.8h0M570.0 348.8h0M586.8 348.8h0M590.9 348.8h0M409.1 352.4h0M417.5 352.4h0M455.1 352.4h0M476.0 352.4h0M505.2 352.4h0M509.4 352.4h0M522.0 352.4h0M551.2 352.4h0M563.8 352.4h0M567.9 352.4h0M572.1 352.4h0M584.7 352.4h0M398.7 356.0h0M407.0 356.0h0M415.4 356.0h0M423.7 356.0h0M444.6 356.0h0M453.0 356.0h0M473.9 356.0h0M503.2 356.0h0M532.4 356.0h0M545.0 356.0h0M549.1 356.0h0M570.0 356.0h0M388.2 359.6h0M400.7 359.6h0M446.7 359.6h0M509.4 359.6h0M513.6 359.6h0M522.0 359.6h0M584.7 359.6h0M407.0 363.3h0M423.7 363.3h0M427.9 363.3h0M444.6 363.3h0M448.8 363.3h0M473.9 363.3h0M490.6 363.3h0M503.2 363.3h0M524.0 363.3h0M553.3 363.3h0M574.2 363.3h0M578.4 363.3h0M421.6 366.9h0M430.0 366.9h0M434.2 366.9h0M446.7 366.9h0M450.9 366.9h0M455.1 366.9h0M459.3 366.9h0M463.4 366.9h0M492.7 366.9h0M517.8 366.9h0M534.5 366.9h0M538.7 366.9h0M551.2 366.9h0M580.5 366.9h0M588.8 366.9h0M415.4 370.5h0M457.2 370.5h0M461.4 370.5h0M465.5 370.5h0M469.7 370.5h0M473.9 370.5h0M490.6 370.5h0M499.0 370.5h0M540.8 370.5h0M549.1 370.5h0M553.3 370.5h0M400.7 374.1h0M434.2 374.1h0M538.7 374.1h0M555.4 374.1h0M559.6 374.1h0M390.3 377.7h0M402.8 377.7h0M407.0 377.7h0M436.3 377.7h0M440.5 377.7h0M444.6 377.7h0M511.5 377.7h0M536.6 377.7h0M540.8 377.7h0M404.9 381.4h0M425.8 381.4h0M442.5 381.4h0M446.7 381.4h0M488.5 381.4h0M505.2 381.4h0M534.5 381.4h0M407.0 385.0h0M427.9 385.0h0M486.4 385.0h0M511.5 385.0h0M524.0 385.0h0M561.7 385.0h0M586.8 385.0h0M404.9 388.6h0M409.1 388.6h0M459.3 388.6h0M509.4 388.6h0M572.1 388.6h0M576.3 388.6h0M373.6 392.2h0M402.8 392.2h0M407.0 392.2h0M440.5 392.2h0M453.0 392.2h0M457.2 392.2h0M486.4 392.2h0M565.9 392.2h0M404.9 395.8h0M522.0 395.8h0M534.5 395.8h0M584.7 395.8h0M461.4 399.5h0M519.9 399.5h0M528.2 399.5h0M553.3 399.5h0M561.7 399.5h0M384.0 403.1h0M434.2 403.1h0M505.2 403.1h0M534.5 403.1h0M538.7 403.1h0M588.8 403.1h0M381.9 406.7h0M394.5 406.7h0M398.7 406.7h0M461.4 406.7h0M465.5 406.7h0M494.8 406.7h0M519.9 406.7h0M524.0 406.7h0M532.4 406.7h0M540.8 406.7h0M557.5 406.7h0M578.4 406.7h0M582.6 406.7h0M586.8 406.7h0M590.9 406.7h0M384.0 410.3h0M400.7 410.3h0M413.3 410.3h0M438.4 410.3h0M459.3 410.3h0M492.7 410.3h0M542.9 410.3h0M559.6 410.3h0M377.8 413.9h0M486.4 413.9h0M503.2 413.9h0M540.8 413.9h0M549.1 413.9h0M574.2 413.9h0M578.4 413.9h0M582.6 413.9h0M371.5 417.6h0M434.2 417.6h0M542.9 417.6h0M547.0 417.6h0M551.2 417.6h0M555.4 417.6h0M584.7 417.6h0M519.9 421.2h0M545.0 421.2h0M582.6 421.2h0M590.9 421.2h0M384.0 424.8h0M404.9 424.8h0M409.1 424.8h0M413.3 424.8h0M476.0 424.8h0M480.2 424.8h0M551.2 424.8h0M555.4 424.8h0M386.1 428.4h0M440.5 428.4h0M478.1 428.4h0M494.8 428.4h0M540.8 428.4h0M549.1 428.4h0M371.5 432.0h0M480.2 432.0h0M517.8 432.0h0M530.3 432.0h0M542.9 432.0h0M423.7 435.7h0M528.2 435.7h0M532.4 435.7h0M540.8 435.7h0M545.0 435.7h0M549.1 435.7h0M384.0 439.3h0M522.0 439.3h0M538.7 439.3h0M373.6 442.9h0M482.2 442.9h0M524.0 442.9h0M528.2 442.9h0M540.8 442.9h0M545.0 442.9h0M574.2 442.9h0M582.6 442.9h0M371.5 446.5h0M375.7 446.5h0M379.8 446.5h0M409.1 446.5h0M421.6 446.5h0M442.5 446.5h0M446.7 446.5h0M476.0 446.5h0M484.3 446.5h0M488.5 446.5h0M492.7 446.5h0M530.3 446.5h0M534.5 446.5h0M542.9 446.5h0M580.5 446.5h0M423.7 450.1h0M448.8 450.1h0M453.0 450.1h0M457.2 450.1h0M486.4 450.1h0M545.0 450.1h0M565.9 450.1h0M586.8 450.1h0M590.9 450.1h0M358.9 453.8h0M363.1 453.8h0M371.5 453.8h0M396.6 453.8h0M404.9 453.8h0M417.5 453.8h0M505.2 453.8h0M538.7 453.8h0M542.9 453.8h0M555.4 453.8h0M559.6 453.8h0M588.8 453.8h0M377.8 457.4h0M465.5 457.4h0M503.2 457.4h0M507.3 457.4h0M511.5 457.4h0M515.7 457.4h0M553.3 457.4h0M557.5 457.4h0M363.1 461.0h0M375.7 461.0h0M404.9 461.0h0M417.5 461.0h0M421.6 461.0h0M467.6 461.0h0M513.6 461.0h0M517.8 461.0h0M538.7 461.0h0M377.8 464.6h0M407.0 464.6h0M432.1 464.6h0M469.7 464.6h0M486.4 464.6h0M499.0 464.6h0M515.7 464.6h0M536.6 464.6h0M561.7 464.6h0M565.9 464.6h0M434.2 468.2h0M438.4 468.2h0M467.6 468.2h0M484.3 468.2h0M488.5 468.2h0M492.7 468.2h0M509.4 468.2h0M526.1 468.2h0M381.9 471.9h0M398.7 471.9h0M423.7 471.9h0M440.5 471.9h0M486.4 471.9h0M494.8 471.9h0M507.3 471.9h0M553.3 471.9h0M417.5 475.5h0M421.6 475.5h0M484.3 475.5h0M488.5 475.5h0M505.2 475.5h0M555.4 475.5h0M415.4 479.1h0M457.2 479.1h0M478.1 479.1h0M503.2 479.1h0M507.3 479.1h0M540.8 479.1h0M442.5 482.7h0M450.9 482.7h0M476.0 482.7h0M505.2 482.7h0M509.4 482.7h0M559.6 482.7h0M567.9 482.7h0M584.7 482.7h0M398.7 486.3h0M419.6 486.3h0M427.9 486.3h0M444.6 486.3h0M448.8 486.3h0M482.2 486.3h0M486.4 486.3h0M515.7 486.3h0M519.9 486.3h0M590.9 486.3h0M421.6 490.0h0M425.8 490.0h0M430.0 490.0h0M434.2 490.0h0M446.7 490.0h0M471.8 490.0h0M476.0 490.0h0M480.2 490.0h0M522.0 490.0h0M526.1 490.0h0M538.7 490.0h0M559.6 490.0h0M427.9 493.6h0M432.1 493.6h0M436.3 493.6h0M453.0 493.6h0M482.2 493.6h0M536.6 493.6h0M425.8 497.2h0M430.0 497.2h0M438.4 497.2h0M463.4 497.2h0M467.6 497.2h0M526.1 497.2h0M530.3 497.2h0M394.5 500.8h0M423.7 500.8h0M436.3 500.8h0M565.9 500.8h0M396.6 504.4h0M400.7 504.4h0M421.6 504.4h0M425.8 504.4h0M430.0 504.4h0M434.2 504.4h0M442.5 504.4h0M463.4 504.4h0M467.6 504.4h0M471.8 504.4h0M484.3 504.4h0M377.8 508.1h0M394.5 508.1h0M402.8 508.1h0M411.2 508.1h0M419.6 508.1h0M427.9 508.1h0M432.1 508.1h0M448.8 508.1h0M461.4 508.1h0M465.5 508.1h0M478.1 508.1h0M486.4 508.1h0M524.0 508.1h0M363.1 511.7h0M367.3 511.7h0M384.0 511.7h0M400.7 511.7h0M417.5 511.7h0M430.0 511.7h0M450.9 511.7h0M476.0 511.7h0M480.2 511.7h0M509.4 511.7h0M513.6 511.7h0M365.2 515.3h0M369.4 515.3h0M398.7 515.3h0M407.0 515.3h0M411.2 515.3h0M419.6 515.3h0M423.7 515.3h0M427.9 515.3h0M448.8 515.3h0M453.0 515.3h0M469.7 515.3h0M478.1 515.3h0M482.2 515.3h0M515.7 515.3h0M536.6 515.3h0M367.3 518.9h0M413.3 518.9h0M417.5 518.9h0M430.0 518.9h0M442.5 518.9h0M455.1 518.9h0M459.3 518.9h0M471.8 518.9h0M484.3 518.9h0M492.7 518.9h0M505.2 518.9h0M509.4 518.9h0M517.8 518.9h0M390.3 522.5h0M394.5 522.5h0M432.1 522.5h0M453.0 522.5h0M507.3 522.5h0M358.9 526.2h0M384.0 526.2h0M388.2 526.2h0M392.4 526.2h0M396.6 526.2h0M413.3 526.2h0M425.8 526.2h0M438.4 526.2h0M455.1 526.2h0M459.3 526.2h0M463.4 526.2h0M476.0 526.2h0M488.5 526.2h0M496.9 526.2h0M513.6 526.2h0M517.8 526.2h0M526.1 526.2h0M407.0 529.8h0M419.6 529.8h0M440.5 529.8h0M457.2 529.8h0M461.4 529.8h0M494.8 529.8h0M515.7 529.8h0M519.9 529.8h0M524.0 529.8h0M379.8 533.4h0M417.5 533.4h0M442.5 533.4h0M455.1 533.4h0M480.2 533.4h0M484.3 533.4h0M526.1 533.4h0M411.2 537.0h0M415.4 537.0h0M419.6 537.0h0M423.7 537.0h0M436.3 537.0h0M440.5 537.0h0M444.6 537.0h0M453.0 537.0h0M469.7 537.0h0M473.9 537.0h0M478.1 537.0h0M486.4 537.0h0M490.6 537.0h0M384.0 540.6h0M409.1 540.6h0M413.3 540.6h0M417.5 540.6h0M425.8 540.6h0M446.7 540.6h0M459.3 540.6h0M463.4 540.6h0M467.6 540.6h0M476.0 540.6h0M488.5 540.6h0M513.6 540.6h0M377.8 544.3h0M386.1 544.3h0M415.4 544.3h0M419.6 544.3h0M427.9 544.3h0M440.5 544.3h0M453.0 544.3h0M457.2 544.3h0M465.5 544.3h0M473.9 544.3h0M478.1 544.3h0M482.2 544.3h0M499.0 544.3h0M519.9 544.3h0M409.1 547.9h0M425.8 547.9h0M430.0 547.9h0M446.7 547.9h0M459.3 547.9h0M467.6 547.9h0M496.9 547.9h0M501.1 547.9h0M394.5 551.5h0M415.4 551.5h0M419.6 551.5h0M444.6 551.5h0M448.8 551.5h0M409.1 555.1h0M413.3 555.1h0M434.2 555.1h0M442.5 555.1h0M463.4 555.1h0M492.7 555.1h0M496.9 555.1h0M427.9 558.7h0M448.8 558.7h0M461.4 558.7h0M473.9 558.7h0M417.5 562.4h0M434.2 562.4h0M446.7 562.4h0M476.0 562.4h0M492.7 562.4h0M411.2 566.0h0M415.4 566.0h0M419.6 566.0h0M423.7 566.0h0M427.9 566.0h0M432.1 566.0h0M436.3 566.0h0M444.6 566.0h0M457.2 566.0h0M461.4 566.0h0M409.1 569.6h0M413.3 569.6h0M430.0 569.6h0M442.5 569.6h0M459.3 569.6h0M463.4 569.6h0M407.0 573.2h0M415.4 573.2h0M432.1 573.2h0M436.3 573.2h0M440.5 573.2h0M444.6 573.2h0M461.4 573.2h0M465.5 573.2h0M417.5 576.8h0M421.6 576.8h0M425.8 576.8h0M438.4 576.8h0M442.5 576.8h0M450.9 576.8h0M411.2 580.5h0M419.6 580.5h0M423.7 580.5h0M432.1 580.5h0M440.5 580.5h0M444.6 580.5h0M448.8 580.5h0M453.0 580.5h0M409.1 584.1h0M413.3 584.1h0M438.4 584.1h0M459.3 584.1h0M463.4 584.1h0" stroke="#3a2600" stroke-width="5.0" stroke-linecap="round" fill="none"/>
<path d="M438.4 316.2h0M459.3 316.2h0M476.0 316.2h0M526.1 316.2h0M584.7 316.2h0M423.7 319.8h0M482.2 319.8h0M574.2 319.8h0M578.4 319.8h0M425.8 323.4h0M430.0 323.4h0M434.2 323.4h0M522.0 323.4h0M576.3 323.4h0M432.1 327.1h0M461.4 327.1h0M465.5 327.1h0M469.7 327.1h0M473.9 327.1h0M511.5 327.1h0M524.0 327.1h0M578.4 327.1h0M459.3 330.7h0M467.6 330.7h0M484.3 330.7h0M547.0 330.7h0M563.8 330.7h0M576.3 330.7h0M440.5 334.3h0M448.8 334.3h0M482.2 334.3h0M519.9 334.3h0M540.8 334.3h0M549.1 334.3h0M557.5 334.3h0M565.9 334.3h0M574.2 334.3h0M578.4 334.3h0M446.7 337.9h0M467.6 337.9h0M480.2 337.9h0M567.9 337.9h0M572.1 337.9h0M423.7 341.5h0M448.8 341.5h0M461.4 341.5h0M465.5 341.5h0M486.4 341.5h0M490.6 341.5h0M503.2 341.5h0M545.0 341.5h0M549.1 341.5h0M570.0 341.5h0M404.9 345.2h0M446.7 345.2h0M450.9 345.2h0M471.8 345.2h0M476.0 345.2h0M522.0 345.2h0M542.9 345.2h0M572.1 345.2h0M415.4 348.8h0M444.6 348.8h0M461.4 348.8h0M473.9 348.8h0M528.2 348.8h0M582.6 348.8h0M413.3 352.4h0M467.6 352.4h0M471.8 352.4h0M496.9 352.4h0M513.6 352.4h0M517.8 352.4h0M526.1 352.4h0M530.3 352.4h0M534.5 352.4h0M538.7 352.4h0M588.8 352.4h0M427.9 356.0h0M499.0 356.0h0M507.3 356.0h0M519.9 356.0h0M524.0 356.0h0M528.2 356.0h0M536.6 356.0h0M540.8 356.0h0M565.9 356.0h0M578.4 356.0h0M582.6 356.0h0M438.4 359.6h0M517.8 359.6h0M547.0 359.6h0M559.6 359.6h0M572.1 359.6h0M576.3 359.6h0M580.5 359.6h0M398.7 363.3h0M432.1 363.3h0M436.3 363.3h0M440.5 363.3h0M453.0 363.3h0M465.5 363.3h0M469.7 363.3h0M482.2 363.3h0M499.0 363.3h0M519.9 363.3h0M536.6 363.3h0M540.8 363.3h0M549.1 363.3h0M557.5 363.3h0M561.7 363.3h0M442.5 366.9h0M496.9 366.9h0M505.2 366.9h0M513.6 366.9h0M522.0 366.9h0M559.6 366.9h0M572.1 366.9h0M519.9 370.5h0M524.0 370.5h0M536.6 370.5h0M404.9 374.1h0M409.1 374.1h0M471.8 374.1h0M488.5 374.1h0M517.8 374.1h0M542.9 374.1h0M551.2 374.1h0M411.2 377.7h0M419.6 377.7h0M473.9 377.7h0M478.1 377.7h0M482.2 377.7h0M557.5 377.7h0M561.7 377.7h0M582.6 377.7h0M586.8 377.7h0M450.9 381.4h0M513.6 381.4h0M551.2 381.4h0M390.3 385.0h0M394.5 385.0h0M398.7 385.0h0M415.4 385.0h0M419.6 385.0h0M423.7 385.0h0M448.8 385.0h0M515.7 385.0h0M540.8 385.0h0M565.9 385.0h0M392.4 388.6h0M396.6 388.6h0M413.3 388.6h0M446.7 388.6h0M522.0 388.6h0M567.9 388.6h0M415.4 392.2h0M444.6 392.2h0M448.8 392.2h0M461.4 392.2h0M490.6 392.2h0M503.2 392.2h0M511.5 392.2h0M545.0 392.2h0M570.0 392.2h0M379.8 395.8h0M392.4 395.8h0M421.6 395.8h0M442.5 395.8h0M446.7 395.8h0M484.3 395.8h0M488.5 395.8h0M513.6 395.8h0M559.6 395.8h0M567.9 395.8h0M580.5 395.8h0M390.3 399.5h0M407.0 399.5h0M419.6 399.5h0M423.7 399.5h0M440.5 399.5h0M448.8 399.5h0M482.2 399.5h0M486.4 399.5h0M490.6 399.5h0M494.8 399.5h0M557.5 399.5h0M586.8 399.5h0M388.2 403.1h0M396.6 403.1h0M476.0 403.1h0M484.3 403.1h0M509.4 403.1h0M542.9 403.1h0M563.8 403.1h0M567.9 403.1h0M584.7 403.1h0M386.1 406.7h0M390.3 406.7h0M402.8 406.7h0M423.7 406.7h0M440.5 406.7h0M444.6 406.7h0M448.8 406.7h0M570.0 406.7h0M396.6 410.3h0M404.9 410.3h0M417.5 410.3h0M421.6 410.3h0M425.8 410.3h0M442.5 410.3h0M455.1 410.3h0M551.2 410.3h0M563.8 410.3h0M584.7 410.3h0M588.8 410.3h0M415.4 413.9h0M419.6 413.9h0M423.7 413.9h0M432.1 413.9h0M469.7 413.9h0M490.6 413.9h0M511.5 413.9h0M515.7 413.9h0M519.9 413.9h0M528.2 413.9h0M545.0 413.9h0M586.8 413.9h0M375.7 417.6h0M417.5 417.6h0M425.8 417.6h0M442.5 417.6h0M446.7 417.6h0M488.5 417.6h0M505.2 417.6h0M526.1 417.6h0M538.7 417.6h0M567.9 417.6h0M588.8 417.6h0M386.1 421.2h0M390.3 421.2h0M402.8 421.2h0M423.7 421.2h0M444.6 421.2h0M482.2 421.2h0M536.6 421.2h0M553.3 421.2h0M561.7 421.2h0M417.5 424.8h0M446.7 424.8h0M459.3 424.8h0M463.4 424.8h0M509.4 424.8h0M513.6 424.8h0M538.7 424.8h0M563.8 424.8h0M588.8 424.8h0M394.5 428.4h0M402.8 428.4h0M427.9 428.4h0M448.8 428.4h0M457.2 428.4h0M461.4 428.4h0M482.2 428.4h0M499.0 428.4h0M503.2 428.4h0M528.2 428.4h0M574.2 428.4h0M590.9 428.4h0M375.7 432.0h0M396.6 432.0h0M455.1 432.0h0M459.3 432.0h0M501.1 432.0h0M505.2 432.0h0M551.2 432.0h0M580.5 432.0h0M588.8 432.0h0M377.8 435.7h0M398.7 435.7h0M402.8 435.7h0M411.2 435.7h0M436.3 435.7h0M440.5 435.7h0M457.2 435.7h0M494.8 435.7h0M499.0 435.7h0M515.7 435.7h0M524.0 435.7h0M565.9 435.7h0M586.8 435.7h0M590.9 435.7h0M409.1 439.3h0M438.4 439.3h0M463.4 439.3h0M480.2 439.3h0M484.3 439.3h0M513.6 439.3h0M517.8 439.3h0M526.1 439.3h0M530.3 439.3h0M542.9 439.3h0M559.6 439.3h0M588.8 439.3h0M365.2 442.9h0M377.8 442.9h0M381.9 442.9h0M411.2 442.9h0M415.4 442.9h0M427.9 442.9h0M444.6 442.9h0M448.8 442.9h0M461.4 442.9h0M486.4 442.9h0M490.6 442.9h0M499.0 442.9h0M503.2 442.9h0M507.3 442.9h0M536.6 442.9h0M549.1 442.9h0M553.3 442.9h0M570.0 442.9h0M413.3 446.5h0M425.8 446.5h0M434.2 446.5h0M471.8 446.5h0M538.7 446.5h0M551.2 446.5h0M555.4 446.5h0M559.6 446.5h0M576.3 446.5h0M588.8 446.5h0M402.8 450.1h0M436.3 450.1h0M482.2 450.1h0M494.8 450.1h0M503.2 450.1h0M524.0 450.1h0M528.2 450.1h0M532.4 450.1h0M536.6 450.1h0M540.8 450.1h0M557.5 450.1h0M561.7 450.1h0M400.7 453.8h0M421.6 453.8h0M434.2 453.8h0M450.9 453.8h0M476.0 453.8h0M484.3 453.8h0M563.8 453.8h0M402.8 457.4h0M407.0 457.4h0M411.2 457.4h0M419.6 457.4h0M432.1 457.4h0M436.3 457.4h0M444.6 457.4h0M453.0 457.4h0M457.2 457.4h0M490.6 457.4h0M494.8 457.4h0M524.0 457.4h0M425.8 461.0h0M442.5 461.0h0M446.7 461.0h0M492.7 461.0h0M501.1 461.0h0M505.2 461.0h0M526.1 461.0h0M530.3 461.0h0M567.9 461.0h0M576.3 461.0h0M373.6 464.6h0M411.2 464.6h0M448.8 464.6h0M457.2 464.6h0M482.2 464.6h0M490.6 464.6h0M503.2 464.6h0M519.9 464.6h0M528.2 464.6h0M549.1 464.6h0M553.3 464.6h0M371.5 468.2h0M450.9 468.2h0M455.1 468.2h0M463.4 468.2h0M471.8 468.2h0M480.2 468.2h0M542.9 468.2h0M453.0 471.9h0M461.4 471.9h0M465.5 471.9h0M478.1 471.9h0M482.2 471.9h0M515.7 471.9h0M519.9 471.9h0M528.2 471.9h0M532.4 471.9h0M363.1 475.5h0M375.7 475.5h0M379.8 475.5h0M396.6 475.5h0M404.9 475.5h0M409.1 475.5h0M430.0 475.5h0M455.1 475.5h0M459.3 475.5h0M463.4 475.5h0M509.4 475.5h0M530.3 475.5h0M365.2 479.1h0M407.0 479.1h0M432.1 479.1h0M440.5 479.1h0M473.9 479.1h0M384.0 482.7h0M404.9 482.7h0M409.1 482.7h0M417.5 482.7h0M463.4 482.7h0M467.6 482.7h0M471.8 482.7h0M484.3 482.7h0M488.5 482.7h0M496.9 482.7h0M501.1 482.7h0M530.3 482.7h0M538.7 482.7h0M542.9 482.7h0M361.0 486.3h0M390.3 486.3h0M407.0 486.3h0M411.2 486.3h0M432.1 486.3h0M461.4 486.3h0M465.5 486.3h0M469.7 486.3h0M473.9 486.3h0M478.1 486.3h0M507.3 486.3h0M528.2 486.3h0M540.8 486.3h0M545.0 486.3h0M371.5 490.0h0M379.8 490.0h0M384.0 490.0h0M413.3 490.0h0M438.4 490.0h0M459.3 490.0h0M467.6 490.0h0M484.3 490.0h0M509.4 490.0h0M542.9 490.0h0M381.9 493.6h0M390.3 493.6h0M394.5 493.6h0M398.7 493.6h0M411.2 493.6h0M415.4 493.6h0M469.7 493.6h0M507.3 493.6h0M528.2 493.6h0M434.2 497.2h0M471.8 497.2h0M505.2 497.2h0M517.8 497.2h0M356.9 500.8h0M427.9 500.8h0M432.1 500.8h0M444.6 500.8h0M469.7 500.8h0M473.9 500.8h0M478.1 500.8h0M515.7 500.8h0M446.7 504.4h0M455.1 504.4h0M398.7 508.1h0M415.4 508.1h0M423.7 508.1h0M473.9 508.1h0M482.2 508.1h0M519.9 508.1h0M545.0 508.1h0M409.1 511.7h0M413.3 511.7h0M438.4 511.7h0M442.5 511.7h0M522.0 511.7h0M530.3 511.7h0M348.5 515.3h0M402.8 515.3h0M415.4 515.3h0M444.6 515.3h0M457.2 515.3h0M465.5 515.3h0M494.8 515.3h0M363.1 518.9h0M400.7 518.9h0M446.7 518.9h0M450.9 518.9h0M522.0 518.9h0M538.7 518.9h0M373.6 522.5h0M381.9 522.5h0M398.7 522.5h0M411.2 522.5h0M419.6 522.5h0M427.9 522.5h0M457.2 522.5h0M494.8 522.5h0M404.9 526.2h0M421.6 526.2h0M467.6 526.2h0M492.7 526.2h0M386.1 529.8h0M398.7 529.8h0M427.9 529.8h0M444.6 529.8h0M511.5 529.8h0M528.2 529.8h0M396.6 533.4h0M425.8 533.4h0M446.7 533.4h0M450.9 533.4h0M390.3 537.0h0M448.8 537.0h0M457.2 537.0h0M515.7 537.0h0M524.0 537.0h0M354.8 540.6h0M480.2 540.6h0M356.9 544.3h0M381.9 544.3h0M490.6 544.3h0M503.2 544.3h0M392.4 547.9h0M396.6 547.9h0M455.1 547.9h0M471.8 547.9h0M476.0 547.9h0M492.7 547.9h0M427.9 551.5h0M469.7 551.5h0M473.9 551.5h0M478.1 551.5h0M438.4 555.1h0M476.0 555.1h0M480.2 555.1h0M402.8 558.7h0M423.7 558.7h0M432.1 558.7h0M436.3 558.7h0M444.6 558.7h0M409.1 562.4h0M413.3 562.4h0M442.5 562.4h0M450.9 562.4h0M455.1 562.4h0M480.2 562.4h0M484.3 562.4h0M407.0 566.0h0M440.5 566.0h0M417.5 569.6h0M419.6 573.2h0M459.3 576.8h0" stroke="#2c2c00" stroke-width="5.0" stroke-linecap="round" fill="none"/>
<path d="M536.6 319.8h0M565.9 319.8h0M467.6 323.4h0M501.1 323.4h0M567.9 323.4h0M588.8 323.4h0M419.6 327.1h0M499.0 327.1h0M413.3 330.7h0M411.2 334.3h0M444.6 334.3h0M409.1 337.9h0M413.3 337.9h0M417.5 337.9h0M492.7 337.9h0M432.1 341.5h0M561.7 341.5h0M409.1 345.2h0M425.8 345.2h0M459.3 345.2h0M463.4 345.2h0M559.6 345.2h0M563.8 345.2h0M407.0 348.8h0M423.7 348.8h0M457.2 348.8h0M574.2 348.8h0M578.4 348.8h0M400.7 352.4h0M404.9 352.4h0M459.3 352.4h0M463.4 352.4h0M542.9 352.4h0M547.0 352.4h0M448.8 356.0h0M392.4 359.6h0M396.6 359.6h0M421.6 359.6h0M501.1 359.6h0M588.8 359.6h0M381.9 363.3h0M386.1 363.3h0M461.4 363.3h0M528.2 363.3h0M545.0 363.3h0M570.0 363.3h0M582.6 363.3h0M400.7 366.9h0M404.9 366.9h0M409.1 366.9h0M413.3 366.9h0M467.6 366.9h0M501.1 366.9h0M584.7 366.9h0M402.8 370.5h0M407.0 370.5h0M436.3 370.5h0M450.9 374.1h0M501.1 374.1h0M394.5 377.7h0M398.7 377.7h0M453.0 377.7h0M524.0 377.7h0M532.4 377.7h0M392.4 381.4h0M396.6 381.4h0M421.6 381.4h0M480.2 381.4h0M555.4 381.4h0M440.5 385.0h0M494.8 385.0h0M503.2 385.0h0M388.2 388.6h0M442.5 388.6h0M377.8 392.2h0M390.3 392.2h0M528.2 392.2h0M536.6 392.2h0M586.8 392.2h0M371.5 395.8h0M375.7 395.8h0M409.1 395.8h0M425.8 395.8h0M430.0 395.8h0M471.8 395.8h0M588.8 395.8h0M373.6 399.5h0M386.1 399.5h0M402.8 399.5h0M427.9 399.5h0M515.7 399.5h0M524.0 399.5h0M549.1 399.5h0M371.5 403.1h0M417.5 403.1h0M425.8 403.1h0M463.4 403.1h0M517.8 403.1h0M522.0 403.1h0M419.6 406.7h0M427.9 406.7h0M432.1 406.7h0M436.3 406.7h0M565.9 406.7h0M371.5 410.3h0M392.4 410.3h0M434.2 410.3h0M450.9 410.3h0M522.0 410.3h0M567.9 410.3h0M572.1 410.3h0M373.6 413.9h0M381.9 413.9h0M524.0 413.9h0M565.9 413.9h0M388.2 417.6h0M480.2 417.6h0M373.6 421.2h0M394.5 421.2h0M478.1 421.2h0M565.9 421.2h0M570.0 421.2h0M375.7 424.8h0M421.6 424.8h0M567.9 424.8h0M373.6 428.4h0M570.0 428.4h0M388.2 432.0h0M488.5 432.0h0M526.1 432.0h0M534.5 432.0h0M538.7 432.0h0M559.6 432.0h0M365.2 435.7h0M369.4 435.7h0M381.9 435.7h0M444.6 435.7h0M448.8 435.7h0M469.7 435.7h0M473.9 435.7h0M557.5 435.7h0M363.1 439.3h0M367.3 439.3h0M379.8 439.3h0M417.5 439.3h0M572.1 439.3h0M361.0 442.9h0M369.4 442.9h0M419.6 442.9h0M453.0 442.9h0M515.7 442.9h0M358.9 446.5h0M363.1 446.5h0M367.3 446.5h0M396.6 446.5h0M417.5 446.5h0M450.9 446.5h0M459.3 446.5h0M522.0 446.5h0M563.8 446.5h0M567.9 446.5h0M572.1 446.5h0M584.7 446.5h0M369.4 450.1h0M377.8 450.1h0M381.9 450.1h0M394.5 450.1h0M398.7 450.1h0M407.0 450.1h0M444.6 450.1h0M490.6 450.1h0M367.3 453.8h0M384.0 453.8h0M388.2 453.8h0M392.4 453.8h0M425.8 453.8h0M501.1 453.8h0M567.9 453.8h0M572.1 453.8h0M361.0 457.4h0M365.2 457.4h0M373.6 457.4h0M386.1 457.4h0M394.5 457.4h0M398.7 457.4h0M499.0 457.4h0M519.9 457.4h0M532.4 457.4h0M549.1 457.4h0M570.0 457.4h0M586.8 457.4h0M590.9 457.4h0M367.3 461.0h0M371.5 461.0h0M430.0 461.0h0M434.2 461.0h0M522.0 461.0h0M572.1 461.0h0M580.5 461.0h0M584.7 461.0h0M588.8 461.0h0M365.2 464.6h0M369.4 464.6h0M386.1 464.6h0M390.3 464.6h0M461.4 464.6h0M507.3 464.6h0M532.4 464.6h0M574.2 464.6h0M582.6 464.6h0M363.1 468.2h0M367.3 468.2h0M379.8 468.2h0M459.3 468.2h0M517.8 468.2h0M563.8 468.2h0M584.7 468.2h0M588.8 468.2h0M356.9 471.9h0M361.0 471.9h0M365.2 471.9h0M369.4 471.9h0M373.6 471.9h0M377.8 471.9h0M394.5 471.9h0M436.3 471.9h0M457.2 471.9h0M511.5 471.9h0M545.0 471.9h0M549.1 471.9h0M565.9 471.9h0M570.0 471.9h0M574.2 471.9h0M578.4 471.9h0M582.6 471.9h0M586.8 471.9h0M590.9 471.9h0M354.8 475.5h0M358.9 475.5h0M442.5 475.5h0M476.0 475.5h0M513.6 475.5h0M517.8 475.5h0M542.9 475.5h0M547.0 475.5h0M551.2 475.5h0M559.6 475.5h0M563.8 475.5h0M572.1 475.5h0M576.3 475.5h0M580.5 475.5h0M356.9 479.1h0M361.0 479.1h0M373.6 479.1h0M394.5 479.1h0M398.7 479.1h0M402.8 479.1h0M427.9 479.1h0M436.3 479.1h0M511.5 479.1h0M549.1 479.1h0M557.5 479.1h0M561.7 479.1h0M565.9 479.1h0M354.8 482.7h0M358.9 482.7h0M363.1 482.7h0M367.3 482.7h0M375.7 482.7h0M379.8 482.7h0M392.4 482.7h0M425.8 482.7h0M438.4 482.7h0M526.1 482.7h0M547.0 482.7h0M551.2 482.7h0M555.4 482.7h0M572.1 482.7h0M356.9 486.3h0M377.8 486.3h0M386.1 486.3h0M490.6 486.3h0M532.4 486.3h0M536.6 486.3h0M557.5 486.3h0M561.7 486.3h0M574.2 486.3h0M586.8 486.3h0M350.6 490.0h0M354.8 490.0h0M388.2 490.0h0M396.6 490.0h0M417.5 490.0h0M455.1 490.0h0M517.8 490.0h0M547.0 490.0h0M551.2 490.0h0M563.8 490.0h0M567.9 490.0h0M584.7 490.0h0M344.3 493.6h0M348.5 493.6h0M352.7 493.6h0M361.0 493.6h0M365.2 493.6h0M377.8 493.6h0M457.2 493.6h0M486.4 493.6h0M524.0 493.6h0M540.8 493.6h0M545.0 493.6h0M549.1 493.6h0M557.5 493.6h0M561.7 493.6h0M565.9 493.6h0M570.0 493.6h0M582.6 493.6h0M346.4 497.2h0M350.6 497.2h0M354.8 497.2h0M358.9 497.2h0M371.5 497.2h0M375.7 497.2h0M384.0 497.2h0M396.6 497.2h0M400.7 497.2h0M404.9 497.2h0M413.3 497.2h0M459.3 497.2h0M480.2 497.2h0M534.5 497.2h0M538.7 497.2h0M542.9 497.2h0M547.0 497.2h0M555.4 497.2h0M559.6 497.2h0M567.9 497.2h0M572.1 497.2h0M576.3 497.2h0M348.5 500.8h0M352.7 500.8h0M369.4 500.8h0M373.6 500.8h0M390.3 500.8h0M402.8 500.8h0M415.4 500.8h0M448.8 500.8h0M453.0 500.8h0M457.2 500.8h0M461.4 500.8h0M503.2 500.8h0M507.3 500.8h0M519.9 500.8h0M532.4 500.8h0M536.6 500.8h0M540.8 500.8h0M545.0 500.8h0M553.3 500.8h0M570.0 500.8h0M574.2 500.8h0M350.6 504.4h0M354.8 504.4h0M363.1 504.4h0M367.3 504.4h0M371.5 504.4h0M375.7 504.4h0M501.1 504.4h0M509.4 504.4h0M517.8 504.4h0M522.0 504.4h0M534.5 504.4h0M542.9 504.4h0M547.0 504.4h0M555.4 504.4h0M563.8 504.4h0M567.9 504.4h0M348.5 508.1h0M356.9 508.1h0M365.2 508.1h0M369.4 508.1h0M373.6 508.1h0M381.9 508.1h0M386.1 508.1h0M507.3 508.1h0M515.7 508.1h0M540.8 508.1h0M549.1 508.1h0M553.3 508.1h0M565.9 508.1h0M350.6 511.7h0M354.8 511.7h0M358.9 511.7h0M379.8 511.7h0M388.2 511.7h0M459.3 511.7h0M517.8 511.7h0M538.7 511.7h0M356.9 515.3h0M361.0 515.3h0M377.8 515.3h0M390.3 515.3h0M499.0 515.3h0M524.0 515.3h0M528.2 515.3h0M540.8 515.3h0M549.1 515.3h0M553.3 515.3h0M350.6 518.9h0M354.8 518.9h0M358.9 518.9h0M371.5 518.9h0M375.7 518.9h0M379.8 518.9h0M421.6 518.9h0M425.8 518.9h0M513.6 518.9h0M542.9 518.9h0M348.5 522.5h0M352.7 522.5h0M356.9 522.5h0M365.2 522.5h0M369.4 522.5h0M377.8 522.5h0M402.8 522.5h0M436.3 522.5h0M486.4 522.5h0M499.0 522.5h0M515.7 522.5h0M540.8 522.5h0M350.6 526.2h0M354.8 526.2h0M367.3 526.2h0M375.7 526.2h0M400.7 526.2h0M522.0 526.2h0M538.7 526.2h0M352.7 529.8h0M356.9 529.8h0M369.4 529.8h0M373.6 529.8h0M377.8 529.8h0M381.9 529.8h0M394.5 529.8h0M432.1 529.8h0M436.3 529.8h0M486.4 529.8h0M490.6 529.8h0M499.0 529.8h0M503.2 529.8h0M532.4 529.8h0M358.9 533.4h0M363.1 533.4h0M367.3 533.4h0M371.5 533.4h0M388.2 533.4h0M409.1 533.4h0M430.0 533.4h0M509.4 533.4h0M530.3 533.4h0M352.7 537.0h0M361.0 537.0h0M365.2 537.0h0M369.4 537.0h0M373.6 537.0h0M377.8 537.0h0M381.9 537.0h0M386.1 537.0h0M432.1 537.0h0M482.2 537.0h0M358.9 540.6h0M363.1 540.6h0M367.3 540.6h0M371.5 540.6h0M375.7 540.6h0M379.8 540.6h0M388.2 540.6h0M392.4 540.6h0M396.6 540.6h0M484.3 540.6h0M509.4 540.6h0M365.2 544.3h0M369.4 544.3h0M373.6 544.3h0M390.3 544.3h0M394.5 544.3h0M398.7 544.3h0M411.2 544.3h0M515.7 544.3h0M371.5 547.9h0M375.7 547.9h0M384.0 547.9h0M413.3 547.9h0M438.4 547.9h0M442.5 547.9h0M488.5 547.9h0M509.4 547.9h0M513.6 547.9h0M377.8 551.5h0M386.1 551.5h0M436.3 551.5h0M440.5 551.5h0M465.5 551.5h0M486.4 551.5h0M490.6 551.5h0M384.0 555.1h0M388.2 555.1h0M392.4 555.1h0M455.1 555.1h0M407.0 558.7h0M411.2 558.7h0M415.4 558.7h0M453.0 558.7h0M457.2 558.7h0M482.2 558.7h0M490.6 558.7h0M494.8 558.7h0M404.9 562.4h0M425.8 562.4h0M430.0 562.4h0M471.8 562.4h0M488.5 562.4h0M398.7 566.0h0M402.8 566.0h0M453.0 566.0h0M473.9 566.0h0M421.6 569.6h0M450.9 569.6h0M484.3 569.6h0M402.8 573.2h0M411.2 573.2h0M423.7 573.2h0M482.2 573.2h0M404.9 576.8h0M409.1 576.8h0M413.3 576.8h0M455.1 576.8h0M407.0 580.5h0M436.3 580.5h0M457.2 580.5h0M469.7 580.5h0M473.9 580.5h0M417.5 584.1h0M421.6 584.1h0M425.8 584.1h0M430.0 584.1h0M434.2 584.1h0M442.5 584.1h0M446.7 584.1h0M455.1 584.1h0M471.8 584.1h0" stroke="#0f3100" stroke-width="5.0" stroke-linecap="round" fill="none"/>
<path d="M446.7 316.2h0M450.9 316.2h0M455.1 316.2h0M467.6 316.2h0M484.3 316.2h0M505.2 316.2h0M444.6 319.8h0M461.4 319.8h0M465.5 319.8h0M450.9 323.4h0M463.4 323.4h0M492.7 323.4h0M526.1 323.4h0M530.3 323.4h0M538.7 323.4h0M436.3 327.1h0M457.2 327.1h0M490.6 327.1h0M515.7 327.1h0M519.9 327.1h0M570.0 327.1h0M574.2 327.1h0M438.4 330.7h0M446.7 330.7h0M455.1 330.7h0M476.0 330.7h0M517.8 330.7h0M572.1 330.7h0M580.5 330.7h0M432.1 334.3h0M436.3 334.3h0M453.0 334.3h0M457.2 334.3h0M490.6 334.3h0M499.0 334.3h0M545.0 334.3h0M570.0 334.3h0M463.4 337.9h0M496.9 337.9h0M517.8 337.9h0M415.4 341.5h0M478.1 341.5h0M482.2 341.5h0M511.5 341.5h0M515.7 341.5h0M578.4 341.5h0M430.0 345.2h0M455.1 345.2h0M484.3 345.2h0M488.5 345.2h0M501.1 345.2h0M547.0 345.2h0M419.6 348.8h0M465.5 348.8h0M469.7 348.8h0M490.6 348.8h0M494.8 348.8h0M499.0 348.8h0M430.0 352.4h0M438.4 352.4h0M442.5 352.4h0M488.5 352.4h0M492.7 352.4h0M555.4 352.4h0M559.6 352.4h0M402.8 356.0h0M411.2 356.0h0M432.1 356.0h0M440.5 356.0h0M469.7 356.0h0M490.6 356.0h0M494.8 356.0h0M450.9 359.6h0M459.3 359.6h0M492.7 359.6h0M496.9 359.6h0M526.1 359.6h0M542.9 359.6h0M567.9 359.6h0M411.2 363.3h0M415.4 363.3h0M457.2 363.3h0M494.8 363.3h0M565.9 363.3h0M417.5 366.9h0M471.8 366.9h0M476.0 366.9h0M555.4 366.9h0M419.6 370.5h0M440.5 370.5h0M494.8 370.5h0M511.5 370.5h0M528.2 370.5h0M532.4 370.5h0M545.0 370.5h0M557.5 370.5h0M570.0 370.5h0M574.2 370.5h0M578.4 370.5h0M582.6 370.5h0M586.8 370.5h0M438.4 374.1h0M442.5 374.1h0M467.6 374.1h0M484.3 374.1h0M496.9 374.1h0M530.3 374.1h0M572.1 374.1h0M576.3 374.1h0M580.5 374.1h0M465.5 377.7h0M469.7 377.7h0M486.4 377.7h0M494.8 377.7h0M570.0 377.7h0M400.7 381.4h0M417.5 381.4h0M430.0 381.4h0M455.1 381.4h0M476.0 381.4h0M530.3 381.4h0M542.9 381.4h0M572.1 381.4h0M432.1 385.0h0M436.3 385.0h0M528.2 385.0h0M545.0 385.0h0M549.1 385.0h0M574.2 385.0h0M430.0 388.6h0M434.2 388.6h0M438.4 388.6h0M555.4 388.6h0M386.1 392.2h0M394.5 392.2h0M398.7 392.2h0M432.1 392.2h0M473.9 392.2h0M561.7 392.2h0M574.2 392.2h0M590.9 392.2h0M396.6 395.8h0M501.1 395.8h0M542.9 395.8h0M551.2 395.8h0M555.4 395.8h0M563.8 395.8h0M572.1 395.8h0M394.5 399.5h0M411.2 399.5h0M532.4 399.5h0M545.0 399.5h0M574.2 399.5h0M578.4 399.5h0M400.7 403.1h0M404.9 403.1h0M409.1 403.1h0M413.3 403.1h0M438.4 403.1h0M450.9 403.1h0M530.3 403.1h0M576.3 403.1h0M377.8 406.7h0M469.7 406.7h0M478.1 406.7h0M486.4 406.7h0M507.3 406.7h0M511.5 406.7h0M528.2 406.7h0M467.6 410.3h0M480.2 410.3h0M509.4 410.3h0M513.6 410.3h0M390.3 413.9h0M465.5 413.9h0M478.1 413.9h0M392.4 417.6h0M413.3 417.6h0M509.4 417.6h0M517.8 417.6h0M377.8 421.2h0M465.5 421.2h0M486.4 421.2h0M499.0 421.2h0M549.1 421.2h0M388.2 424.8h0M400.7 424.8h0M467.6 424.8h0M471.8 424.8h0M484.3 424.8h0M572.1 424.8h0M390.3 428.4h0M444.6 428.4h0M465.5 428.4h0M561.7 428.4h0M400.7 432.0h0M438.4 432.0h0M476.0 432.0h0M555.4 432.0h0M567.9 432.0h0M572.1 432.0h0M373.6 435.7h0M386.1 435.7h0M394.5 435.7h0M461.4 435.7h0M486.4 435.7h0M503.2 435.7h0M519.9 435.7h0M553.3 435.7h0M574.2 435.7h0M578.4 435.7h0M582.6 435.7h0M371.5 439.3h0M375.7 439.3h0M421.6 439.3h0M467.6 439.3h0M471.8 439.3h0M476.0 439.3h0M501.1 439.3h0M576.3 439.3h0M580.5 439.3h0M584.7 439.3h0M390.3 442.9h0M398.7 442.9h0M432.1 442.9h0M465.5 442.9h0M469.7 442.9h0M511.5 442.9h0M578.4 442.9h0M388.2 446.5h0M392.4 446.5h0M430.0 446.5h0M463.4 446.5h0M467.6 446.5h0M415.4 450.1h0M419.6 450.1h0M461.4 450.1h0M549.1 450.1h0M553.3 450.1h0M570.0 450.1h0M459.3 453.8h0M471.8 453.8h0M480.2 453.8h0M522.0 453.8h0M461.4 457.4h0M578.4 457.4h0M409.1 461.0h0M480.2 461.0h0M488.5 461.0h0M534.5 461.0h0M547.0 461.0h0M559.6 461.0h0M381.9 464.6h0M415.4 464.6h0M419.6 464.6h0M440.5 464.6h0M444.6 464.6h0M478.1 464.6h0M557.5 464.6h0M586.8 464.6h0M590.9 464.6h0M384.0 468.2h0M404.9 468.2h0M409.1 468.2h0M425.8 468.2h0M442.5 468.2h0M501.1 468.2h0M513.6 468.2h0M551.2 468.2h0M555.4 468.2h0M407.0 471.9h0M411.2 471.9h0M432.1 471.9h0M444.6 471.9h0M448.8 471.9h0M469.7 471.9h0M473.9 471.9h0M503.2 471.9h0M540.8 471.9h0M413.3 475.5h0M467.6 475.5h0M501.1 475.5h0M538.7 475.5h0M567.9 475.5h0M423.7 479.1h0M465.5 479.1h0M469.7 479.1h0M515.7 479.1h0M532.4 479.1h0M536.6 479.1h0M578.4 479.1h0M582.6 479.1h0M421.6 482.7h0M430.0 482.7h0M434.2 482.7h0M446.7 482.7h0M459.3 482.7h0M513.6 482.7h0M534.5 482.7h0M576.3 482.7h0M365.2 486.3h0M369.4 486.3h0M373.6 486.3h0M415.4 486.3h0M436.3 486.3h0M440.5 486.3h0M453.0 486.3h0M524.0 486.3h0M553.3 486.3h0M578.4 486.3h0M358.9 490.0h0M375.7 490.0h0M409.1 490.0h0M442.5 490.0h0M450.9 490.0h0M463.4 490.0h0M501.1 490.0h0M505.2 490.0h0M530.3 490.0h0M555.4 490.0h0M572.1 490.0h0M576.3 490.0h0M356.9 493.6h0M402.8 493.6h0M444.6 493.6h0M465.5 493.6h0M484.3 497.2h0M398.7 500.8h0M486.4 500.8h0M388.2 504.4h0M392.4 504.4h0M450.9 504.4h0M459.3 504.4h0M530.3 504.4h0M551.2 504.4h0M559.6 504.4h0M352.7 508.1h0M444.6 508.1h0M453.0 508.1h0M457.2 508.1h0M490.6 508.1h0M494.8 508.1h0M557.5 508.1h0M561.7 508.1h0M375.7 511.7h0M392.4 511.7h0M501.1 511.7h0M555.4 511.7h0M381.9 515.3h0M386.1 515.3h0M394.5 515.3h0M511.5 515.3h0M388.2 518.9h0M396.6 518.9h0M434.2 518.9h0M438.4 518.9h0M488.5 518.9h0M361.0 522.5h0M423.7 522.5h0M440.5 522.5h0M490.6 522.5h0M503.2 522.5h0M511.5 522.5h0M536.6 522.5h0M430.0 526.2h0M434.2 526.2h0M442.5 526.2h0M446.7 526.2h0M505.2 526.2h0M509.4 526.2h0M465.5 529.8h0M469.7 529.8h0M478.1 529.8h0M384.0 533.4h0M434.2 533.4h0M471.8 533.4h0M476.0 533.4h0M488.5 533.4h0M492.7 533.4h0M356.9 537.0h0M398.7 537.0h0M499.0 537.0h0M519.9 537.0h0M400.7 540.6h0M404.9 540.6h0M421.6 540.6h0M430.0 540.6h0M450.9 540.6h0M517.8 540.6h0M461.4 544.3h0M379.8 547.9h0M404.9 547.9h0M480.2 547.9h0M381.9 551.5h0M402.8 551.5h0M482.2 551.5h0M417.5 555.1h0M421.6 555.1h0M394.5 558.7h0M419.6 558.7h0M438.4 562.4h0M459.3 562.4h0M463.4 562.4h0M469.7 566.0h0M478.1 566.0h0M404.9 569.6h0M425.8 569.6h0M434.2 569.6h0M467.6 569.6h0M471.8 569.6h0M427.9 573.2h0M430.0 576.8h0M434.2 576.8h0M467.6 576.8h0M476.0 576.8h0M415.4 580.5h0M427.9 580.5h0M476.0 584.1h0" stroke="#003321" stroke-width="5.0" stroke-linecap="round" fill="none"/>
<path d="M488.5 316.2h0M509.4 316.2h0M436.3 319.8h0M486.4 319.8h0M511.5 319.8h0M582.6 319.8h0M476.0 323.4h0M513.6 323.4h0M580.5 323.4h0M448.8 327.1h0M540.8 327.1h0M450.9 330.7h0M513.6 330.7h0M582.6 334.3h0M407.0 341.5h0M411.2 341.5h0M524.0 341.5h0M540.8 341.5h0M576.3 345.2h0M549.1 348.8h0M576.3 352.4h0M425.8 359.6h0M534.5 359.6h0M538.7 359.6h0M532.4 363.3h0M586.8 363.3h0M448.8 370.5h0M448.8 377.7h0M457.2 377.7h0M461.4 377.7h0M553.3 377.7h0M576.3 381.4h0M580.5 381.4h0M478.1 385.0h0M553.3 385.0h0M578.4 385.0h0M542.9 388.6h0M547.0 388.6h0M436.3 392.2h0M400.7 395.8h0M509.4 395.8h0M436.3 399.5h0M507.3 399.5h0M570.0 399.5h0M582.6 399.5h0M392.4 403.1h0M471.8 403.1h0M501.1 403.1h0M457.2 406.7h0M473.9 406.7h0M499.0 406.7h0M503.2 406.7h0M375.7 410.3h0M379.8 410.3h0M463.4 410.3h0M411.2 413.9h0M461.4 413.9h0M473.9 413.9h0M501.1 417.6h0M528.2 421.2h0M532.4 421.2h0M557.5 421.2h0M430.0 424.8h0M496.9 424.8h0M432.1 428.4h0M536.6 428.4h0M463.4 432.0h0M407.0 435.7h0M415.4 435.7h0M388.2 439.3h0M404.9 439.3h0M459.3 439.3h0M407.0 442.9h0M440.5 442.9h0M457.2 442.9h0M455.1 446.5h0M480.2 446.5h0M547.0 446.5h0M365.2 450.1h0M469.7 450.1h0M473.9 450.1h0M478.1 450.1h0M499.0 450.1h0M496.9 453.8h0M473.9 457.4h0M396.6 461.0h0M484.3 461.0h0M394.5 464.6h0M398.7 464.6h0M570.0 464.6h0M392.4 468.2h0M505.2 468.2h0M530.3 468.2h0M567.9 468.2h0M572.1 468.2h0M425.8 475.5h0M377.8 479.1h0M371.5 482.7h0M367.3 490.0h0M369.4 493.6h0M373.6 493.6h0M423.7 493.6h0M473.9 493.6h0M478.1 493.6h0M511.5 493.6h0M553.3 493.6h0M476.0 497.2h0M488.5 497.2h0M551.2 497.2h0M563.8 497.2h0M386.1 500.8h0M440.5 500.8h0M490.6 500.8h0M557.5 500.8h0M561.7 500.8h0M379.8 504.4h0M438.4 504.4h0M476.0 504.4h0M526.1 504.4h0M499.0 508.1h0M503.2 508.1h0M528.2 508.1h0M425.8 511.7h0M434.2 511.7h0M496.9 511.7h0M505.2 511.7h0M542.9 511.7h0M503.2 515.3h0M545.0 515.3h0M480.2 518.9h0M530.3 518.9h0M532.4 522.5h0M379.8 526.2h0M501.1 526.2h0M473.9 529.8h0M507.3 529.8h0M400.7 533.4h0M404.9 533.4h0M438.4 533.4h0M501.1 533.4h0M505.2 533.4h0M402.8 537.0h0M407.0 537.0h0M503.2 537.0h0M432.1 544.3h0M407.0 551.5h0M503.2 551.5h0M486.4 558.7h0M453.0 573.2h0M467.6 584.1h0" stroke="#003334" stroke-width="5.0" stroke-linecap="round" fill="none"/>
<path d="M501.1 316.2h0M555.4 316.2h0M457.2 319.8h0M469.7 319.8h0M494.8 319.8h0M499.0 319.8h0M553.3 319.8h0M455.1 323.4h0M471.8 323.4h0M534.5 323.4h0M453.0 327.1h0M536.6 327.1h0M530.3 330.7h0M551.2 330.7h0M555.4 330.7h0M547.0 337.9h0M519.9 341.5h0M413.3 345.2h0M421.6 345.2h0M467.6 345.2h0M402.8 348.8h0M411.2 348.8h0M436.3 348.8h0M448.8 348.8h0M540.8 348.8h0M545.0 348.8h0M565.9 348.8h0M450.9 352.4h0M515.7 356.0h0M555.4 359.6h0M484.3 366.9h0M432.1 370.5h0M482.2 370.5h0M459.3 374.1h0M476.0 374.1h0M480.2 374.1h0M588.8 374.1h0M484.3 381.4h0M482.2 385.0h0M400.7 388.6h0M513.6 388.6h0M427.9 392.2h0M455.1 395.8h0M496.9 395.8h0M457.2 399.5h0M467.6 403.1h0M547.0 403.1h0M415.4 406.7h0M549.1 406.7h0M496.9 410.3h0M444.6 413.9h0M448.8 413.9h0M409.1 417.6h0M576.3 417.6h0M398.7 421.2h0M448.8 421.2h0M490.6 421.2h0M524.0 421.2h0M574.2 421.2h0M578.4 421.2h0M396.6 424.8h0M425.8 424.8h0M488.5 424.8h0M501.1 424.8h0M522.0 424.8h0M576.3 424.8h0M419.6 428.4h0M471.8 432.0h0M496.9 432.0h0M390.3 435.7h0M561.7 435.7h0M496.9 439.3h0M505.2 439.3h0M509.4 439.3h0M563.8 439.3h0M567.9 439.3h0M565.9 442.9h0M400.7 446.5h0M404.9 446.5h0M411.2 450.1h0M578.4 450.1h0M517.8 453.8h0M526.1 453.8h0M576.3 453.8h0M415.4 457.4h0M478.1 457.4h0M536.6 457.4h0M413.3 461.0h0M423.7 464.6h0M427.9 464.6h0M453.0 464.6h0M540.8 464.6h0M400.7 468.2h0M413.3 468.2h0M417.5 468.2h0M446.7 468.2h0M538.7 468.2h0M576.3 468.2h0M386.1 471.9h0M402.8 471.9h0M415.4 471.9h0M536.6 471.9h0M557.5 471.9h0M434.2 475.5h0M438.4 475.5h0M480.2 475.5h0M482.2 479.1h0M519.9 479.1h0M524.0 479.1h0M396.6 482.7h0M400.7 482.7h0M517.8 482.7h0M381.9 486.3h0M588.8 490.0h0M490.6 493.6h0M515.7 493.6h0M421.6 497.2h0M450.9 497.2h0M455.1 497.2h0M419.6 500.8h0M361.0 508.1h0M436.3 508.1h0M440.5 508.1h0M396.6 511.7h0M446.7 511.7h0M467.6 511.7h0M484.3 511.7h0M488.5 511.7h0M436.3 515.3h0M440.5 515.3h0M486.4 515.3h0M467.6 518.9h0M476.0 518.9h0M496.9 518.9h0M526.1 518.9h0M461.4 522.5h0M473.9 522.5h0M417.5 526.2h0M471.8 526.2h0M415.4 529.8h0M448.8 529.8h0M463.4 533.4h0M467.6 533.4h0M522.0 533.4h0M438.4 540.6h0M436.3 544.3h0M494.8 544.3h0M461.4 551.5h0M459.3 555.1h0M467.6 555.1h0M471.8 555.1h0M488.5 555.1h0M400.7 562.4h0M461.4 580.5h0" stroke="#002f42" stroke-width="5.0" stroke-linecap="round" fill="none"/>
<path d="M534.5 316.2h0M453.0 319.8h0M473.9 319.8h0M488.5 323.4h0M584.7 330.7h0M459.3 337.9h0M505.2 337.9h0M584.7 337.9h0M580.5 345.2h0M427.9 348.8h0M425.8 352.4h0M511.5 356.0h0M563.8 359.6h0M438.4 366.9h0M509.4 366.9h0M427.9 370.5h0M534.5 374.1h0M507.3 377.7h0M515.7 377.7h0M565.9 377.7h0M574.2 377.7h0M463.4 381.4h0M467.6 381.4h0M471.8 381.4h0M517.8 381.4h0M567.9 381.4h0M469.7 385.0h0M473.9 385.0h0M507.3 385.0h0M417.5 388.6h0M421.6 388.6h0M450.9 388.6h0M455.1 388.6h0M463.4 388.6h0M467.6 388.6h0M471.8 388.6h0M476.0 388.6h0M480.2 388.6h0M484.3 388.6h0M530.3 388.6h0M563.8 388.6h0M419.6 392.2h0M482.2 392.2h0M578.4 392.2h0M434.2 395.8h0M526.1 395.8h0M576.3 395.8h0M377.8 399.5h0M453.0 399.5h0M536.6 399.5h0M540.8 399.5h0M375.7 403.1h0M580.5 403.1h0M373.6 406.7h0M388.2 410.3h0M430.0 410.3h0M501.1 410.3h0M505.2 410.3h0M386.1 413.9h0M394.5 413.9h0M398.7 413.9h0M427.9 413.9h0M457.2 413.9h0M507.3 413.9h0M557.5 413.9h0M570.0 413.9h0M590.9 413.9h0M471.8 417.6h0M513.6 417.6h0M522.0 417.6h0M530.3 417.6h0M534.5 417.6h0M563.8 417.6h0M572.1 417.6h0M580.5 417.6h0M415.4 421.2h0M419.6 421.2h0M436.3 421.2h0M469.7 421.2h0M507.3 421.2h0M511.5 421.2h0M515.7 421.2h0M455.1 424.8h0M505.2 424.8h0M559.6 424.8h0M469.7 428.4h0M490.6 428.4h0M507.3 428.4h0M511.5 428.4h0M553.3 428.4h0M565.9 428.4h0M578.4 428.4h0M582.6 428.4h0M586.8 428.4h0M392.4 432.0h0M404.9 432.0h0M421.6 432.0h0M509.4 432.0h0M576.3 432.0h0M507.3 435.7h0M511.5 435.7h0M536.6 435.7h0M442.5 439.3h0M478.1 442.9h0M557.5 442.9h0M561.7 442.9h0M513.6 446.5h0M517.8 446.5h0M427.9 450.1h0M515.7 450.1h0M519.9 450.1h0M375.7 453.8h0M379.8 453.8h0M430.0 453.8h0M513.6 453.8h0M369.4 457.4h0M381.9 457.4h0M390.3 457.4h0M384.0 461.0h0M388.2 461.0h0M496.9 461.0h0M555.4 461.0h0M494.8 464.6h0M388.2 468.2h0M396.6 468.2h0M496.9 468.2h0M390.3 471.9h0M490.6 471.9h0M388.2 475.5h0M392.4 475.5h0M492.7 475.5h0M496.9 475.5h0M381.9 479.1h0M390.3 479.1h0M444.6 479.1h0M453.0 479.1h0M490.6 479.1h0M494.8 479.1h0M499.0 479.1h0M570.0 479.1h0M455.1 482.7h0M492.7 482.7h0M457.2 486.3h0M494.8 486.3h0M503.2 486.3h0M511.5 486.3h0M565.9 486.3h0M570.0 486.3h0M488.5 490.0h0M496.9 490.0h0M513.6 490.0h0M419.6 493.6h0M494.8 493.6h0M499.0 493.6h0M503.2 493.6h0M496.9 497.2h0M501.1 497.2h0M509.4 497.2h0M494.8 500.8h0M499.0 500.8h0M384.0 504.4h0M480.2 504.4h0M492.7 504.4h0M496.9 504.4h0M505.2 504.4h0M513.6 504.4h0M534.5 526.2h0M423.7 529.8h0M350.6 533.4h0M354.8 533.4h0M459.3 533.4h0M461.4 537.0h0M507.3 537.0h0M505.2 540.6h0M448.8 544.3h0M388.2 547.9h0M400.7 547.9h0M450.9 547.9h0M390.3 551.5h0M446.7 555.1h0M450.9 555.1h0M484.3 555.1h0M396.6 562.4h0M446.7 569.6h0M476.0 569.6h0M480.2 569.6h0M448.8 573.2h0M469.7 573.2h0M478.1 573.2h0M480.2 576.8h0M478.1 580.5h0" stroke="#282644" stroke-width="5.0" stroke-linecap="round" fill="none"/>
<path d="M540.8 319.8h0M484.3 323.4h0M482.2 327.1h0M421.6 337.9h0M455.1 374.1h0M459.3 381.4h0M461.4 385.0h0M423.7 392.2h0M572.1 403.1h0M471.8 410.3h0M407.0 421.2h0M519.9 442.9h0M530.3 453.8h0M423.7 457.4h0M561.7 457.4h0M563.8 461.0h0M419.6 471.9h0M413.3 482.7h0M363.1 490.0h0M522.0 497.2h0M352.7 515.3h0M532.4 515.3h0M484.3 526.2h0M482.2 529.8h0" stroke="#3e1c41" stroke-width="5.0" stroke-linecap="round" fill="none"/>
<path d="M446.7 352.4h0M425.8 366.9h0M423.7 370.5h0M413.3 374.1h0M417.5 374.1h0M590.9 399.5h0M534.5 410.3h0M538.7 410.3h0M540.8 421.2h0M542.9 424.8h0M545.0 428.4h0M394.5 442.9h0M473.9 442.9h0M413.3 453.8h0M540.8 457.4h0M542.9 461.0h0M545.0 464.6h0M547.0 468.2h0M492.7 490.0h0M411.2 551.5h0" stroke="#441a32" stroke-width="5.0" stroke-linecap="round" fill="none"/>
<path d="M425.8 316.2h0M430.0 316.2h0M434.2 316.2h0M442.5 316.2h0M480.2 316.2h0M496.9 316.2h0M530.3 316.2h0M538.7 316.2h0M542.9 316.2h0M547.0 316.2h0M551.2 316.2h0M588.8 316.2h0M427.9 319.8h0M432.1 319.8h0M448.8 319.8h0M478.1 319.8h0M490.6 319.8h0M528.2 319.8h0M532.4 319.8h0M590.9 319.8h0M442.5 323.4h0M446.7 323.4h0M496.9 323.4h0M517.8 323.4h0M542.9 323.4h0M572.1 323.4h0M584.7 323.4h0M440.5 327.1h0M444.6 327.1h0M494.8 327.1h0M507.3 327.1h0M549.1 327.1h0M553.3 327.1h0M557.5 327.1h0M582.6 327.1h0M417.5 330.7h0M421.6 330.7h0M425.8 330.7h0M442.5 330.7h0M463.4 330.7h0M471.8 330.7h0M480.2 330.7h0M501.1 330.7h0M534.5 330.7h0M538.7 330.7h0M415.4 334.3h0M419.6 334.3h0M423.7 334.3h0M427.9 334.3h0M478.1 334.3h0M524.0 334.3h0M528.2 334.3h0M532.4 334.3h0M425.8 337.9h0M450.9 337.9h0M455.1 337.9h0M471.8 337.9h0M476.0 337.9h0M484.3 337.9h0M522.0 337.9h0M526.1 337.9h0M534.5 337.9h0M588.8 337.9h0M419.6 341.5h0M427.9 341.5h0M453.0 341.5h0M473.9 341.5h0M494.8 341.5h0M528.2 341.5h0M536.6 341.5h0M557.5 341.5h0M417.5 345.2h0M434.2 345.2h0M442.5 345.2h0M492.7 345.2h0M496.9 345.2h0M509.4 345.2h0M526.1 345.2h0M530.3 345.2h0M432.1 348.8h0M453.0 348.8h0M482.2 348.8h0M486.4 348.8h0M507.3 348.8h0M511.5 348.8h0M524.0 348.8h0M536.6 348.8h0M421.6 352.4h0M434.2 352.4h0M480.2 352.4h0M484.3 352.4h0M501.1 352.4h0M580.5 352.4h0M419.6 356.0h0M436.3 356.0h0M457.2 356.0h0M461.4 356.0h0M465.5 356.0h0M478.1 356.0h0M482.2 356.0h0M486.4 356.0h0M553.3 356.0h0M557.5 356.0h0M561.7 356.0h0M574.2 356.0h0M586.8 356.0h0M590.9 356.0h0M404.9 359.6h0M409.1 359.6h0M413.3 359.6h0M417.5 359.6h0M430.0 359.6h0M434.2 359.6h0M442.5 359.6h0M455.1 359.6h0M463.4 359.6h0M467.6 359.6h0M471.8 359.6h0M476.0 359.6h0M480.2 359.6h0M484.3 359.6h0M488.5 359.6h0M505.2 359.6h0M530.3 359.6h0M551.2 359.6h0M390.3 363.3h0M394.5 363.3h0M402.8 363.3h0M419.6 363.3h0M478.1 363.3h0M486.4 363.3h0M507.3 363.3h0M511.5 363.3h0M515.7 363.3h0M590.9 363.3h0M480.2 366.9h0M488.5 366.9h0M526.1 366.9h0M530.3 366.9h0M542.9 366.9h0M547.0 366.9h0M563.8 366.9h0M567.9 366.9h0M576.3 366.9h0M411.2 370.5h0M444.6 370.5h0M453.0 370.5h0M478.1 370.5h0M486.4 370.5h0M503.2 370.5h0M507.3 370.5h0M515.7 370.5h0M561.7 370.5h0M565.9 370.5h0M590.9 370.5h0M421.6 374.1h0M425.8 374.1h0M430.0 374.1h0M446.7 374.1h0M463.4 374.1h0M492.7 374.1h0M505.2 374.1h0M509.4 374.1h0M513.6 374.1h0M522.0 374.1h0M526.1 374.1h0M547.0 374.1h0M563.8 374.1h0M567.9 374.1h0M584.7 374.1h0M415.4 377.7h0M423.7 377.7h0M427.9 377.7h0M432.1 377.7h0M490.6 377.7h0M499.0 377.7h0M503.2 377.7h0M519.9 377.7h0M528.2 377.7h0M545.0 377.7h0M549.1 377.7h0M578.4 377.7h0M590.9 377.7h0M409.1 381.4h0M413.3 381.4h0M434.2 381.4h0M438.4 381.4h0M492.7 381.4h0M496.9 381.4h0M501.1 381.4h0M509.4 381.4h0M522.0 381.4h0M526.1 381.4h0M538.7 381.4h0M547.0 381.4h0M559.6 381.4h0M563.8 381.4h0M584.7 381.4h0M588.8 381.4h0M402.8 385.0h0M411.2 385.0h0M444.6 385.0h0M453.0 385.0h0M457.2 385.0h0M465.5 385.0h0M490.6 385.0h0M499.0 385.0h0M519.9 385.0h0M532.4 385.0h0M536.6 385.0h0M557.5 385.0h0M570.0 385.0h0M582.6 385.0h0M590.9 385.0h0M425.8 388.6h0M488.5 388.6h0M492.7 388.6h0M496.9 388.6h0M501.1 388.6h0M505.2 388.6h0M517.8 388.6h0M526.1 388.6h0M534.5 388.6h0M538.7 388.6h0M551.2 388.6h0M559.6 388.6h0M580.5 388.6h0M584.7 388.6h0M588.8 388.6h0M381.9 392.2h0M411.2 392.2h0M465.5 392.2h0M469.7 392.2h0M478.1 392.2h0M494.8 392.2h0M499.0 392.2h0M507.3 392.2h0M515.7 392.2h0M519.9 392.2h0M524.0 392.2h0M532.4 392.2h0M540.8 392.2h0M549.1 392.2h0M553.3 392.2h0M557.5 392.2h0M582.6 392.2h0M384.0 395.8h0M388.2 395.8h0M413.3 395.8h0M417.5 395.8h0M438.4 395.8h0M450.9 395.8h0M459.3 395.8h0M463.4 395.8h0M467.6 395.8h0M476.0 395.8h0M480.2 395.8h0M492.7 395.8h0M505.2 395.8h0M517.8 395.8h0M530.3 395.8h0M538.7 395.8h0M547.0 395.8h0M381.9 399.5h0M398.7 399.5h0M415.4 399.5h0M432.1 399.5h0M444.6 399.5h0M465.5 399.5h0M469.7 399.5h0M473.9 399.5h0M478.1 399.5h0M499.0 399.5h0M503.2 399.5h0M511.5 399.5h0M565.9 399.5h0M379.8 403.1h0M421.6 403.1h0M430.0 403.1h0M442.5 403.1h0M446.7 403.1h0M455.1 403.1h0M459.3 403.1h0M480.2 403.1h0M488.5 403.1h0M492.7 403.1h0M496.9 403.1h0M513.6 403.1h0M526.1 403.1h0M551.2 403.1h0M555.4 403.1h0M559.6 403.1h0M407.0 406.7h0M411.2 406.7h0M453.0 406.7h0M482.2 406.7h0M490.6 406.7h0M515.7 406.7h0M536.6 406.7h0M545.0 406.7h0M553.3 406.7h0M561.7 406.7h0M574.2 406.7h0M409.1 410.3h0M446.7 410.3h0M476.0 410.3h0M484.3 410.3h0M488.5 410.3h0M517.8 410.3h0M526.1 410.3h0M530.3 410.3h0M547.0 410.3h0M555.4 410.3h0M576.3 410.3h0M580.5 410.3h0M402.8 413.9h0M407.0 413.9h0M436.3 413.9h0M440.5 413.9h0M453.0 413.9h0M482.2 413.9h0M494.8 413.9h0M499.0 413.9h0M532.4 413.9h0M536.6 413.9h0M553.3 413.9h0M561.7 413.9h0M379.8 417.6h0M384.0 417.6h0M396.6 417.6h0M400.7 417.6h0M404.9 417.6h0M421.6 417.6h0M430.0 417.6h0M438.4 417.6h0M450.9 417.6h0M455.1 417.6h0M459.3 417.6h0M463.4 417.6h0M467.6 417.6h0M476.0 417.6h0M484.3 417.6h0M492.7 417.6h0M496.9 417.6h0M559.6 417.6h0M381.9 421.2h0M411.2 421.2h0M427.9 421.2h0M432.1 421.2h0M440.5 421.2h0M453.0 421.2h0M457.2 421.2h0M461.4 421.2h0M473.9 421.2h0M494.8 421.2h0M503.2 421.2h0M586.8 421.2h0M371.5 424.8h0M379.8 424.8h0M392.4 424.8h0M434.2 424.8h0M438.4 424.8h0M442.5 424.8h0M450.9 424.8h0M492.7 424.8h0M517.8 424.8h0M526.1 424.8h0M530.3 424.8h0M534.5 424.8h0M547.0 424.8h0M580.5 424.8h0M584.7 424.8h0M377.8 428.4h0M381.9 428.4h0M398.7 428.4h0M407.0 428.4h0M411.2 428.4h0M415.4 428.4h0M423.7 428.4h0M436.3 428.4h0M453.0 428.4h0M473.9 428.4h0M486.4 428.4h0M515.7 428.4h0M519.9 428.4h0M524.0 428.4h0M532.4 428.4h0M557.5 428.4h0M379.8 432.0h0M384.0 432.0h0M409.1 432.0h0M413.3 432.0h0M417.5 432.0h0M425.8 432.0h0M430.0 432.0h0M434.2 432.0h0M442.5 432.0h0M446.7 432.0h0M450.9 432.0h0M467.6 432.0h0M484.3 432.0h0M492.7 432.0h0M513.6 432.0h0M522.0 432.0h0M547.0 432.0h0M563.8 432.0h0M584.7 432.0h0M419.6 435.7h0M427.9 435.7h0M432.1 435.7h0M453.0 435.7h0M465.5 435.7h0M478.1 435.7h0M482.2 435.7h0M490.6 435.7h0M570.0 435.7h0M358.9 439.3h0M392.4 439.3h0M396.6 439.3h0M400.7 439.3h0M413.3 439.3h0M425.8 439.3h0M430.0 439.3h0M434.2 439.3h0M446.7 439.3h0M450.9 439.3h0M455.1 439.3h0M488.5 439.3h0M492.7 439.3h0M534.5 439.3h0M547.0 439.3h0M551.2 439.3h0M555.4 439.3h0M356.9 442.9h0M386.1 442.9h0M402.8 442.9h0M423.7 442.9h0M436.3 442.9h0M494.8 442.9h0M532.4 442.9h0M586.8 442.9h0M590.9 442.9h0M384.0 446.5h0M438.4 446.5h0M496.9 446.5h0M501.1 446.5h0M505.2 446.5h0M509.4 446.5h0M526.1 446.5h0M356.9 450.1h0M361.0 450.1h0M373.6 450.1h0M386.1 450.1h0M390.3 450.1h0M432.1 450.1h0M440.5 450.1h0M465.5 450.1h0M507.3 450.1h0M511.5 450.1h0M574.2 450.1h0M582.6 450.1h0M409.1 453.8h0M438.4 453.8h0M442.5 453.8h0M446.7 453.8h0M455.1 453.8h0M463.4 453.8h0M467.6 453.8h0M488.5 453.8h0M492.7 453.8h0M509.4 453.8h0M534.5 453.8h0M547.0 453.8h0M551.2 453.8h0M580.5 453.8h0M584.7 453.8h0M356.9 457.4h0M427.9 457.4h0M440.5 457.4h0M448.8 457.4h0M469.7 457.4h0M482.2 457.4h0M486.4 457.4h0M528.2 457.4h0M545.0 457.4h0M565.9 457.4h0M574.2 457.4h0M582.6 457.4h0M358.9 461.0h0M379.8 461.0h0M392.4 461.0h0M400.7 461.0h0M438.4 461.0h0M450.9 461.0h0M455.1 461.0h0M459.3 461.0h0M463.4 461.0h0M471.8 461.0h0M476.0 461.0h0M509.4 461.0h0M551.2 461.0h0M402.8 464.6h0M436.3 464.6h0M465.5 464.6h0M473.9 464.6h0M511.5 464.6h0M524.0 464.6h0M578.4 464.6h0M375.7 468.2h0M421.6 468.2h0M430.0 468.2h0M476.0 468.2h0M522.0 468.2h0M534.5 468.2h0M559.6 468.2h0M580.5 468.2h0M427.9 471.9h0M499.0 471.9h0M524.0 471.9h0M561.7 471.9h0M367.3 475.5h0M371.5 475.5h0M384.0 475.5h0M400.7 475.5h0M446.7 475.5h0M450.9 475.5h0M471.8 475.5h0M522.0 475.5h0M526.1 475.5h0M534.5 475.5h0M584.7 475.5h0M588.8 475.5h0M369.4 479.1h0M386.1 479.1h0M411.2 479.1h0M419.6 479.1h0M448.8 479.1h0M461.4 479.1h0M486.4 479.1h0M528.2 479.1h0M545.0 479.1h0M553.3 479.1h0M574.2 479.1h0M586.8 479.1h0M590.9 479.1h0M388.2 482.7h0M480.2 482.7h0M522.0 482.7h0M563.8 482.7h0M580.5 482.7h0M588.8 482.7h0M394.5 486.3h0M402.8 486.3h0M423.7 486.3h0M499.0 486.3h0M549.1 486.3h0M582.6 486.3h0M346.4 490.0h0M392.4 490.0h0M400.7 490.0h0M404.9 490.0h0M534.5 490.0h0M580.5 490.0h0M386.1 493.6h0M407.0 493.6h0M440.5 493.6h0M448.8 493.6h0M461.4 493.6h0M519.9 493.6h0M532.4 493.6h0M574.2 493.6h0M578.4 493.6h0M363.1 497.2h0M367.3 497.2h0M379.8 497.2h0M388.2 497.2h0M392.4 497.2h0M409.1 497.2h0M417.5 497.2h0M442.5 497.2h0M446.7 497.2h0M492.7 497.2h0M513.6 497.2h0M361.0 500.8h0M365.2 500.8h0M377.8 500.8h0M381.9 500.8h0M407.0 500.8h0M411.2 500.8h0M465.5 500.8h0M482.2 500.8h0M511.5 500.8h0M524.0 500.8h0M528.2 500.8h0M549.1 500.8h0M358.9 504.4h0M404.9 504.4h0M409.1 504.4h0M413.3 504.4h0M417.5 504.4h0M488.5 504.4h0M538.7 504.4h0M390.3 508.1h0M407.0 508.1h0M469.7 508.1h0M511.5 508.1h0M532.4 508.1h0M536.6 508.1h0M371.5 511.7h0M404.9 511.7h0M421.6 511.7h0M455.1 511.7h0M463.4 511.7h0M471.8 511.7h0M492.7 511.7h0M526.1 511.7h0M534.5 511.7h0M547.0 511.7h0M551.2 511.7h0M559.6 511.7h0M373.6 515.3h0M432.1 515.3h0M461.4 515.3h0M473.9 515.3h0M490.6 515.3h0M507.3 515.3h0M519.9 515.3h0M384.0 518.9h0M392.4 518.9h0M404.9 518.9h0M409.1 518.9h0M463.4 518.9h0M501.1 518.9h0M534.5 518.9h0M386.1 522.5h0M407.0 522.5h0M415.4 522.5h0M444.6 522.5h0M448.8 522.5h0M465.5 522.5h0M469.7 522.5h0M478.1 522.5h0M482.2 522.5h0M519.9 522.5h0M524.0 522.5h0M528.2 522.5h0M363.1 526.2h0M371.5 526.2h0M409.1 526.2h0M450.9 526.2h0M480.2 526.2h0M530.3 526.2h0M361.0 529.8h0M365.2 529.8h0M390.3 529.8h0M402.8 529.8h0M411.2 529.8h0M453.0 529.8h0M375.7 533.4h0M392.4 533.4h0M413.3 533.4h0M421.6 533.4h0M496.9 533.4h0M513.6 533.4h0M517.8 533.4h0M394.5 537.0h0M427.9 537.0h0M465.5 537.0h0M494.8 537.0h0M511.5 537.0h0M434.2 540.6h0M442.5 540.6h0M455.1 540.6h0M471.8 540.6h0M492.7 540.6h0M496.9 540.6h0M501.1 540.6h0M522.0 540.6h0M361.0 544.3h0M402.8 544.3h0M407.0 544.3h0M423.7 544.3h0M444.6 544.3h0M469.7 544.3h0M486.4 544.3h0M507.3 544.3h0M511.5 544.3h0M417.5 547.9h0M421.6 547.9h0M434.2 547.9h0M463.4 547.9h0M484.3 547.9h0M505.2 547.9h0M398.7 551.5h0M423.7 551.5h0M432.1 551.5h0M453.0 551.5h0M457.2 551.5h0M494.8 551.5h0M499.0 551.5h0M507.3 551.5h0M396.6 555.1h0M400.7 555.1h0M404.9 555.1h0M425.8 555.1h0M430.0 555.1h0M501.1 555.1h0M398.7 558.7h0M440.5 558.7h0M465.5 558.7h0M469.7 558.7h0M478.1 558.7h0M421.6 562.4h0M467.6 562.4h0M448.8 566.0h0M465.5 566.0h0M482.2 566.0h0M400.7 569.6h0M438.4 569.6h0M455.1 569.6h0M457.2 573.2h0M473.9 573.2h0M446.7 576.8h0M463.4 576.8h0M471.8 576.8h0M465.5 580.5h0M450.9 584.1h0" stroke="#F8766D" stroke-width="3.1" stroke-linecap="round" fill="none"/>
<path d="M463.4 316.2h0M471.8 316.2h0M492.7 316.2h0M513.6 316.2h0M517.8 316.2h0M522.0 316.2h0M559.6 316.2h0M440.5 319.8h0M503.2 319.8h0M507.3 319.8h0M515.7 319.8h0M519.9 319.8h0M524.0 319.8h0M545.0 319.8h0M549.1 319.8h0M570.0 319.8h0M586.8 319.8h0M421.6 323.4h0M438.4 323.4h0M459.3 323.4h0M480.2 323.4h0M505.2 323.4h0M509.4 323.4h0M547.0 323.4h0M551.2 323.4h0M555.4 323.4h0M423.7 327.1h0M427.9 327.1h0M478.1 327.1h0M486.4 327.1h0M503.2 327.1h0M528.2 327.1h0M532.4 327.1h0M545.0 327.1h0M565.9 327.1h0M586.8 327.1h0M590.9 327.1h0M430.0 330.7h0M434.2 330.7h0M488.5 330.7h0M492.7 330.7h0M496.9 330.7h0M505.2 330.7h0M509.4 330.7h0M522.0 330.7h0M526.1 330.7h0M542.9 330.7h0M567.9 330.7h0M588.8 330.7h0M461.4 334.3h0M465.5 334.3h0M469.7 334.3h0M473.9 334.3h0M486.4 334.3h0M494.8 334.3h0M503.2 334.3h0M507.3 334.3h0M511.5 334.3h0M515.7 334.3h0M536.6 334.3h0M553.3 334.3h0M586.8 334.3h0M590.9 334.3h0M430.0 337.9h0M434.2 337.9h0M438.4 337.9h0M442.5 337.9h0M488.5 337.9h0M501.1 337.9h0M509.4 337.9h0M513.6 337.9h0M530.3 337.9h0M538.7 337.9h0M542.9 337.9h0M551.2 337.9h0M555.4 337.9h0M559.6 337.9h0M563.8 337.9h0M576.3 337.9h0M580.5 337.9h0M436.3 341.5h0M440.5 341.5h0M444.6 341.5h0M457.2 341.5h0M469.7 341.5h0M499.0 341.5h0M507.3 341.5h0M532.4 341.5h0M553.3 341.5h0M565.9 341.5h0M574.2 341.5h0M582.6 341.5h0M586.8 341.5h0M590.9 341.5h0M438.4 345.2h0M480.2 345.2h0M505.2 345.2h0M513.6 345.2h0M517.8 345.2h0M534.5 345.2h0M538.7 345.2h0M551.2 345.2h0M555.4 345.2h0M567.9 345.2h0M584.7 345.2h0M588.8 345.2h0M440.5 348.8h0M478.1 348.8h0M503.2 348.8h0M515.7 348.8h0M519.9 348.8h0M532.4 348.8h0M553.3 348.8h0M557.5 348.8h0M561.7 348.8h0M570.0 348.8h0M586.8 348.8h0M590.9 348.8h0M409.1 352.4h0M417.5 352.4h0M455.1 352.4h0M476.0 352.4h0M505.2 352.4h0M509.4 352.4h0M522.0 352.4h0M551.2 352.4h0M563.8 352.4h0M567.9 352.4h0M572.1 352.4h0M584.7 352.4h0M398.7 356.0h0M407.0 356.0h0M415.4 356.0h0M423.7 356.0h0M444.6 356.0h0M453.0 356.0h0M473.9 356.0h0M503.2 356.0h0M532.4 356.0h0M545.0 356.0h0M549.1 356.0h0M570.0 356.0h0M388.2 359.6h0M400.7 359.6h0M446.7 359.6h0M509.4 359.6h0M513.6 359.6h0M522.0 359.6h0M584.7 359.6h0M407.0 363.3h0M423.7 363.3h0M427.9 363.3h0M444.6 363.3h0M448.8 363.3h0M473.9 363.3h0M490.6 363.3h0M503.2 363.3h0M524.0 363.3h0M553.3 363.3h0M574.2 363.3h0M578.4 363.3h0M421.6 366.9h0M430.0 366.9h0M434.2 366.9h0M446.7 366.9h0M450.9 366.9h0M455.1 366.9h0M459.3 366.9h0M463.4 366.9h0M492.7 366.9h0M517.8 366.9h0M534.5 366.9h0M538.7 366.9h0M551.2 366.9h0M580.5 366.9h0M588.8 366.9h0M415.4 370.5h0M457.2 370.5h0M461.4 370.5h0M465.5 370.5h0M469.7 370.5h0M473.9 370.5h0M490.6 370.5h0M499.0 370.5h0M540.8 370.5h0M549.1 370.5h0M553.3 370.5h0M400.7 374.1h0M434.2 374.1h0M538.7 374.1h0M555.4 374.1h0M559.6 374.1h0M390.3 377.7h0M402.8 377.7h0M407.0 377.7h0M436.3 377.7h0M440.5 377.7h0M444.6 377.7h0M511.5 377.7h0M536.6 377.7h0M540.8 377.7h0M404.9 381.4h0M425.8 381.4h0M442.5 381.4h0M446.7 381.4h0M488.5 381.4h0M505.2 381.4h0M534.5 381.4h0M407.0 385.0h0M427.9 385.0h0M486.4 385.0h0M511.5 385.0h0M524.0 385.0h0M561.7 385.0h0M586.8 385.0h0M404.9 388.6h0M409.1 388.6h0M459.3 388.6h0M509.4 388.6h0M572.1 388.6h0M576.3 388.6h0M373.6 392.2h0M402.8 392.2h0M407.0 392.2h0M440.5 392.2h0M453.0 392.2h0M457.2 392.2h0M486.4 392.2h0M565.9 392.2h0M404.9 395.8h0M522.0 395.8h0M534.5 395.8h0M584.7 395.8h0M461.4 399.5h0M519.9 399.5h0M528.2 399.5h0M553.3 399.5h0M561.7 399.5h0M384.0 403.1h0M434.2 403.1h0M505.2 403.1h0M534.5 403.1h0M538.7 403.1h0M588.8 403.1h0M381.9 406.7h0M394.5 406.7h0M398.7 406.7h0M461.4 406.7h0M465.5 406.7h0M494.8 406.7h0M519.9 406.7h0M524.0 406.7h0M532.4 406.7h0M540.8 406.7h0M557.5 406.7h0M578.4 406.7h0M582.6 406.7h0M586.8 406.7h0M590.9 406.7h0M384.0 410.3h0M400.7 410.3h0M413.3 410.3h0M438.4 410.3h0M459.3 410.3h0M492.7 410.3h0M542.9 410.3h0M559.6 410.3h0M377.8 413.9h0M486.4 413.9h0M503.2 413.9h0M540.8 413.9h0M549.1 413.9h0M574.2 413.9h0M578.4 413.9h0M582.6 413.9h0M371.5 417.6h0M434.2 417.6h0M542.9 417.6h0M547.0 417.6h0M551.2 417.6h0M555.4 417.6h0M584.7 417.6h0M519.9 421.2h0M545.0 421.2h0M582.6 421.2h0M590.9 421.2h0M384.0 424.8h0M404.9 424.8h0M409.1 424.8h0M413.3 424.8h0M476.0 424.8h0M480.2 424.8h0M551.2 424.8h0M555.4 424.8h0M386.1 428.4h0M440.5 428.4h0M478.1 428.4h0M494.8 428.4h0M540.8 428.4h0M549.1 428.4h0M371.5 432.0h0M480.2 432.0h0M517.8 432.0h0M530.3 432.0h0M542.9 432.0h0M423.7 435.7h0M528.2 435.7h0M532.4 435.7h0M540.8 435.7h0M545.0 435.7h0M549.1 435.7h0M384.0 439.3h0M522.0 439.3h0M538.7 439.3h0M373.6 442.9h0M482.2 442.9h0M524.0 442.9h0M528.2 442.9h0M540.8 442.9h0M545.0 442.9h0M574.2 442.9h0M582.6 442.9h0M371.5 446.5h0M375.7 446.5h0M379.8 446.5h0M409.1 446.5h0M421.6 446.5h0M442.5 446.5h0M446.7 446.5h0M476.0 446.5h0M484.3 446.5h0M488.5 446.5h0M492.7 446.5h0M530.3 446.5h0M534.5 446.5h0M542.9 446.5h0M580.5 446.5h0M423.7 450.1h0M448.8 450.1h0M453.0 450.1h0M457.2 450.1h0M486.4 450.1h0M545.0 450.1h0M565.9 450.1h0M586.8 450.1h0M590.9 450.1h0M358.9 453.8h0M363.1 453.8h0M371.5 453.8h0M396.6 453.8h0M404.9 453.8h0M417.5 453.8h0M505.2 453.8h0M538.7 453.8h0M542.9 453.8h0M555.4 453.8h0M559.6 453.8h0M588.8 453.8h0M377.8 457.4h0M465.5 457.4h0M503.2 457.4h0M507.3 457.4h0M511.5 457.4h0M515.7 457.4h0M553.3 457.4h0M557.5 457.4h0M363.1 461.0h0M375.7 461.0h0M404.9 461.0h0M417.5 461.0h0M421.6 461.0h0M467.6 461.0h0M513.6 461.0h0M517.8 461.0h0M538.7 461.0h0M377.8 464.6h0M407.0 464.6h0M432.1 464.6h0M469.7 464.6h0M486.4 464.6h0M499.0 464.6h0M515.7 464.6h0M536.6 464.6h0M561.7 464.6h0M565.9 464.6h0M434.2 468.2h0M438.4 468.2h0M467.6 468.2h0M484.3 468.2h0M488.5 468.2h0M492.7 468.2h0M509.4 468.2h0M526.1 468.2h0M381.9 471.9h0M398.7 471.9h0M423.7 471.9h0M440.5 471.9h0M486.4 471.9h0M494.8 471.9h0M507.3 471.9h0M553.3 471.9h0M417.5 475.5h0M421.6 475.5h0M484.3 475.5h0M488.5 475.5h0M505.2 475.5h0M555.4 475.5h0M415.4 479.1h0M457.2 479.1h0M478.1 479.1h0M503.2 479.1h0M507.3 479.1h0M540.8 479.1h0M442.5 482.7h0M450.9 482.7h0M476.0 482.7h0M505.2 482.7h0M509.4 482.7h0M559.6 482.7h0M567.9 482.7h0M584.7 482.7h0M398.7 486.3h0M419.6 486.3h0M427.9 486.3h0M444.6 486.3h0M448.8 486.3h0M482.2 486.3h0M486.4 486.3h0M515.7 486.3h0M519.9 486.3h0M590.9 486.3h0M421.6 490.0h0M425.8 490.0h0M430.0 490.0h0M434.2 490.0h0M446.7 490.0h0M471.8 490.0h0M476.0 490.0h0M480.2 490.0h0M522.0 490.0h0M526.1 490.0h0M538.7 490.0h0M559.6 490.0h0M427.9 493.6h0M432.1 493.6h0M436.3 493.6h0M453.0 493.6h0M482.2 493.6h0M536.6 493.6h0M425.8 497.2h0M430.0 497.2h0M438.4 497.2h0M463.4 497.2h0M467.6 497.2h0M526.1 497.2h0M530.3 497.2h0M394.5 500.8h0M423.7 500.8h0M436.3 500.8h0M565.9 500.8h0M396.6 504.4h0M400.7 504.4h0M421.6 504.4h0M425.8 504.4h0M430.0 504.4h0M434.2 504.4h0M442.5 504.4h0M463.4 504.4h0M467.6 504.4h0M471.8 504.4h0M484.3 504.4h0M377.8 508.1h0M394.5 508.1h0M402.8 508.1h0M411.2 508.1h0M419.6 508.1h0M427.9 508.1h0M432.1 508.1h0M448.8 508.1h0M461.4 508.1h0M465.5 508.1h0M478.1 508.1h0M486.4 508.1h0M524.0 508.1h0M363.1 511.7h0M367.3 511.7h0M384.0 511.7h0M400.7 511.7h0M417.5 511.7h0M430.0 511.7h0M450.9 511.7h0M476.0 511.7h0M480.2 511.7h0M509.4 511.7h0M513.6 511.7h0M365.2 515.3h0M369.4 515.3h0M398.7 515.3h0M407.0 515.3h0M411.2 515.3h0M419.6 515.3h0M423.7 515.3h0M427.9 515.3h0M448.8 515.3h0M453.0 515.3h0M469.7 515.3h0M478.1 515.3h0M482.2 515.3h0M515.7 515.3h0M536.6 515.3h0M367.3 518.9h0M413.3 518.9h0M417.5 518.9h0M430.0 518.9h0M442.5 518.9h0M455.1 518.9h0M459.3 518.9h0M471.8 518.9h0M484.3 518.9h0M492.7 518.9h0M505.2 518.9h0M509.4 518.9h0M517.8 518.9h0M390.3 522.5h0M394.5 522.5h0M432.1 522.5h0M453.0 522.5h0M507.3 522.5h0M358.9 526.2h0M384.0 526.2h0M388.2 526.2h0M392.4 526.2h0M396.6 526.2h0M413.3 526.2h0M425.8 526.2h0M438.4 526.2h0M455.1 526.2h0M459.3 526.2h0M463.4 526.2h0M476.0 526.2h0M488.5 526.2h0M496.9 526.2h0M513.6 526.2h0M517.8 526.2h0M526.1 526.2h0M407.0 529.8h0M419.6 529.8h0M440.5 529.8h0M457.2 529.8h0M461.4 529.8h0M494.8 529.8h0M515.7 529.8h0M519.9 529.8h0M524.0 529.8h0M379.8 533.4h0M417.5 533.4h0M442.5 533.4h0M455.1 533.4h0M480.2 533.4h0M484.3 533.4h0M526.1 533.4h0M411.2 537.0h0M415.4 537.0h0M419.6 537.0h0M423.7 537.0h0M436.3 537.0h0M440.5 537.0h0M444.6 537.0h0M453.0 537.0h0M469.7 537.0h0M473.9 537.0h0M478.1 537.0h0M486.4 537.0h0M490.6 537.0h0M384.0 540.6h0M409.1 540.6h0M413.3 540.6h0M417.5 540.6h0M425.8 540.6h0M446.7 540.6h0M459.3 540.6h0M463.4 540.6h0M467.6 540.6h0M476.0 540.6h0M488.5 540.6h0M513.6 540.6h0M377.8 544.3h0M386.1 544.3h0M415.4 544.3h0M419.6 544.3h0M427.9 544.3h0M440.5 544.3h0M453.0 544.3h0M457.2 544.3h0M465.5 544.3h0M473.9 544.3h0M478.1 544.3h0M482.2 544.3h0M499.0 544.3h0M519.9 544.3h0M409.1 547.9h0M425.8 547.9h0M430.0 547.9h0M446.7 547.9h0M459.3 547.9h0M467.6 547.9h0M496.9 547.9h0M501.1 547.9h0M394.5 551.5h0M415.4 551.5h0M419.6 551.5h0M444.6 551.5h0M448.8 551.5h0M409.1 555.1h0M413.3 555.1h0M434.2 555.1h0M442.5 555.1h0M463.4 555.1h0M492.7 555.1h0M496.9 555.1h0M427.9 558.7h0M448.8 558.7h0M461.4 558.7h0M473.9 558.7h0M417.5 562.4h0M434.2 562.4h0M446.7 562.4h0M476.0 562.4h0M492.7 562.4h0M411.2 566.0h0M415.4 566.0h0M419.6 566.0h0M423.7 566.0h0M427.9 566.0h0M432.1 566.0h0M436.3 566.0h0M444.6 566.0h0M457.2 566.0h0M461.4 566.0h0M409.1 569.6h0M413.3 569.6h0M430.0 569.6h0M442.5 569.6h0M459.3 569.6h0M463.4 569.6h0M407.0 573.2h0M415.4 573.2h0M432.1 573.2h0M436.3 573.2h0M440.5 573.2h0M444.6 573.2h0M461.4 573.2h0M465.5 573.2h0M417.5 576.8h0M421.6 576.8h0M425.8 576.8h0M438.4 576.8h0M442.5 576.8h0M450.9 576.8h0M411.2 580.5h0M419.6 580.5h0M423.7 580.5h0M432.1 580.5h0M440.5 580.5h0M444.6 580.5h0M448.8 580.5h0M453.0 580.5h0M409.1 584.1h0M413.3 584.1h0M438.4 584.1h0M459.3 584.1h0M463.4 584.1h0" stroke="#D89000" stroke-width="3.1" stroke-linecap="round" fill="none"/>
<path d="M438.4 316.2h0M459.3 316.2h0M476.0 316.2h0M526.1 316.2h0M584.7 316.2h0M423.7 319.8h0M482.2 319.8h0M574.2 319.8h0M578.4 319.8h0M425.8 323.4h0M430.0 323.4h0M434.2 323.4h0M522.0 323.4h0M576.3 323.4h0M432.1 327.1h0M461.4 327.1h0M465.5 327.1h0M469.7 327.1h0M473.9 327.1h0M511.5 327.1h0M524.0 327.1h0M578.4 327.1h0M459.3 330.7h0M467.6 330.7h0M484.3 330.7h0M547.0 330.7h0M563.8 330.7h0M576.3 330.7h0M440.5 334.3h0M448.8 334.3h0M482.2 334.3h0M519.9 334.3h0M540.8 334.3h0M549.1 334.3h0M557.5 334.3h0M565.9 334.3h0M574.2 334.3h0M578.4 334.3h0M446.7 337.9h0M467.6 337.9h0M480.2 337.9h0M567.9 337.9h0M572.1 337.9h0M423.7 341.5h0M448.8 341.5h0M461.4 341.5h0M465.5 341.5h0M486.4 341.5h0M490.6 341.5h0M503.2 341.5h0M545.0 341.5h0M549.1 341.5h0M570.0 341.5h0M404.9 345.2h0M446.7 345.2h0M450.9 345.2h0M471.8 345.2h0M476.0 345.2h0M522.0 345.2h0M542.9 345.2h0M572.1 345.2h0M415.4 348.8h0M444.6 348.8h0M461.4 348.8h0M473.9 348.8h0M528.2 348.8h0M582.6 348.8h0M413.3 352.4h0M467.6 352.4h0M471.8 352.4h0M496.9 352.4h0M513.6 352.4h0M517.8 352.4h0M526.1 352.4h0M530.3 352.4h0M534.5 352.4h0M538.7 352.4h0M588.8 352.4h0M427.9 356.0h0M499.0 356.0h0M507.3 356.0h0M519.9 356.0h0M524.0 356.0h0M528.2 356.0h0M536.6 356.0h0M540.8 356.0h0M565.9 356.0h0M578.4 356.0h0M582.6 356.0h0M438.4 359.6h0M517.8 359.6h0M547.0 359.6h0M559.6 359.6h0M572.1 359.6h0M576.3 359.6h0M580.5 359.6h0M398.7 363.3h0M432.1 363.3h0M436.3 363.3h0M440.5 363.3h0M453.0 363.3h0M465.5 363.3h0M469.7 363.3h0M482.2 363.3h0M499.0 363.3h0M519.9 363.3h0M536.6 363.3h0M540.8 363.3h0M549.1 363.3h0M557.5 363.3h0M561.7 363.3h0M442.5 366.9h0M496.9 366.9h0M505.2 366.9h0M513.6 366.9h0M522.0 366.9h0M559.6 366.9h0M572.1 366.9h0M519.9 370.5h0M524.0 370.5h0M536.6 370.5h0M404.9 374.1h0M409.1 374.1h0M471.8 374.1h0M488.5 374.1h0M517.8 374.1h0M542.9 374.1h0M551.2 374.1h0M411.2 377.7h0M419.6 377.7h0M473.9 377.7h0M478.1 377.7h0M482.2 377.7h0M557.5 377.7h0M561.7 377.7h0M582.6 377.7h0M586.8 377.7h0M450.9 381.4h0M513.6 381.4h0M551.2 381.4h0M390.3 385.0h0M394.5 385.0h0M398.7 385.0h0M415.4 385.0h0M419.6 385.0h0M423.7 385.0h0M448.8 385.0h0M515.7 385.0h0M540.8 385.0h0M565.9 385.0h0M392.4 388.6h0M396.6 388.6h0M413.3 388.6h0M446.7 388.6h0M522.0 388.6h0M567.9 388.6h0M415.4 392.2h0M444.6 392.2h0M448.8 392.2h0M461.4 392.2h0M490.6 392.2h0M503.2 392.2h0M511.5 392.2h0M545.0 392.2h0M570.0 392.2h0M379.8 395.8h0M392.4 395.8h0M421.6 395.8h0M442.5 395.8h0M446.7 395.8h0M484.3 395.8h0M488.5 395.8h0M513.6 395.8h0M559.6 395.8h0M567.9 395.8h0M580.5 395.8h0M390.3 399.5h0M407.0 399.5h0M419.6 399.5h0M423.7 399.5h0M440.5 399.5h0M448.8 399.5h0M482.2 399.5h0M486.4 399.5h0M490.6 399.5h0M494.8 399.5h0M557.5 399.5h0M586.8 399.5h0M388.2 403.1h0M396.6 403.1h0M476.0 403.1h0M484.3 403.1h0M509.4 403.1h0M542.9 403.1h0M563.8 403.1h0M567.9 403.1h0M584.7 403.1h0M386.1 406.7h0M390.3 406.7h0M402.8 406.7h0M423.7 406.7h0M440.5 406.7h0M444.6 406.7h0M448.8 406.7h0M570.0 406.7h0M396.6 410.3h0M404.9 410.3h0M417.5 410.3h0M421.6 410.3h0M425.8 410.3h0M442.5 410.3h0M455.1 410.3h0M551.2 410.3h0M563.8 410.3h0M584.7 410.3h0M588.8 410.3h0M415.4 413.9h0M419.6 413.9h0M423.7 413.9h0M432.1 413.9h0M469.7 413.9h0M490.6 413.9h0M511.5 413.9h0M515.7 413.9h0M519.9 413.9h0M528.2 413.9h0M545.0 413.9h0M586.8 413.9h0M375.7 417.6h0M417.5 417.6h0M425.8 417.6h0M442.5 417.6h0M446.7 417.6h0M488.5 417.6h0M505.2 417.6h0M526.1 417.6h0M538.7 417.6h0M567.9 417.6h0M588.8 417.6h0M386.1 421.2h0M390.3 421.2h0M402.8 421.2h0M423.7 421.2h0M444.6 421.2h0M482.2 421.2h0M536.6 421.2h0M553.3 421.2h0M561.7 421.2h0M417.5 424.8h0M446.7 424.8h0M459.3 424.8h0M463.4 424.8h0M509.4 424.8h0M513.6 424.8h0M538.7 424.8h0M563.8 424.8h0M588.8 424.8h0M394.5 428.4h0M402.8 428.4h0M427.9 428.4h0M448.8 428.4h0M457.2 428.4h0M461.4 428.4h0M482.2 428.4h0M499.0 428.4h0M503.2 428.4h0M528.2 428.4h0M574.2 428.4h0M590.9 428.4h0M375.7 432.0h0M396.6 432.0h0M455.1 432.0h0M459.3 432.0h0M501.1 432.0h0M505.2 432.0h0M551.2 432.0h0M580.5 432.0h0M588.8 432.0h0M377.8 435.7h0M398.7 435.7h0M402.8 435.7h0M411.2 435.7h0M436.3 435.7h0M440.5 435.7h0M457.2 435.7h0M494.8 435.7h0M499.0 435.7h0M515.7 435.7h0M524.0 435.7h0M565.9 435.7h0M586.8 435.7h0M590.9 435.7h0M409.1 439.3h0M438.4 439.3h0M463.4 439.3h0M480.2 439.3h0M484.3 439.3h0M513.6 439.3h0M517.8 439.3h0M526.1 439.3h0M530.3 439.3h0M542.9 439.3h0M559.6 439.3h0M588.8 439.3h0M365.2 442.9h0M377.8 442.9h0M381.9 442.9h0M411.2 442.9h0M415.4 442.9h0M427.9 442.9h0M444.6 442.9h0M448.8 442.9h0M461.4 442.9h0M486.4 442.9h0M490.6 442.9h0M499.0 442.9h0M503.2 442.9h0M507.3 442.9h0M536.6 442.9h0M549.1 442.9h0M553.3 442.9h0M570.0 442.9h0M413.3 446.5h0M425.8 446.5h0M434.2 446.5h0M471.8 446.5h0M538.7 446.5h0M551.2 446.5h0M555.4 446.5h0M559.6 446.5h0M576.3 446.5h0M588.8 446.5h0M402.8 450.1h0M436.3 450.1h0M482.2 450.1h0M494.8 450.1h0M503.2 450.1h0M524.0 450.1h0M528.2 450.1h0M532.4 450.1h0M536.6 450.1h0M540.8 450.1h0M557.5 450.1h0M561.7 450.1h0M400.7 453.8h0M421.6 453.8h0M434.2 453.8h0M450.9 453.8h0M476.0 453.8h0M484.3 453.8h0M563.8 453.8h0M402.8 457.4h0M407.0 457.4h0M411.2 457.4h0M419.6 457.4h0M432.1 457.4h0M436.3 457.4h0M444.6 457.4h0M453.0 457.4h0M457.2 457.4h0M490.6 457.4h0M494.8 457.4h0M524.0 457.4h0M425.8 461.0h0M442.5 461.0h0M446.7 461.0h0M492.7 461.0h0M501.1 461.0h0M505.2 461.0h0M526.1 461.0h0M530.3 461.0h0M567.9 461.0h0M576.3 461.0h0M373.6 464.6h0M411.2 464.6h0M448.8 464.6h0M457.2 464.6h0M482.2 464.6h0M490.6 464.6h0M503.2 464.6h0M519.9 464.6h0M528.2 464.6h0M549.1 464.6h0M553.3 464.6h0M371.5 468.2h0M450.9 468.2h0M455.1 468.2h0M463.4 468.2h0M471.8 468.2h0M480.2 468.2h0M542.9 468.2h0M453.0 471.9h0M461.4 471.9h0M465.5 471.9h0M478.1 471.9h0M482.2 471.9h0M515.7 471.9h0M519.9 471.9h0M528.2 471.9h0M532.4 471.9h0M363.1 475.5h0M375.7 475.5h0M379.8 475.5h0M396.6 475.5h0M404.9 475.5h0M409.1 475.5h0M430.0 475.5h0M455.1 475.5h0M459.3 475.5h0M463.4 475.5h0M509.4 475.5h0M530.3 475.5h0M365.2 479.1h0M407.0 479.1h0M432.1 479.1h0M440.5 479.1h0M473.9 479.1h0M384.0 482.7h0M404.9 482.7h0M409.1 482.7h0M417.5 482.7h0M463.4 482.7h0M467.6 482.7h0M471.8 482.7h0M484.3 482.7h0M488.5 482.7h0M496.9 482.7h0M501.1 482.7h0M530.3 482.7h0M538.7 482.7h0M542.9 482.7h0M361.0 486.3h0M390.3 486.3h0M407.0 486.3h0M411.2 486.3h0M432.1 486.3h0M461.4 486.3h0M465.5 486.3h0M469.7 486.3h0M473.9 486.3h0M478.1 486.3h0M507.3 486.3h0M528.2 486.3h0M540.8 486.3h0M545.0 486.3h0M371.5 490.0h0M379.8 490.0h0M384.0 490.0h0M413.3 490.0h0M438.4 490.0h0M459.3 490.0h0M467.6 490.0h0M484.3 490.0h0M509.4 490.0h0M542.9 490.0h0M381.9 493.6h0M390.3 493.6h0M394.5 493.6h0M398.7 493.6h0M411.2 493.6h0M415.4 493.6h0M469.7 493.6h0M507.3 493.6h0M528.2 493.6h0M434.2 497.2h0M471.8 497.2h0M505.2 497.2h0M517.8 497.2h0M356.9 500.8h0M427.9 500.8h0M432.1 500.8h0M444.6 500.8h0M469.7 500.8h0M473.9 500.8h0M478.1 500.8h0M515.7 500.8h0M446.7 504.4h0M455.1 504.4h0M398.7 508.1h0M415.4 508.1h0M423.7 508.1h0M473.9 508.1h0M482.2 508.1h0M519.9 508.1h0M545.0 508.1h0M409.1 511.7h0M413.3 511.7h0M438.4 511.7h0M442.5 511.7h0M522.0 511.7h0M530.3 511.7h0M348.5 515.3h0M402.8 515.3h0M415.4 515.3h0M444.6 515.3h0M457.2 515.3h0M465.5 515.3h0M494.8 515.3h0M363.1 518.9h0M400.7 518.9h0M446.7 518.9h0M450.9 518.9h0M522.0 518.9h0M538.7 518.9h0M373.6 522.5h0M381.9 522.5h0M398.7 522.5h0M411.2 522.5h0M419.6 522.5h0M427.9 522.5h0M457.2 522.5h0M494.8 522.5h0M404.9 526.2h0M421.6 526.2h0M467.6 526.2h0M492.7 526.2h0M386.1 529.8h0M398.7 529.8h0M427.9 529.8h0M444.6 529.8h0M511.5 529.8h0M528.2 529.8h0M396.6 533.4h0M425.8 533.4h0M446.7 533.4h0M450.9 533.4h0M390.3 537.0h0M448.8 537.0h0M457.2 537.0h0M515.7 537.0h0M524.0 537.0h0M354.8 540.6h0M480.2 540.6h0M356.9 544.3h0M381.9 544.3h0M490.6 544.3h0M503.2 544.3h0M392.4 547.9h0M396.6 547.9h0M455.1 547.9h0M471.8 547.9h0M476.0 547.9h0M492.7 547.9h0M427.9 551.5h0M469.7 551.5h0M473.9 551.5h0M478.1 551.5h0M438.4 555.1h0M476.0 555.1h0M480.2 555.1h0M402.8 558.7h0M423.7 558.7h0M432.1 558.7h0M436.3 558.7h0M444.6 558.7h0M409.1 562.4h0M413.3 562.4h0M442.5 562.4h0M450.9 562.4h0M455.1 562.4h0M480.2 562.4h0M484.3 562.4h0M407.0 566.0h0M440.5 566.0h0M417.5 569.6h0M419.6 573.2h0M459.3 576.8h0" stroke="#A3A500" stroke-width="3.1" stroke-linecap="round" fill="none"/>
<path d="M536.6 319.8h0M565.9 319.8h0M467.6 323.4h0M501.1 323.4h0M567.9 323.4h0M588.8 323.4h0M419.6 327.1h0M499.0 327.1h0M413.3 330.7h0M411.2 334.3h0M444.6 334.3h0M409.1 337.9h0M413.3 337.9h0M417.5 337.9h0M492.7 337.9h0M432.1 341.5h0M561.7 341.5h0M409.1 345.2h0M425.8 345.2h0M459.3 345.2h0M463.4 345.2h0M559.6 345.2h0M563.8 345.2h0M407.0 348.8h0M423.7 348.8h0M457.2 348.8h0M574.2 348.8h0M578.4 348.8h0M400.7 352.4h0M404.9 352.4h0M459.3 352.4h0M463.4 352.4h0M542.9 352.4h0M547.0 352.4h0M448.8 356.0h0M392.4 359.6h0M396.6 359.6h0M421.6 359.6h0M501.1 359.6h0M588.8 359.6h0M381.9 363.3h0M386.1 363.3h0M461.4 363.3h0M528.2 363.3h0M545.0 363.3h0M570.0 363.3h0M582.6 363.3h0M400.7 366.9h0M404.9 366.9h0M409.1 366.9h0M413.3 366.9h0M467.6 366.9h0M501.1 366.9h0M584.7 366.9h0M402.8 370.5h0M407.0 370.5h0M436.3 370.5h0M450.9 374.1h0M501.1 374.1h0M394.5 377.7h0M398.7 377.7h0M453.0 377.7h0M524.0 377.7h0M532.4 377.7h0M392.4 381.4h0M396.6 381.4h0M421.6 381.4h0M480.2 381.4h0M555.4 381.4h0M440.5 385.0h0M494.8 385.0h0M503.2 385.0h0M388.2 388.6h0M442.5 388.6h0M377.8 392.2h0M390.3 392.2h0M528.2 392.2h0M536.6 392.2h0M586.8 392.2h0M371.5 395.8h0M375.7 395.8h0M409.1 395.8h0M425.8 395.8h0M430.0 395.8h0M471.8 395.8h0M588.8 395.8h0M373.6 399.5h0M386.1 399.5h0M402.8 399.5h0M427.9 399.5h0M515.7 399.5h0M524.0 399.5h0M549.1 399.5h0M371.5 403.1h0M417.5 403.1h0M425.8 403.1h0M463.4 403.1h0M517.8 403.1h0M522.0 403.1h0M419.6 406.7h0M427.9 406.7h0M432.1 406.7h0M436.3 406.7h0M565.9 406.7h0M371.5 410.3h0M392.4 410.3h0M434.2 410.3h0M450.9 410.3h0M522.0 410.3h0M567.9 410.3h0M572.1 410.3h0M373.6 413.9h0M381.9 413.9h0M524.0 413.9h0M565.9 413.9h0M388.2 417.6h0M480.2 417.6h0M373.6 421.2h0M394.5 421.2h0M478.1 421.2h0M565.9 421.2h0M570.0 421.2h0M375.7 424.8h0M421.6 424.8h0M567.9 424.8h0M373.6 428.4h0M570.0 428.4h0M388.2 432.0h0M488.5 432.0h0M526.1 432.0h0M534.5 432.0h0M538.7 432.0h0M559.6 432.0h0M365.2 435.7h0M369.4 435.7h0M381.9 435.7h0M444.6 435.7h0M448.8 435.7h0M469.7 435.7h0M473.9 435.7h0M557.5 435.7h0M363.1 439.3h0M367.3 439.3h0M379.8 439.3h0M417.5 439.3h0M572.1 439.3h0M361.0 442.9h0M369.4 442.9h0M419.6 442.9h0M453.0 442.9h0M515.7 442.9h0M358.9 446.5h0M363.1 446.5h0M367.3 446.5h0M396.6 446.5h0M417.5 446.5h0M450.9 446.5h0M459.3 446.5h0M522.0 446.5h0M563.8 446.5h0M567.9 446.5h0M572.1 446.5h0M584.7 446.5h0M369.4 450.1h0M377.8 450.1h0M381.9 450.1h0M394.5 450.1h0M398.7 450.1h0M407.0 450.1h0M444.6 450.1h0M490.6 450.1h0M367.3 453.8h0M384.0 453.8h0M388.2 453.8h0M392.4 453.8h0M425.8 453.8h0M501.1 453.8h0M567.9 453.8h0M572.1 453.8h0M361.0 457.4h0M365.2 457.4h0M373.6 457.4h0M386.1 457.4h0M394.5 457.4h0M398.7 457.4h0M499.0 457.4h0M519.9 457.4h0M532.4 457.4h0M549.1 457.4h0M570.0 457.4h0M586.8 457.4h0M590.9 457.4h0M367.3 461.0h0M371.5 461.0h0M430.0 461.0h0M434.2 461.0h0M522.0 461.0h0M572.1 461.0h0M580.5 461.0h0M584.7 461.0h0M588.8 461.0h0M365.2 464.6h0M369.4 464.6h0M386.1 464.6h0M390.3 464.6h0M461.4 464.6h0M507.3 464.6h0M532.4 464.6h0M574.2 464.6h0M582.6 464.6h0M363.1 468.2h0M367.3 468.2h0M379.8 468.2h0M459.3 468.2h0M517.8 468.2h0M563.8 468.2h0M584.7 468.2h0M588.8 468.2h0M356.9 471.9h0M361.0 471.9h0M365.2 471.9h0M369.4 471.9h0M373.6 471.9h0M377.8 471.9h0M394.5 471.9h0M436.3 471.9h0M457.2 471.9h0M511.5 471.9h0M545.0 471.9h0M549.1 471.9h0M565.9 471.9h0M570.0 471.9h0M574.2 471.9h0M578.4 471.9h0M582.6 471.9h0M586.8 471.9h0M590.9 471.9h0M354.8 475.5h0M358.9 475.5h0M442.5 475.5h0M476.0 475.5h0M513.6 475.5h0M517.8 475.5h0M542.9 475.5h0M547.0 475.5h0M551.2 475.5h0M559.6 475.5h0M563.8 475.5h0M572.1 475.5h0M576.3 475.5h0M580.5 475.5h0M356.9 479.1h0M361.0 479.1h0M373.6 479.1h0M394.5 479.1h0M398.7 479.1h0M402.8 479.1h0M427.9 479.1h0M436.3 479.1h0M511.5 479.1h0M549.1 479.1h0M557.5 479.1h0M561.7 479.1h0M565.9 479.1h0M354.8 482.7h0M358.9 482.7h0M363.1 482.7h0M367.3 482.7h0M375.7 482.7h0M379.8 482.7h0M392.4 482.7h0M425.8 482.7h0M438.4 482.7h0M526.1 482.7h0M547.0 482.7h0M551.2 482.7h0M555.4 482.7h0M572.1 482.7h0M356.9 486.3h0M377.8 486.3h0M386.1 486.3h0M490.6 486.3h0M532.4 486.3h0M536.6 486.3h0M557.5 486.3h0M561.7 486.3h0M574.2 486.3h0M586.8 486.3h0M350.6 490.0h0M354.8 490.0h0M388.2 490.0h0M396.6 490.0h0M417.5 490.0h0M455.1 490.0h0M517.8 490.0h0M547.0 490.0h0M551.2 490.0h0M563.8 490.0h0M567.9 490.0h0M584.7 490.0h0M344.3 493.6h0M348.5 493.6h0M352.7 493.6h0M361.0 493.6h0M365.2 493.6h0M377.8 493.6h0M457.2 493.6h0M486.4 493.6h0M524.0 493.6h0M540.8 493.6h0M545.0 493.6h0M549.1 493.6h0M557.5 493.6h0M561.7 493.6h0M565.9 493.6h0M570.0 493.6h0M582.6 493.6h0M346.4 497.2h0M350.6 497.2h0M354.8 497.2h0M358.9 497.2h0M371.5 497.2h0M375.7 497.2h0M384.0 497.2h0M396.6 497.2h0M400.7 497.2h0M404.9 497.2h0M413.3 497.2h0M459.3 497.2h0M480.2 497.2h0M534.5 497.2h0M538.7 497.2h0M542.9 497.2h0M547.0 497.2h0M555.4 497.2h0M559.6 497.2h0M567.9 497.2h0M572.1 497.2h0M576.3 497.2h0M348.5 500.8h0M352.7 500.8h0M369.4 500.8h0M373.6 500.8h0M390.3 500.8h0M402.8 500.8h0M415.4 500.8h0M448.8 500.8h0M453.0 500.8h0M457.2 500.8h0M461.4 500.8h0M503.2 500.8h0M507.3 500.8h0M519.9 500.8h0M532.4 500.8h0M536.6 500.8h0M540.8 500.8h0M545.0 500.8h0M553.3 500.8h0M570.0 500.8h0M574.2 500.8h0M350.6 504.4h0M354.8 504.4h0M363.1 504.4h0M367.3 504.4h0M371.5 504.4h0M375.7 504.4h0M501.1 504.4h0M509.4 504.4h0M517.8 504.4h0M522.0 504.4h0M534.5 504.4h0M542.9 504.4h0M547.0 504.4h0M555.4 504.4h0M563.8 504.4h0M567.9 504.4h0M348.5 508.1h0M356.9 508.1h0M365.2 508.1h0M369.4 508.1h0M373.6 508.1h0M381.9 508.1h0M386.1 508.1h0M507.3 508.1h0M515.7 508.1h0M540.8 508.1h0M549.1 508.1h0M553.3 508.1h0M565.9 508.1h0M350.6 511.7h0M354.8 511.7h0M358.9 511.7h0M379.8 511.7h0M388.2 511.7h0M459.3 511.7h0M517.8 511.7h0M538.7 511.7h0M356.9 515.3h0M361.0 515.3h0M377.8 515.3h0M390.3 515.3h0M499.0 515.3h0M524.0 515.3h0M528.2 515.3h0M540.8 515.3h0M549.1 515.3h0M553.3 515.3h0M350.6 518.9h0M354.8 518.9h0M358.9 518.9h0M371.5 518.9h0M375.7 518.9h0M379.8 518.9h0M421.6 518.9h0M425.8 518.9h0M513.6 518.9h0M542.9 518.9h0M348.5 522.5h0M352.7 522.5h0M356.9 522.5h0M365.2 522.5h0M369.4 522.5h0M377.8 522.5h0M402.8 522.5h0M436.3 522.5h0M486.4 522.5h0M499.0 522.5h0M515.7 522.5h0M540.8 522.5h0M350.6 526.2h0M354.8 526.2h0M367.3 526.2h0M375.7 526.2h0M400.7 526.2h0M522.0 526.2h0M538.7 526.2h0M352.7 529.8h0M356.9 529.8h0M369.4 529.8h0M373.6 529.8h0M377.8 529.8h0M381.9 529.8h0M394.5 529.8h0M432.1 529.8h0M436.3 529.8h0M486.4 529.8h0M490.6 529.8h0M499.0 529.8h0M503.2 529.8h0M532.4 529.8h0M358.9 533.4h0M363.1 533.4h0M367.3 533.4h0M371.5 533.4h0M388.2 533.4h0M409.1 533.4h0M430.0 533.4h0M509.4 533.4h0M530.3 533.4h0M352.7 537.0h0M361.0 537.0h0M365.2 537.0h0M369.4 537.0h0M373.6 537.0h0M377.8 537.0h0M381.9 537.0h0M386.1 537.0h0M432.1 537.0h0M482.2 537.0h0M358.9 540.6h0M363.1 540.6h0M367.3 540.6h0M371.5 540.6h0M375.7 540.6h0M379.8 540.6h0M388.2 540.6h0M392.4 540.6h0M396.6 540.6h0M484.3 540.6h0M509.4 540.6h0M365.2 544.3h0M369.4 544.3h0M373.6 544.3h0M390.3 544.3h0M394.5 544.3h0M398.7 544.3h0M411.2 544.3h0M515.7 544.3h0M371.5 547.9h0M375.7 547.9h0M384.0 547.9h0M413.3 547.9h0M438.4 547.9h0M442.5 547.9h0M488.5 547.9h0M509.4 547.9h0M513.6 547.9h0M377.8 551.5h0M386.1 551.5h0M436.3 551.5h0M440.5 551.5h0M465.5 551.5h0M486.4 551.5h0M490.6 551.5h0M384.0 555.1h0M388.2 555.1h0M392.4 555.1h0M455.1 555.1h0M407.0 558.7h0M411.2 558.7h0M415.4 558.7h0M453.0 558.7h0M457.2 558.7h0M482.2 558.7h0M490.6 558.7h0M494.8 558.7h0M404.9 562.4h0M425.8 562.4h0M430.0 562.4h0M471.8 562.4h0M488.5 562.4h0M398.7 566.0h0M402.8 566.0h0M453.0 566.0h0M473.9 566.0h0M421.6 569.6h0M450.9 569.6h0M484.3 569.6h0M402.8 573.2h0M411.2 573.2h0M423.7 573.2h0M482.2 573.2h0M404.9 576.8h0M409.1 576.8h0M413.3 576.8h0M455.1 576.8h0M407.0 580.5h0M436.3 580.5h0M457.2 580.5h0M469.7 580.5h0M473.9 580.5h0M417.5 584.1h0M421.6 584.1h0M425.8 584.1h0M430.0 584.1h0M434.2 584.1h0M442.5 584.1h0M446.7 584.1h0M455.1 584.1h0M471.8 584.1h0" stroke="#39B600" stroke-width="3.1" stroke-linecap="round" fill="none"/>
<path d="M446.7 316.2h0M450.9 316.2h0M455.1 316.2h0M467.6 316.2h0M484.3 316.2h0M505.2 316.2h0M444.6 319.8h0M461.4 319.8h0M465.5 319.8h0M450.9 323.4h0M463.4 323.4h0M492.7 323.4h0M526.1 323.4h0M530.3 323.4h0M538.7 323.4h0M436.3 327.1h0M457.2 327.1h0M490.6 327.1h0M515.7 327.1h0M519.9 327.1h0M570.0 327.1h0M574.2 327.1h0M438.4 330.7h0M446.7 330.7h0M455.1 330.7h0M476.0 330.7h0M517.8 330.7h0M572.1 330.7h0M580.5 330.7h0M432.1 334.3h0M436.3 334.3h0M453.0 334.3h0M457.2 334.3h0M490.6 334.3h0M499.0 334.3h0M545.0 334.3h0M570.0 334.3h0M463.4 337.9h0M496.9 337.9h0M517.8 337.9h0M415.4 341.5h0M478.1 341.5h0M482.2 341.5h0M511.5 341.5h0M515.7 341.5h0M578.4 341.5h0M430.0 345.2h0M455.1 345.2h0M484.3 345.2h0M488.5 345.2h0M501.1 345.2h0M547.0 345.2h0M419.6 348.8h0M465.5 348.8h0M469.7 348.8h0M490.6 348.8h0M494.8 348.8h0M499.0 348.8h0M430.0 352.4h0M438.4 352.4h0M442.5 352.4h0M488.5 352.4h0M492.7 352.4h0M555.4 352.4h0M559.6 352.4h0M402.8 356.0h0M411.2 356.0h0M432.1 356.0h0M440.5 356.0h0M469.7 356.0h0M490.6 356.0h0M494.8 356.0h0M450.9 359.6h0M459.3 359.6h0M492.7 359.6h0M496.9 359.6h0M526.1 359.6h0M542.9 359.6h0M567.9 359.6h0M411.2 363.3h0M415.4 363.3h0M457.2 363.3h0M494.8 363.3h0M565.9 363.3h0M417.5 366.9h0M471.8 366.9h0M476.0 366.9h0M555.4 366.9h0M419.6 370.5h0M440.5 370.5h0M494.8 370.5h0M511.5 370.5h0M528.2 370.5h0M532.4 370.5h0M545.0 370.5h0M557.5 370.5h0M570.0 370.5h0M574.2 370.5h0M578.4 370.5h0M582.6 370.5h0M586.8 370.5h0M438.4 374.1h0M442.5 374.1h0M467.6 374.1h0M484.3 374.1h0M496.9 374.1h0M530.3 374.1h0M572.1 374.1h0M576.3 374.1h0M580.5 374.1h0M465.5 377.7h0M469.7 377.7h0M486.4 377.7h0M494.8 377.7h0M570.0 377.7h0M400.7 381.4h0M417.5 381.4h0M430.0 381.4h0M455.1 381.4h0M476.0 381.4h0M530.3 381.4h0M542.9 381.4h0M572.1 381.4h0M432.1 385.0h0M436.3 385.0h0M528.2 385.0h0M545.0 385.0h0M549.1 385.0h0M574.2 385.0h0M430.0 388.6h0M434.2 388.6h0M438.4 388.6h0M555.4 388.6h0M386.1 392.2h0M394.5 392.2h0M398.7 392.2h0M432.1 392.2h0M473.9 392.2h0M561.7 392.2h0M574.2 392.2h0M590.9 392.2h0M396.6 395.8h0M501.1 395.8h0M542.9 395.8h0M551.2 395.8h0M555.4 395.8h0M563.8 395.8h0M572.1 395.8h0M394.5 399.5h0M411.2 399.5h0M532.4 399.5h0M545.0 399.5h0M574.2 399.5h0M578.4 399.5h0M400.7 403.1h0M404.9 403.1h0M409.1 403.1h0M413.3 403.1h0M438.4 403.1h0M450.9 403.1h0M530.3 403.1h0M576.3 403.1h0M377.8 406.7h0M469.7 406.7h0M478.1 406.7h0M486.4 406.7h0M507.3 406.7h0M511.5 406.7h0M528.2 406.7h0M467.6 410.3h0M480.2 410.3h0M509.4 410.3h0M513.6 410.3h0M390.3 413.9h0M465.5 413.9h0M478.1 413.9h0M392.4 417.6h0M413.3 417.6h0M509.4 417.6h0M517.8 417.6h0M377.8 421.2h0M465.5 421.2h0M486.4 421.2h0M499.0 421.2h0M549.1 421.2h0M388.2 424.8h0M400.7 424.8h0M467.6 424.8h0M471.8 424.8h0M484.3 424.8h0M572.1 424.8h0M390.3 428.4h0M444.6 428.4h0M465.5 428.4h0M561.7 428.4h0M400.7 432.0h0M438.4 432.0h0M476.0 432.0h0M555.4 432.0h0M567.9 432.0h0M572.1 432.0h0M373.6 435.7h0M386.1 435.7h0M394.5 435.7h0M461.4 435.7h0M486.4 435.7h0M503.2 435.7h0M519.9 435.7h0M553.3 435.7h0M574.2 435.7h0M578.4 435.7h0M582.6 435.7h0M371.5 439.3h0M375.7 439.3h0M421.6 439.3h0M467.6 439.3h0M471.8 439.3h0M476.0 439.3h0M501.1 439.3h0M576.3 439.3h0M580.5 439.3h0M584.7 439.3h0M390.3 442.9h0M398.7 442.9h0M432.1 442.9h0M465.5 442.9h0M469.7 442.9h0M511.5 442.9h0M578.4 442.9h0M388.2 446.5h0M392.4 446.5h0M430.0 446.5h0M463.4 446.5h0M467.6 446.5h0M415.4 450.1h0M419.6 450.1h0M461.4 450.1h0M549.1 450.1h0M553.3 450.1h0M570.0 450.1h0M459.3 453.8h0M471.8 453.8h0M480.2 453.8h0M522.0 453.8h0M461.4 457.4h0M578.4 457.4h0M409.1 461.0h0M480.2 461.0h0M488.5 461.0h0M534.5 461.0h0M547.0 461.0h0M559.6 461.0h0M381.9 464.6h0M415.4 464.6h0M419.6 464.6h0M440.5 464.6h0M444.6 464.6h0M478.1 464.6h0M557.5 464.6h0M586.8 464.6h0M590.9 464.6h0M384.0 468.2h0M404.9 468.2h0M409.1 468.2h0M425.8 468.2h0M442.5 468.2h0M501.1 468.2h0M513.6 468.2h0M551.2 468.2h0M555.4 468.2h0M407.0 471.9h0M411.2 471.9h0M432.1 471.9h0M444.6 471.9h0M448.8 471.9h0M469.7 471.9h0M473.9 471.9h0M503.2 471.9h0M540.8 471.9h0M413.3 475.5h0M467.6 475.5h0M501.1 475.5h0M538.7 475.5h0M567.9 475.5h0M423.7 479.1h0M465.5 479.1h0M469.7 479.1h0M515.7 479.1h0M532.4 479.1h0M536.6 479.1h0M578.4 479.1h0M582.6 479.1h0M421.6 482.7h0M430.0 482.7h0M434.2 482.7h0M446.7 482.7h0M459.3 482.7h0M513.6 482.7h0M534.5 482.7h0M576.3 482.7h0M365.2 486.3h0M369.4 486.3h0M373.6 486.3h0M415.4 486.3h0M436.3 486.3h0M440.5 486.3h0M453.0 486.3h0M524.0 486.3h0M553.3 486.3h0M578.4 486.3h0M358.9 490.0h0M375.7 490.0h0M409.1 490.0h0M442.5 490.0h0M450.9 490.0h0M463.4 490.0h0M501.1 490.0h0M505.2 490.0h0M530.3 490.0h0M555.4 490.0h0M572.1 490.0h0M576.3 490.0h0M356.9 493.6h0M402.8 493.6h0M444.6 493.6h0M465.5 493.6h0M484.3 497.2h0M398.7 500.8h0M486.4 500.8h0M388.2 504.4h0M392.4 504.4h0M450.9 504.4h0M459.3 504.4h0M530.3 504.4h0M551.2 504.4h0M559.6 504.4h0M352.7 508.1h0M444.6 508.1h0M453.0 508.1h0M457.2 508.1h0M490.6 508.1h0M494.8 508.1h0M557.5 508.1h0M561.7 508.1h0M375.7 511.7h0M392.4 511.7h0M501.1 511.7h0M555.4 511.7h0M381.9 515.3h0M386.1 515.3h0M394.5 515.3h0M511.5 515.3h0M388.2 518.9h0M396.6 518.9h0M434.2 518.9h0M438.4 518.9h0M488.5 518.9h0M361.0 522.5h0M423.7 522.5h0M440.5 522.5h0M490.6 522.5h0M503.2 522.5h0M511.5 522.5h0M536.6 522.5h0M430.0 526.2h0M434.2 526.2h0M442.5 526.2h0M446.7 526.2h0M505.2 526.2h0M509.4 526.2h0M465.5 529.8h0M469.7 529.8h0M478.1 529.8h0M384.0 533.4h0M434.2 533.4h0M471.8 533.4h0M476.0 533.4h0M488.5 533.4h0M492.7 533.4h0M356.9 537.0h0M398.7 537.0h0M499.0 537.0h0M519.9 537.0h0M400.7 540.6h0M404.9 540.6h0M421.6 540.6h0M430.0 540.6h0M450.9 540.6h0M517.8 540.6h0M461.4 544.3h0M379.8 547.9h0M404.9 547.9h0M480.2 547.9h0M381.9 551.5h0M402.8 551.5h0M482.2 551.5h0M417.5 555.1h0M421.6 555.1h0M394.5 558.7h0M419.6 558.7h0M438.4 562.4h0M459.3 562.4h0M463.4 562.4h0M469.7 566.0h0M478.1 566.0h0M404.9 569.6h0M425.8 569.6h0M434.2 569.6h0M467.6 569.6h0M471.8 569.6h0M427.9 573.2h0M430.0 576.8h0M434.2 576.8h0M467.6 576.8h0M476.0 576.8h0M415.4 580.5h0M427.9 580.5h0M476.0 584.1h0" stroke="#00BF7D" stroke-width="3.1" stroke-linecap="round" fill="none"/>
<path d="M488.5 316.2h0M509.4 316.2h0M436.3 319.8h0M486.4 319.8h0M511.5 319.8h0M582.6 319.8h0M476.0 323.4h0M513.6 323.4h0M580.5 323.4h0M448.8 327.1h0M540.8 327.1h0M450.9 330.7h0M513.6 330.7h0M582.6 334.3h0M407.0 341.5h0M411.2 341.5h0M524.0 341.5h0M540.8 341.5h0M576.3 345.2h0M549.1 348.8h0M576.3 352.4h0M425.8 359.6h0M534.5 359.6h0M538.7 359.6h0M532.4 363.3h0M586.8 363.3h0M448.8 370.5h0M448.8 377.7h0M457.2 377.7h0M461.4 377.7h0M553.3 377.7h0M576.3 381.4h0M580.5 381.4h0M478.1 385.0h0M553.3 385.0h0M578.4 385.0h0M542.9 388.6h0M547.0 388.6h0M436.3 392.2h0M400.7 395.8h0M509.4 395.8h0M436.3 399.5h0M507.3 399.5h0M570.0 399.5h0M582.6 399.5h0M392.4 403.1h0M471.8 403.1h0M501.1 403.1h0M457.2 406.7h0M473.9 406.7h0M499.0 406.7h0M503.2 406.7h0M375.7 410.3h0M379.8 410.3h0M463.4 410.3h0M411.2 413.9h0M461.4 413.9h0M473.9 413.9h0M501.1 417.6h0M528.2 421.2h0M532.4 421.2h0M557.5 421.2h0M430.0 424.8h0M496.9 424.8h0M432.1 428.4h0M536.6 428.4h0M463.4 432.0h0M407.0 435.7h0M415.4 435.7h0M388.2 439.3h0M404.9 439.3h0M459.3 439.3h0M407.0 442.9h0M440.5 442.9h0M457.2 442.9h0M455.1 446.5h0M480.2 446.5h0M547.0 446.5h0M365.2 450.1h0M469.7 450.1h0M473.9 450.1h0M478.1 450.1h0M499.0 450.1h0M496.9 453.8h0M473.9 457.4h0M396.6 461.0h0M484.3 461.0h0M394.5 464.6h0M398.7 464.6h0M570.0 464.6h0M392.4 468.2h0M505.2 468.2h0M530.3 468.2h0M567.9 468.2h0M572.1 468.2h0M425.8 475.5h0M377.8 479.1h0M371.5 482.7h0M367.3 490.0h0M369.4 493.6h0M373.6 493.6h0M423.7 493.6h0M473.9 493.6h0M478.1 493.6h0M511.5 493.6h0M553.3 493.6h0M476.0 497.2h0M488.5 497.2h0M551.2 497.2h0M563.8 497.2h0M386.1 500.8h0M440.5 500.8h0M490.6 500.8h0M557.5 500.8h0M561.7 500.8h0M379.8 504.4h0M438.4 504.4h0M476.0 504.4h0M526.1 504.4h0M499.0 508.1h0M503.2 508.1h0M528.2 508.1h0M425.8 511.7h0M434.2 511.7h0M496.9 511.7h0M505.2 511.7h0M542.9 511.7h0M503.2 515.3h0M545.0 515.3h0M480.2 518.9h0M530.3 518.9h0M532.4 522.5h0M379.8 526.2h0M501.1 526.2h0M473.9 529.8h0M507.3 529.8h0M400.7 533.4h0M404.9 533.4h0M438.4 533.4h0M501.1 533.4h0M505.2 533.4h0M402.8 537.0h0M407.0 537.0h0M503.2 537.0h0M432.1 544.3h0M407.0 551.5h0M503.2 551.5h0M486.4 558.7h0M453.0 573.2h0M467.6 584.1h0" stroke="#00BFC4" stroke-width="3.1" stroke-linecap="round" fill="none"/>
<path d="M501.1 316.2h0M555.4 316.2h0M457.2 319.8h0M469.7 319.8h0M494.8 319.8h0M499.0 319.8h0M553.3 319.8h0M455.1 323.4h0M471.8 323.4h0M534.5 323.4h0M453.0 327.1h0M536.6 327.1h0M530.3 330.7h0M551.2 330.7h0M555.4 330.7h0M547.0 337.9h0M519.9 341.5h0M413.3 345.2h0M421.6 345.2h0M467.6 345.2h0M402.8 348.8h0M411.2 348.8h0M436.3 348.8h0M448.8 348.8h0M540.8 348.8h0M545.0 348.8h0M565.9 348.8h0M450.9 352.4h0M515.7 356.0h0M555.4 359.6h0M484.3 366.9h0M432.1 370.5h0M482.2 370.5h0M459.3 374.1h0M476.0 374.1h0M480.2 374.1h0M588.8 374.1h0M484.3 381.4h0M482.2 385.0h0M400.7 388.6h0M513.6 388.6h0M427.9 392.2h0M455.1 395.8h0M496.9 395.8h0M457.2 399.5h0M467.6 403.1h0M547.0 403.1h0M415.4 406.7h0M549.1 406.7h0M496.9 410.3h0M444.6 413.9h0M448.8 413.9h0M409.1 417.6h0M576.3 417.6h0M398.7 421.2h0M448.8 421.2h0M490.6 421.2h0M524.0 421.2h0M574.2 421.2h0M578.4 421.2h0M396.6 424.8h0M425.8 424.8h0M488.5 424.8h0M501.1 424.8h0M522.0 424.8h0M576.3 424.8h0M419.6 428.4h0M471.8 432.0h0M496.9 432.0h0M390.3 435.7h0M561.7 435.7h0M496.9 439.3h0M505.2 439.3h0M509.4 439.3h0M563.8 439.3h0M567.9 439.3h0M565.9 442.9h0M400.7 446.5h0M404.9 446.5h0M411.2 450.1h0M578.4 450.1h0M517.8 453.8h0M526.1 453.8h0M576.3 453.8h0M415.4 457.4h0M478.1 457.4h0M536.6 457.4h0M413.3 461.0h0M423.7 464.6h0M427.9 464.6h0M453.0 464.6h0M540.8 464.6h0M400.7 468.2h0M413.3 468.2h0M417.5 468.2h0M446.7 468.2h0M538.7 468.2h0M576.3 468.2h0M386.1 471.9h0M402.8 471.9h0M415.4 471.9h0M536.6 471.9h0M557.5 471.9h0M434.2 475.5h0M438.4 475.5h0M480.2 475.5h0M482.2 479.1h0M519.9 479.1h0M524.0 479.1h0M396.6 482.7h0M400.7 482.7h0M517.8 482.7h0M381.9 486.3h0M588.8 490.0h0M490.6 493.6h0M515.7 493.6h0M421.6 497.2h0M450.9 497.2h0M455.1 497.2h0M419.6 500.8h0M361.0 508.1h0M436.3 508.1h0M440.5 508.1h0M396.6 511.7h0M446.7 511.7h0M467.6 511.7h0M484.3 511.7h0M488.5 511.7h0M436.3 515.3h0M440.5 515.3h0M486.4 515.3h0M467.6 518.9h0M476.0 518.9h0M496.9 518.9h0M526.1 518.9h0M461.4 522.5h0M473.9 522.5h0M417.5 526.2h0M471.8 526.2h0M415.4 529.8h0M448.8 529.8h0M463.4 533.4h0M467.6 533.4h0M522.0 533.4h0M438.4 540.6h0M436.3 544.3h0M494.8 544.3h0M461.4 551.5h0M459.3 555.1h0M467.6 555.1h0M471.8 555.1h0M488.5 555.1h0M400.7 562.4h0M461.4 580.5h0" stroke="#00B0F6" stroke-width="3.1" stroke-linecap="round" fill="none"/>
<path d="M534.5 316.2h0M453.0 319.8h0M473.9 319.8h0M488.5 323.4h0M584.7 330.7h0M459.3 337.9h0M505.2 337.9h0M584.7 337.9h0M580.5 345.2h0M427.9 348.8h0M425.8 352.4h0M511.5 356.0h0M563.8 359.6h0M438.4 366.9h0M509.4 366.9h0M427.9 370.5h0M534.5 374.1h0M507.3 377.7h0M515.7 377.7h0M565.9 377.7h0M574.2 377.7h0M463.4 381.4h0M467.6 381.4h0M471.8 381.4h0M517.8 381.4h0M567.9 381.4h0M469.7 385.0h0M473.9 385.0h0M507.3 385.0h0M417.5 388.6h0M421.6 388.6h0M450.9 388.6h0M455.1 388.6h0M463.4 388.6h0M467.6 388.6h0M471.8 388.6h0M476.0 388.6h0M480.2 388.6h0M484.3 388.6h0M530.3 388.6h0M563.8 388.6h0M419.6 392.2h0M482.2 392.2h0M578.4 392.2h0M434.2 395.8h0M526.1 395.8h0M576.3 395.8h0M377.8 399.5h0M453.0 399.5h0M536.6 399.5h0M540.8 399.5h0M375.7 403.1h0M580.5 403.1h0M373.6 406.7h0M388.2 410.3h0M430.0 410.3h0M501.1 410.3h0M505.2 410.3h0M386.1 413.9h0M394.5 413.9h0M398.7 413.9h0M427.9 413.9h0M457.2 413.9h0M507.3 413.9h0M557.5 413.9h0M570.0 413.9h0M590.9 413.9h0M471.8 417.6h0M513.6 417.6h0M522.0 417.6h0M530.3 417.6h0M534.5 417.6h0M563.8 417.6h0M572.1 417.6h0M580.5 417.6h0M415.4 421.2h0M419.6 421.2h0M436.3 421.2h0M469.7 421.2h0M507.3 421.2h0M511.5 421.2h0M515.7 421.2h0M455.1 424.8h0M505.2 424.8h0M559.6 424.8h0M469.7 428.4h0M490.6 428.4h0M507.3 428.4h0M511.5 428.4h0M553.3 428.4h0M565.9 428.4h0M578.4 428.4h0M582.6 428.4h0M586.8 428.4h0M392.4 432.0h0M404.9 432.0h0M421.6 432.0h0M509.4 432.0h0M576.3 432.0h0M507.3 435.7h0M511.5 435.7h0M536.6 435.7h0M442.5 439.3h0M478.1 442.9h0M557.5 442.9h0M561.7 442.9h0M513.6 446.5h0M517.8 446.5h0M427.9 450.1h0M515.7 450.1h0M519.9 450.1h0M375.7 453.8h0M379.8 453.8h0M430.0 453.8h0M513.6 453.8h0M369.4 457.4h0M381.9 457.4h0M390.3 457.4h0M384.0 461.0h0M388.2 461.0h0M496.9 461.0h0M555.4 461.0h0M494.8 464.6h0M388.2 468.2h0M396.6 468.2h0M496.9 468.2h0M390.3 471.9h0M490.6 471.9h0M388.2 475.5h0M392.4 475.5h0M492.7 475.5h0M496.9 475.5h0M381.9 479.1h0M390.3 479.1h0M444.6 479.1h0M453.0 479.1h0M490.6 479.1h0M494.8 479.1h0M499.0 479.1h0M570.0 479.1h0M455.1 482.7h0M492.7 482.7h0M457.2 486.3h0M494.8 486.3h0M503.2 486.3h0M511.5 486.3h0M565.9 486.3h0M570.0 486.3h0M488.5 490.0h0M496.9 490.0h0M513.6 490.0h0M419.6 493.6h0M494.8 493.6h0M499.0 493.6h0M503.2 493.6h0M496.9 497.2h0M501.1 497.2h0M509.4 497.2h0M494.8 500.8h0M499.0 500.8h0M384.0 504.4h0M480.2 504.4h0M492.7 504.4h0M496.9 504.4h0M505.2 504.4h0M513.6 504.4h0M534.5 526.2h0M423.7 529.8h0M350.6 533.4h0M354.8 533.4h0M459.3 533.4h0M461.4 537.0h0M507.3 537.0h0M505.2 540.6h0M448.8 544.3h0M388.2 547.9h0M400.7 547.9h0M450.9 547.9h0M390.3 551.5h0M446.7 555.1h0M450.9 555.1h0M484.3 555.1h0M396.6 562.4h0M446.7 569.6h0M476.0 569.6h0M480.2 569.6h0M448.8 573.2h0M469.7 573.2h0M478.1 573.2h0M480.2 576.8h0M478.1 580.5h0" stroke="#9590FF" stroke-width="3.1" stroke-linecap="round" fill="none"/>
<path d="M540.8 319.8h0M484.3 323.4h0M482.2 327.1h0M421.6 337.9h0M455.1 374.1h0M459.3 381.4h0M461.4 385.0h0M423.7 392.2h0M572.1 403.1h0M471.8 410.3h0M407.0 421.2h0M519.9 442.9h0M530.3 453.8h0M423.7 457.4h0M561.7 457.4h0M563.8 461.0h0M419.6 471.9h0M413.3 482.7h0M363.1 490.0h0M522.0 497.2h0M352.7 515.3h0M532.4 515.3h0M484.3 526.2h0M482.2 529.8h0" stroke="#E76BF3" stroke-width="3.1" stroke-linecap="round" fill="none"/>
<path d="M446.7 352.4h0M425.8 366.9h0M423.7 370.5h0M413.3 374.1h0M417.5 374.1h0M590.9 399.5h0M534.5 410.3h0M538.7 410.3h0M540.8 421.2h0M542.9 424.8h0M545.0 428.4h0M394.5 442.9h0M473.9 442.9h0M413.3 453.8h0M540.8 457.4h0M542.9 461.0h0M545.0 464.6h0M547.0 468.2h0M492.7 490.0h0M411.2 551.5h0" stroke="#FF62BC" stroke-width="3.1" stroke-linecap="round" fill="none"/>
<polygon points="557.0,318.5 566.0,318.5 565.0,326.0 561.0,336.0 558.0,328.0" fill="#fbf8fa"/>
<rect x="466.2" y="420.5" width="7.0" height="7" rx="1.4" fill="#39B600" stroke="#fff" stroke-width="0.5" opacity="0.92"/>
<rect x="477.9" y="417.5" width="7.0" height="7" rx="1.4" fill="#F8766D" stroke="#fff" stroke-width="0.5" opacity="0.92"/>
<text x="481.4" y="422.8" text-anchor="middle" class="bx" style="font-size:5px">1</text>
<rect x="469.1" y="424.5" width="7.0" height="7" rx="1.4" fill="#A3A500" stroke="#fff" stroke-width="0.5" opacity="0.92"/>
<text x="472.6" y="429.8" text-anchor="middle" class="bx" style="font-size:5px">3</text>
<rect x="463.3" y="442.9" width="7.0" height="7" rx="1.4" fill="#00B0F6" stroke="#fff" stroke-width="0.5" opacity="0.92"/>
<text x="466.8" y="448.2" text-anchor="middle" class="bx" style="font-size:5px">7</text>
<rect x="466.2" y="450.1" width="9.0" height="7" rx="1.4" fill="#FF62BC" stroke="#fff" stroke-width="0.5" opacity="0.92"/>
<text x="470.7" y="455.4" text-anchor="middle" class="bx" style="font-size:5px">10</text>
<rect x="492.1" y="443.3" width="7.0" height="7" rx="1.4" fill="#00BFC4" stroke="#fff" stroke-width="0.5" opacity="0.92"/>
<text x="495.6" y="448.6" text-anchor="middle" class="bx" style="font-size:5px">6</text>
<rect x="484.3" y="450.1" width="7.0" height="7" rx="1.4" fill="#9590FF" stroke="#fff" stroke-width="0.5" opacity="0.92"/>
<text x="487.8" y="455.4" text-anchor="middle" class="bx" style="font-size:5px">8</text>
<rect x="475.4" y="457.5" width="7.0" height="7" rx="1.4" fill="#D89000" stroke="#fff" stroke-width="0.5" opacity="0.92"/>
<text x="478.9" y="462.8" text-anchor="middle" class="bx" style="font-size:5px">2</text>
<rect x="425.8" y="485.2" width="7.0" height="7" rx="1.4" fill="#E76BF3" stroke="#fff" stroke-width="0.5" opacity="0.92"/>
<text x="429.3" y="490.5" text-anchor="middle" class="bx" style="font-size:5px">9</text>
<rect x="407.8" y="504.5" width="7.0" height="7" rx="1.4" fill="#39B600" stroke="#fff" stroke-width="0.5" opacity="0.92"/>
<text x="411.3" y="509.8" text-anchor="middle" class="bx" style="font-size:5px">4</text>
<text x="384.6" y="339.3" class="pl">E</text>
<circle cx="595.6" cy="388.7" r="1.4" fill="#F8766D"/>
<text transform="translate(598.2 391.3) scale(0.94 1)" class="lge">1 (Hepatocyte)</text>
<circle cx="595.6" cy="400.4" r="1.4" fill="#D89000"/>
<text transform="translate(598.2 403.0) scale(0.94 1)" class="lge">2 (Neutrophil.myeloid)</text>
<circle cx="595.6" cy="412.1" r="1.4" fill="#A3A500"/>
<text transform="translate(598.2 414.7) scale(0.94 1)" class="lge">3 (Hepatocyte)</text>
<circle cx="595.6" cy="423.7" r="1.4" fill="#39B600"/>
<text transform="translate(598.2 426.3) scale(0.94 1)" class="lge">4 (Hepatocyte)</text>
<circle cx="595.6" cy="435.4" r="1.4" fill="#00BF7D"/>
<text transform="translate(598.2 438.0) scale(0.94 1)" class="lge">5 (Late red)</text>
<circle cx="595.6" cy="447.1" r="1.4" fill="#00BFC4"/>
<text transform="translate(598.2 449.7) scale(0.94 1)" class="lge">6 (Early red)</text>
<circle cx="595.6" cy="458.8" r="1.4" fill="#00B0F6"/>
<text transform="translate(598.2 461.4) scale(0.94 1)" class="lge">7 (Megakaryocyte)</text>
<circle cx="595.6" cy="470.5" r="1.4" fill="#9590FF"/>
<text transform="translate(598.2 473.1) scale(0.94 1)" class="lge">8 (Endothelial)</text>
<circle cx="595.6" cy="482.1" r="1.4" fill="#E76BF3"/>
<text transform="translate(598.2 484.7) scale(0.94 1)" class="lge">9 (Mid red)</text>
<circle cx="595.6" cy="493.8" r="1.4" fill="#FF62BC"/>
<text transform="translate(598.2 496.4) scale(0.94 1)" class="lge">10 (Megakaryocyte)</text>
</svg></body></html>
